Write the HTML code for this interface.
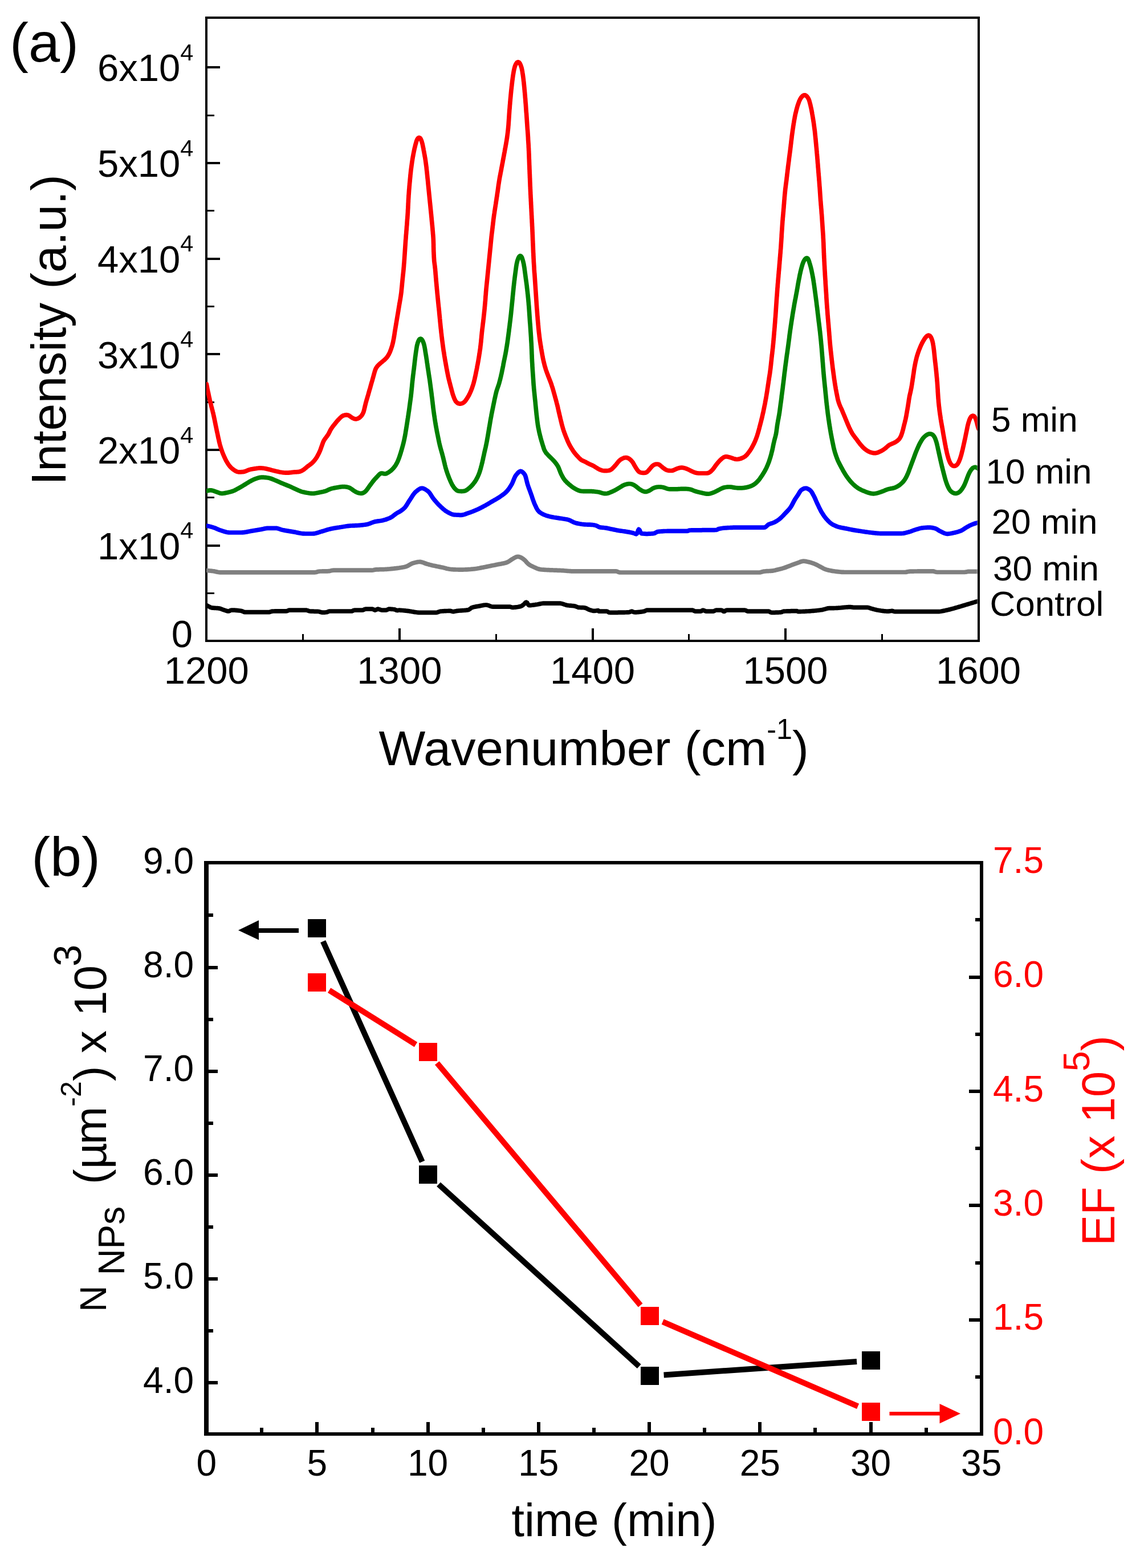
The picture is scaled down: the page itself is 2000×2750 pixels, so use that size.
<!DOCTYPE html>
<html lang="en"><head><meta charset="utf-8"><title>SERS spectra and nanoparticle density</title>
<style>
html,body{margin:0;padding:0;background:#fff;}
body{width:2000px;height:2750px;overflow:hidden;}
svg{display:block;}
text{font-family:"Liberation Sans", sans-serif;}
.red{fill:#ff0000;}
</style></head><body>
<svg width="2000" height="2750" viewBox="0 0 2000 2750" role="img" aria-label="SERS spectra and nanoparticle density versus time">
<rect x="0" y="0" width="2000" height="2750" fill="#ffffff"/>
<g id="plot-a">
<clipPath id="clipa"><rect x="362.0" y="33.3" width="1352.6" height="1089.0"/></clipPath>
<g stroke="#000" stroke-width="4" fill="none" shape-rendering="crispEdges">
<line x1="362.3" y1="956.6" x2="386.3" y2="956.6"/>
<line x1="362.3" y1="788.9" x2="386.3" y2="788.9"/>
<line x1="362.3" y1="621.2" x2="386.3" y2="621.2"/>
<line x1="362.3" y1="453.5" x2="386.3" y2="453.5"/>
<line x1="362.3" y1="285.8" x2="386.3" y2="285.8"/>
<line x1="362.3" y1="118.1" x2="386.3" y2="118.1"/>
<line x1="362.3" y1="1040.5" x2="376.3" y2="1040.5" stroke-width="3"/>
<line x1="362.3" y1="872.8" x2="376.3" y2="872.8" stroke-width="3"/>
<line x1="362.3" y1="705.0" x2="376.3" y2="705.0" stroke-width="3"/>
<line x1="362.3" y1="537.4" x2="376.3" y2="537.4" stroke-width="3"/>
<line x1="362.3" y1="369.6" x2="376.3" y2="369.6" stroke-width="3"/>
<line x1="362.3" y1="202.0" x2="376.3" y2="202.0" stroke-width="3"/>
<line x1="700.9" y1="1124.3" x2="700.9" y2="1102.3"/>
<line x1="1039.5" y1="1124.3" x2="1039.5" y2="1102.3"/>
<line x1="1378.0" y1="1124.3" x2="1378.0" y2="1102.3"/>
<line x1="531.6" y1="1124.3" x2="531.6" y2="1112.3" stroke-width="3"/>
<line x1="870.2" y1="1124.3" x2="870.2" y2="1112.3" stroke-width="3"/>
<line x1="1208.7" y1="1124.3" x2="1208.7" y2="1112.3" stroke-width="3"/>
<line x1="1547.3" y1="1124.3" x2="1547.3" y2="1112.3" stroke-width="3"/>
</g>
<rect x="362.3" y="31.3" width="1354.3" height="1093.0" fill="none" stroke="#000" stroke-width="4.0" shape-rendering="crispEdges"/>
<g clip-path="url(#clipa)" fill="none" stroke-width="7.7" stroke-linejoin="round" stroke-linecap="round">
<path stroke="#000000" d="M362.3 1061.6 L363.8 1062.3 L365.3 1063.1 L366.8 1063.9 L368.3 1064.7 L369.8 1065.4 L371.3 1065.9 L372.8 1066.1 L374.3 1066.2 L375.8 1066.3 L377.3 1066.4 L378.8 1066.5 L380.3 1066.6 L381.8 1066.7 L383.3 1066.8 L384.8 1067.1 L386.3 1067.4 L387.8 1067.9 L389.3 1068.5 L390.8 1069.1 L392.3 1069.6 L393.8 1070.1 L395.3 1070.6 L396.8 1071.1 L398.3 1071.6 L399.8 1071.9 L401.3 1072.0 L402.8 1071.4 L404.3 1070.5 L405.8 1070.1 L407.3 1070.1 L408.8 1070.1 L410.3 1070.2 L411.8 1070.2 L413.3 1070.3 L414.8 1070.4 L416.3 1070.6 L417.8 1070.7 L419.3 1070.9 L420.8 1071.0 L422.3 1071.2 L423.8 1071.5 L425.3 1072.1 L426.8 1072.8 L428.3 1073.4 L429.8 1073.7 L431.3 1073.7 L432.8 1073.7 L434.3 1073.7 L435.8 1073.7 L437.3 1073.7 L438.8 1073.7 L440.3 1073.7 L441.8 1073.7 L443.3 1073.7 L444.8 1073.7 L446.3 1073.7 L447.8 1073.7 L449.3 1073.7 L450.8 1073.7 L452.3 1073.7 L453.8 1073.7 L455.3 1073.7 L456.8 1073.7 L458.3 1073.7 L459.8 1073.7 L461.3 1073.7 L462.8 1073.7 L464.3 1073.7 L465.8 1073.7 L467.3 1073.7 L468.8 1073.7 L470.3 1073.7 L471.8 1073.7 L473.3 1073.4 L474.8 1072.9 L476.3 1072.4 L477.8 1072.1 L479.3 1072.0 L480.8 1072.0 L482.3 1071.9 L483.8 1071.9 L485.3 1071.9 L486.8 1071.9 L488.3 1071.9 L489.8 1071.9 L491.3 1071.9 L492.8 1071.9 L494.3 1071.9 L495.8 1071.9 L497.3 1071.9 L498.8 1071.8 L500.3 1071.8 L501.8 1071.8 L503.3 1071.7 L504.8 1071.1 L506.3 1070.4 L507.8 1070.1 L509.3 1070.1 L510.8 1070.1 L512.3 1070.1 L513.8 1070.1 L515.3 1070.1 L516.8 1070.1 L518.3 1070.1 L519.8 1070.1 L521.3 1070.1 L522.8 1070.1 L524.3 1070.1 L525.8 1070.1 L527.3 1070.1 L528.8 1070.1 L530.3 1070.1 L531.8 1070.1 L533.3 1070.1 L534.8 1070.1 L536.3 1070.1 L537.8 1070.2 L539.3 1070.6 L540.8 1071.1 L542.3 1071.7 L543.8 1072.0 L545.3 1072.1 L546.8 1072.1 L548.3 1072.2 L549.8 1072.2 L551.3 1072.3 L552.8 1072.3 L554.3 1072.3 L555.8 1072.4 L557.3 1072.4 L558.8 1072.5 L560.3 1072.8 L561.8 1073.3 L563.3 1073.7 L564.8 1074.1 L566.3 1074.2 L567.8 1074.2 L569.3 1074.1 L570.8 1074.0 L572.3 1073.8 L573.8 1073.6 L575.3 1072.9 L576.8 1072.3 L578.3 1072.0 L579.8 1072.0 L581.3 1072.0 L582.8 1072.0 L584.3 1072.0 L585.8 1072.0 L587.3 1072.0 L588.8 1072.0 L590.3 1072.0 L591.8 1072.0 L593.3 1072.0 L594.8 1072.0 L596.3 1072.0 L597.8 1072.0 L599.3 1072.0 L600.8 1072.0 L602.3 1072.0 L603.8 1072.0 L605.3 1072.0 L606.8 1072.0 L608.3 1072.0 L609.8 1072.0 L611.3 1072.0 L612.8 1072.0 L614.3 1072.0 L615.8 1072.0 L617.3 1072.0 L618.8 1071.3 L620.3 1070.5 L621.8 1070.1 L623.3 1070.1 L624.8 1070.1 L626.3 1070.1 L627.8 1070.1 L629.3 1070.1 L630.8 1070.1 L632.3 1070.1 L633.8 1070.1 L635.3 1070.1 L636.8 1070.0 L638.3 1069.3 L639.8 1068.5 L641.3 1068.1 L642.8 1068.1 L644.3 1068.1 L645.8 1068.1 L647.3 1068.1 L648.8 1068.1 L650.3 1068.1 L651.8 1068.1 L653.3 1068.1 L654.8 1068.6 L656.3 1069.5 L657.8 1070.1 L659.3 1069.8 L660.8 1068.9 L662.3 1068.2 L663.8 1068.2 L665.3 1068.6 L666.8 1069.2 L668.3 1069.7 L669.8 1070.1 L671.3 1070.1 L672.8 1070.1 L674.3 1070.1 L675.8 1070.1 L677.3 1070.1 L678.8 1069.7 L680.3 1068.9 L681.8 1068.2 L683.3 1068.1 L684.8 1068.2 L686.3 1068.3 L687.8 1068.4 L689.3 1068.5 L690.8 1068.7 L692.3 1068.9 L693.8 1069.5 L695.3 1070.2 L696.8 1070.6 L698.3 1070.4 L699.8 1070.2 L701.3 1070.2 L702.8 1070.3 L704.3 1070.4 L705.8 1070.5 L707.3 1070.6 L708.8 1070.8 L710.3 1070.9 L711.8 1071.1 L713.3 1071.3 L714.8 1071.4 L716.3 1071.6 L717.8 1071.8 L719.3 1072.1 L720.8 1072.3 L722.3 1072.6 L723.8 1072.8 L725.3 1073.1 L726.8 1073.4 L728.3 1073.6 L729.8 1073.8 L731.3 1074.0 L732.8 1074.2 L734.3 1074.3 L735.8 1074.3 L737.3 1074.3 L738.8 1074.3 L740.3 1074.3 L741.8 1074.3 L743.3 1074.3 L744.8 1074.3 L746.3 1074.3 L747.8 1074.3 L749.3 1074.3 L750.8 1074.3 L752.3 1074.3 L753.8 1074.3 L755.3 1074.3 L756.8 1074.3 L758.3 1074.3 L759.8 1074.3 L761.3 1074.3 L762.8 1074.3 L764.3 1074.3 L765.8 1074.3 L767.3 1074.0 L768.8 1073.4 L770.3 1072.8 L771.8 1072.3 L773.3 1072.1 L774.8 1072.0 L776.3 1071.9 L777.8 1071.8 L779.3 1071.7 L780.8 1071.6 L782.3 1071.6 L783.8 1071.5 L785.3 1071.5 L786.8 1071.4 L788.3 1071.4 L789.8 1071.4 L791.3 1071.7 L792.8 1072.2 L794.3 1072.6 L795.8 1072.6 L797.3 1072.3 L798.8 1072.0 L800.3 1071.7 L801.8 1071.4 L803.3 1071.3 L804.8 1071.1 L806.3 1071.0 L807.8 1070.9 L809.3 1070.8 L810.8 1070.7 L812.3 1070.6 L813.8 1070.5 L815.3 1070.4 L816.8 1070.3 L818.3 1070.1 L819.8 1069.9 L821.3 1069.7 L822.8 1069.1 L824.3 1068.1 L825.8 1067.0 L827.3 1065.9 L828.8 1065.3 L830.3 1064.8 L831.8 1064.5 L833.3 1064.2 L834.8 1063.9 L836.3 1063.6 L837.8 1063.4 L839.3 1063.2 L840.8 1062.9 L842.3 1062.6 L843.8 1062.3 L845.3 1062.0 L846.8 1061.7 L848.3 1061.4 L849.8 1061.2 L851.3 1061.0 L852.8 1061.0 L854.3 1061.1 L855.8 1061.5 L857.3 1061.9 L858.8 1062.5 L860.3 1063.1 L861.8 1063.6 L863.3 1064.0 L864.8 1064.1 L866.3 1064.1 L867.8 1064.1 L869.3 1064.1 L870.8 1064.1 L872.3 1064.1 L873.8 1064.1 L875.3 1064.1 L876.8 1064.1 L878.3 1064.1 L879.8 1064.1 L881.3 1064.1 L882.8 1064.1 L884.3 1064.1 L885.8 1064.1 L887.3 1064.1 L888.8 1064.1 L890.3 1064.1 L891.8 1064.1 L893.3 1064.1 L894.8 1064.2 L896.3 1064.7 L897.8 1065.2 L899.3 1065.3 L900.8 1065.3 L902.3 1065.2 L903.8 1065.1 L905.3 1064.9 L906.8 1064.7 L908.3 1064.5 L909.8 1064.2 L911.3 1063.9 L912.8 1063.6 L914.3 1063.1 L915.8 1062.3 L917.3 1061.2 L918.8 1060.1 L920.3 1058.6 L921.8 1057.0 L923.3 1056.2 L924.8 1057.1 L926.3 1059.8 L927.8 1061.7 L929.3 1061.7 L930.8 1061.6 L932.3 1061.5 L933.8 1061.3 L935.3 1061.1 L936.8 1060.9 L938.3 1060.7 L939.8 1060.4 L941.3 1060.2 L942.8 1060.0 L944.3 1059.7 L945.8 1059.4 L947.3 1059.1 L948.8 1058.8 L950.3 1058.5 L951.8 1058.3 L953.3 1058.1 L954.8 1058.1 L956.3 1058.1 L957.8 1058.1 L959.3 1058.1 L960.8 1058.1 L962.3 1058.1 L963.8 1058.1 L965.3 1058.1 L966.8 1058.1 L968.3 1058.1 L969.8 1058.1 L971.3 1058.1 L972.8 1058.1 L974.3 1058.1 L975.8 1058.1 L977.3 1058.1 L978.8 1058.1 L980.3 1058.1 L981.8 1058.1 L983.3 1058.2 L984.8 1058.5 L986.3 1058.9 L987.8 1059.3 L989.3 1059.8 L990.8 1060.4 L992.3 1060.8 L993.8 1061.3 L995.3 1061.6 L996.8 1061.8 L998.3 1062.0 L999.8 1062.1 L1001.3 1062.2 L1002.8 1062.3 L1004.3 1062.5 L1005.8 1062.6 L1007.3 1062.8 L1008.8 1063.1 L1010.3 1063.6 L1011.8 1064.2 L1013.3 1064.8 L1014.8 1065.3 L1016.3 1065.4 L1017.8 1065.5 L1019.3 1065.6 L1020.8 1065.6 L1022.3 1065.7 L1023.8 1065.7 L1025.3 1065.9 L1026.8 1066.2 L1028.3 1066.7 L1029.8 1067.5 L1031.3 1068.2 L1032.8 1069.0 L1034.3 1069.6 L1035.8 1070.0 L1037.3 1070.5 L1038.8 1070.9 L1040.3 1071.3 L1041.8 1071.4 L1043.3 1071.4 L1044.8 1071.2 L1046.3 1071.0 L1047.8 1070.8 L1049.3 1070.7 L1050.4 1072.1 L1051.9 1072.1 L1053.4 1072.1 L1054.9 1072.1 L1056.4 1072.1 L1057.9 1072.1 L1059.4 1072.1 L1060.9 1072.1 L1062.4 1072.1 L1063.9 1072.1 L1065.4 1072.3 L1066.9 1073.2 L1068.4 1074.1 L1069.9 1074.3 L1071.4 1074.3 L1072.9 1074.3 L1074.4 1074.3 L1075.9 1074.3 L1077.4 1074.3 L1078.9 1074.3 L1080.4 1074.3 L1081.9 1074.3 L1083.4 1074.3 L1084.9 1074.2 L1086.4 1074.2 L1087.9 1074.2 L1089.4 1074.2 L1090.9 1074.2 L1092.4 1074.1 L1093.9 1074.1 L1095.4 1074.1 L1096.9 1074.0 L1098.4 1074.0 L1099.9 1073.9 L1101.4 1073.9 L1102.9 1073.8 L1104.4 1073.6 L1105.9 1072.9 L1107.4 1072.3 L1108.9 1072.2 L1110.4 1072.9 L1111.9 1073.6 L1113.4 1073.8 L1114.9 1073.8 L1116.4 1073.8 L1117.9 1073.7 L1119.4 1073.6 L1120.9 1073.4 L1122.4 1073.3 L1123.9 1073.1 L1125.4 1072.9 L1126.9 1072.7 L1128.4 1072.4 L1129.9 1072.2 L1131.4 1071.6 L1132.9 1070.8 L1134.4 1070.2 L1135.9 1070.2 L1137.4 1070.2 L1138.9 1070.2 L1140.4 1070.2 L1141.9 1070.2 L1143.4 1070.2 L1144.9 1070.2 L1146.4 1070.2 L1147.9 1070.2 L1149.4 1070.2 L1150.9 1070.2 L1152.4 1070.2 L1153.9 1070.2 L1155.4 1070.2 L1156.9 1070.2 L1158.4 1070.2 L1159.9 1070.2 L1161.4 1070.2 L1162.9 1070.2 L1164.4 1070.2 L1165.9 1070.2 L1167.4 1070.2 L1168.9 1070.2 L1170.4 1070.2 L1171.9 1070.2 L1173.4 1070.2 L1174.9 1070.2 L1176.4 1070.2 L1177.9 1070.2 L1179.4 1070.2 L1180.9 1070.2 L1182.4 1070.2 L1183.9 1070.2 L1185.4 1070.2 L1186.9 1070.2 L1188.4 1070.2 L1189.9 1070.2 L1191.4 1070.2 L1192.9 1070.2 L1194.4 1070.2 L1195.9 1070.2 L1197.4 1070.2 L1198.9 1070.2 L1200.4 1070.2 L1201.9 1070.2 L1203.4 1070.2 L1204.9 1070.2 L1206.4 1070.2 L1207.9 1070.2 L1209.4 1070.2 L1210.9 1070.2 L1212.4 1070.2 L1213.9 1070.2 L1215.4 1070.2 L1216.9 1070.9 L1218.4 1071.8 L1219.9 1072.1 L1221.4 1072.1 L1222.9 1072.1 L1224.4 1072.1 L1225.9 1072.1 L1227.4 1072.1 L1228.9 1072.1 L1230.4 1071.8 L1231.9 1070.7 L1233.4 1070.2 L1234.9 1070.6 L1236.4 1071.3 L1237.9 1071.9 L1239.4 1072.1 L1240.9 1072.1 L1242.4 1072.1 L1243.9 1072.1 L1245.4 1072.1 L1246.9 1072.1 L1248.4 1072.1 L1249.9 1072.1 L1251.4 1072.1 L1252.9 1071.6 L1254.4 1070.8 L1255.9 1070.2 L1257.4 1070.2 L1258.9 1070.2 L1260.4 1070.2 L1261.9 1070.2 L1263.4 1070.2 L1264.9 1070.2 L1266.4 1070.3 L1267.9 1071.3 L1269.4 1072.4 L1270.9 1072.4 L1272.4 1071.3 L1273.9 1070.3 L1275.4 1070.2 L1276.9 1070.2 L1278.4 1070.2 L1279.9 1070.2 L1281.4 1070.2 L1282.9 1070.2 L1284.4 1070.2 L1285.9 1070.2 L1287.4 1070.2 L1288.9 1070.2 L1290.4 1070.2 L1291.9 1070.2 L1293.4 1070.2 L1294.9 1070.2 L1296.4 1070.2 L1297.9 1070.2 L1299.4 1070.2 L1300.9 1070.2 L1302.4 1070.2 L1303.9 1070.2 L1305.4 1070.2 L1306.9 1070.2 L1308.4 1070.5 L1309.9 1071.4 L1311.4 1072.1 L1312.9 1072.1 L1314.4 1072.1 L1315.9 1072.1 L1317.4 1072.1 L1318.9 1072.1 L1320.4 1072.1 L1321.9 1072.1 L1323.4 1072.1 L1324.9 1072.1 L1326.4 1072.1 L1327.9 1072.1 L1329.4 1072.1 L1330.9 1072.1 L1332.4 1072.1 L1333.9 1072.1 L1335.4 1072.1 L1336.9 1072.1 L1338.4 1072.1 L1339.9 1072.1 L1341.4 1072.1 L1342.9 1072.1 L1344.4 1072.1 L1345.9 1072.1 L1347.4 1072.1 L1348.9 1072.2 L1350.4 1073.0 L1351.9 1073.9 L1353.4 1074.3 L1354.9 1074.3 L1356.4 1074.3 L1357.9 1074.3 L1359.4 1074.3 L1360.9 1074.2 L1362.4 1074.2 L1363.9 1074.1 L1365.4 1074.1 L1366.9 1074.0 L1368.4 1073.9 L1369.9 1073.8 L1371.4 1073.5 L1372.9 1072.8 L1374.4 1072.2 L1375.9 1072.1 L1377.4 1072.0 L1378.9 1072.0 L1380.4 1071.9 L1381.9 1071.9 L1383.4 1071.8 L1384.9 1071.8 L1386.4 1071.8 L1387.9 1071.7 L1389.4 1071.7 L1390.9 1071.7 L1392.4 1071.7 L1393.9 1071.7 L1395.4 1071.7 L1396.9 1071.7 L1398.4 1071.6 L1399.9 1072.6 L1401.4 1072.6 L1402.9 1072.6 L1404.4 1072.6 L1405.9 1072.5 L1407.4 1072.5 L1408.9 1072.4 L1410.4 1072.3 L1411.9 1072.3 L1413.4 1072.2 L1414.9 1072.1 L1416.4 1072.0 L1417.9 1072.0 L1419.4 1071.9 L1420.9 1071.8 L1422.4 1071.7 L1423.9 1071.5 L1425.4 1071.4 L1426.9 1071.3 L1428.4 1071.2 L1429.9 1071.0 L1431.4 1070.9 L1432.9 1070.7 L1434.4 1070.5 L1435.9 1070.4 L1437.4 1070.2 L1438.9 1070.0 L1440.4 1069.8 L1441.9 1069.6 L1443.4 1069.3 L1444.9 1068.9 L1446.4 1068.5 L1447.9 1068.1 L1449.4 1067.6 L1450.9 1067.2 L1452.4 1066.9 L1453.9 1066.7 L1455.4 1066.6 L1456.9 1066.6 L1458.4 1066.6 L1459.9 1066.6 L1461.4 1066.6 L1462.9 1066.6 L1464.4 1066.5 L1465.9 1066.5 L1467.4 1066.4 L1468.9 1066.4 L1470.4 1066.2 L1471.9 1066.1 L1473.4 1066.0 L1474.9 1065.9 L1476.4 1065.7 L1477.9 1065.6 L1479.4 1065.4 L1480.9 1065.3 L1482.4 1065.1 L1483.9 1065.0 L1485.4 1064.9 L1486.9 1064.8 L1488.4 1064.7 L1489.9 1064.6 L1491.4 1064.6 L1492.9 1064.7 L1494.4 1064.9 L1495.9 1065.2 L1497.4 1065.3 L1498.9 1065.3 L1500.4 1065.3 L1501.9 1065.3 L1503.4 1065.3 L1504.9 1065.3 L1506.4 1065.3 L1507.9 1065.3 L1509.4 1065.3 L1510.9 1065.3 L1512.4 1065.3 L1513.9 1065.3 L1515.4 1065.3 L1516.9 1065.3 L1518.4 1065.3 L1519.9 1065.3 L1521.4 1065.3 L1522.9 1065.5 L1524.4 1065.9 L1525.9 1066.4 L1527.4 1067.0 L1528.9 1067.4 L1530.4 1067.8 L1531.9 1068.2 L1533.4 1068.6 L1534.9 1069.0 L1536.4 1069.3 L1537.9 1069.7 L1539.4 1070.0 L1540.9 1070.2 L1542.4 1070.5 L1543.9 1070.7 L1545.4 1071.0 L1546.9 1071.2 L1548.4 1071.4 L1549.9 1071.6 L1551.4 1071.8 L1552.9 1071.9 L1554.4 1072.0 L1555.9 1072.1 L1557.4 1072.1 L1558.9 1072.1 L1560.4 1071.9 L1561.9 1071.7 L1563.4 1071.5 L1564.9 1071.4 L1566.4 1071.7 L1567.9 1072.2 L1569.4 1072.6 L1570.9 1072.6 L1572.4 1072.6 L1573.9 1072.6 L1575.4 1072.6 L1576.9 1072.6 L1578.4 1072.6 L1579.9 1072.6 L1581.4 1072.6 L1582.9 1072.6 L1584.4 1072.6 L1585.9 1072.6 L1587.4 1072.6 L1588.9 1072.6 L1590.4 1072.6 L1591.9 1072.6 L1593.4 1072.6 L1594.9 1072.6 L1596.4 1072.6 L1597.9 1072.6 L1599.4 1072.6 L1600.9 1072.6 L1602.4 1072.6 L1603.9 1072.6 L1605.4 1072.6 L1606.9 1072.6 L1608.4 1072.6 L1609.9 1072.6 L1611.4 1072.6 L1612.9 1072.6 L1614.4 1072.6 L1615.9 1072.6 L1617.4 1072.6 L1618.9 1072.6 L1620.4 1072.6 L1621.9 1072.6 L1623.4 1072.6 L1624.9 1072.6 L1626.4 1072.6 L1627.9 1072.6 L1629.4 1072.6 L1630.9 1072.6 L1632.4 1072.6 L1633.9 1072.6 L1635.4 1072.6 L1636.9 1072.6 L1638.4 1072.6 L1639.9 1072.6 L1641.4 1072.6 L1642.9 1072.6 L1644.4 1072.6 L1645.9 1072.6 L1647.4 1072.6 L1648.9 1072.5 L1650.4 1072.3 L1651.9 1072.0 L1653.4 1071.7 L1654.9 1071.4 L1656.4 1071.1 L1657.9 1070.8 L1659.4 1070.4 L1660.9 1070.1 L1662.4 1069.8 L1663.9 1069.4 L1665.4 1069.1 L1666.9 1068.7 L1668.4 1068.3 L1669.9 1067.9 L1671.4 1067.5 L1672.9 1067.1 L1674.4 1066.7 L1675.9 1066.2 L1677.4 1065.8 L1678.9 1065.4 L1680.4 1064.9 L1681.9 1064.5 L1683.4 1064.0 L1684.9 1063.6 L1686.4 1063.1 L1687.9 1062.7 L1689.4 1062.2 L1690.9 1061.8 L1692.4 1061.3 L1693.9 1060.9 L1695.4 1060.4 L1696.9 1060.0 L1698.4 1059.5 L1699.9 1059.1 L1701.4 1058.6 L1702.9 1058.2 L1704.4 1057.7 L1705.9 1057.3 L1707.4 1056.8 L1708.9 1056.4 L1710.4 1055.9 L1711.9 1055.5 L1713.4 1055.0 L1714.9 1054.6 L1716.4 1054.1 L1716.6 1054.0"/>
<path stroke="#808080" d="M362.3 1000.3 L363.8 1000.5 L365.3 1000.7 L366.8 1000.9 L368.3 1001.0 L369.7 1001.2 L371.2 1001.3 L372.7 1001.5 L374.2 1001.7 L375.7 1001.9 L377.2 1002.2 L378.6 1002.6 L380.1 1002.9 L381.6 1003.2 L383.0 1003.5 L384.5 1003.7 L386.0 1003.8 L387.5 1003.8 L389.0 1003.8 L390.5 1003.9 L392.0 1003.9 L393.5 1003.9 L395.0 1003.9 L396.5 1003.9 L398.0 1003.9 L399.5 1003.9 L401.0 1003.9 L402.5 1003.9 L404.0 1003.9 L405.5 1003.9 L407.0 1003.9 L408.5 1003.9 L410.0 1003.9 L411.5 1003.9 L413.0 1003.9 L414.5 1003.9 L416.0 1003.9 L417.5 1003.9 L419.0 1003.9 L420.5 1003.9 L422.0 1003.9 L423.5 1003.9 L425.0 1003.9 L426.5 1003.9 L428.0 1003.9 L429.5 1003.9 L431.0 1003.9 L432.5 1003.9 L434.0 1003.9 L435.5 1003.9 L437.0 1003.9 L438.5 1003.9 L440.0 1003.9 L441.5 1003.9 L443.0 1003.9 L444.5 1003.9 L446.0 1003.9 L447.5 1003.9 L449.0 1003.9 L450.5 1003.9 L452.0 1003.9 L453.5 1003.9 L455.0 1003.9 L456.5 1003.9 L458.0 1003.9 L459.5 1003.9 L461.0 1003.9 L462.5 1003.9 L464.0 1003.9 L465.5 1003.9 L467.0 1003.9 L468.5 1003.9 L470.0 1003.9 L471.5 1003.9 L473.0 1003.9 L474.5 1003.9 L476.0 1003.9 L477.5 1003.9 L479.0 1003.9 L480.5 1003.9 L482.0 1003.9 L483.5 1003.9 L485.0 1003.9 L486.5 1003.9 L488.0 1003.9 L489.5 1003.9 L491.0 1003.9 L492.5 1003.9 L494.0 1003.9 L495.5 1003.9 L497.0 1003.9 L498.5 1003.9 L500.0 1003.9 L501.5 1003.9 L503.0 1003.9 L504.5 1003.9 L506.0 1003.9 L507.5 1003.9 L509.0 1003.9 L510.5 1003.9 L512.0 1003.9 L513.5 1003.9 L515.0 1003.9 L516.5 1003.9 L518.0 1003.9 L519.5 1003.9 L521.0 1003.9 L522.5 1003.9 L524.1 1003.9 L525.6 1003.9 L527.1 1003.9 L528.6 1003.9 L530.1 1003.9 L531.6 1003.9 L533.1 1003.9 L534.6 1003.9 L536.1 1003.9 L537.6 1003.9 L539.1 1003.9 L540.6 1003.9 L542.1 1003.9 L543.6 1003.9 L545.1 1003.9 L546.6 1003.9 L548.1 1003.9 L549.6 1003.9 L551.1 1003.8 L552.6 1003.8 L554.0 1003.6 L555.5 1003.3 L556.9 1002.8 L558.3 1002.4 L559.8 1002.2 L561.2 1002.0 L562.7 1002.0 L564.2 1002.0 L565.7 1001.9 L567.2 1001.9 L568.7 1001.9 L570.2 1001.9 L571.7 1001.9 L573.2 1001.8 L574.7 1001.8 L576.2 1001.7 L577.7 1001.6 L579.2 1001.3 L580.6 1000.9 L582.1 1000.5 L583.5 1000.3 L585.0 1000.2 L586.5 1000.2 L588.0 1000.2 L589.5 1000.2 L591.0 1000.2 L592.5 1000.2 L594.0 1000.2 L595.5 1000.2 L597.0 1000.2 L598.5 1000.2 L600.0 1000.2 L601.5 1000.2 L603.0 1000.2 L604.5 1000.2 L606.0 1000.2 L607.5 1000.2 L609.0 1000.2 L610.5 1000.2 L612.0 1000.2 L613.5 1000.2 L615.0 1000.2 L616.5 1000.2 L618.0 1000.2 L619.5 1000.2 L621.0 1000.2 L622.5 1000.2 L624.0 1000.2 L625.5 1000.2 L627.0 1000.2 L628.5 1000.2 L630.0 1000.2 L631.5 1000.2 L633.0 1000.2 L634.5 1000.2 L636.0 1000.2 L637.5 1000.2 L639.0 1000.2 L640.5 1000.2 L642.0 1000.2 L643.5 1000.2 L645.0 1000.2 L646.5 1000.2 L648.0 1000.2 L649.5 1000.2 L651.0 1000.2 L652.5 1000.2 L654.0 1000.0 L655.5 999.7 L656.9 999.3 L658.4 999.1 L659.9 998.9 L661.4 998.9 L662.9 998.8 L664.4 998.8 L665.9 998.7 L667.4 998.7 L668.9 998.7 L670.4 998.7 L671.9 998.6 L673.4 998.6 L674.9 998.5 L676.4 998.4 L677.9 998.4 L679.4 998.2 L680.9 998.1 L682.4 998.0 L683.8 997.9 L685.3 997.7 L686.8 997.6 L688.3 997.4 L689.8 997.3 L691.3 997.1 L692.8 996.9 L694.3 996.8 L695.8 996.6 L697.3 996.4 L698.8 996.2 L700.2 996.0 L701.7 995.7 L703.2 995.5 L704.7 995.3 L706.2 995.0 L707.6 994.8 L709.1 994.5 L710.6 994.1 L712.0 993.7 L713.4 993.3 L714.8 992.7 L716.1 992.0 L717.4 991.2 L718.7 990.5 L720.0 989.7 L721.3 989.0 L722.7 988.4 L724.1 987.8 L725.5 987.4 L727.0 987.0 L728.4 986.6 L729.9 986.2 L731.3 985.9 L732.8 985.6 L734.3 985.5 L735.8 985.4 L737.3 985.4 L738.8 985.6 L740.2 986.0 L741.6 986.4 L743.1 986.9 L744.5 987.5 L745.9 988.0 L747.3 988.5 L748.7 989.0 L750.1 989.4 L751.6 989.8 L753.0 990.2 L754.5 990.6 L755.9 990.9 L757.4 991.3 L758.8 991.7 L760.3 992.0 L761.8 992.3 L763.2 992.6 L764.7 992.9 L766.2 993.2 L767.7 993.5 L769.1 993.8 L770.6 994.1 L772.1 994.4 L773.5 994.7 L775.0 995.0 L776.5 995.3 L777.9 995.6 L779.4 996.0 L780.8 996.4 L782.3 996.8 L783.7 997.2 L785.2 997.5 L786.7 997.8 L788.1 998.1 L789.6 998.3 L791.1 998.5 L792.6 998.6 L794.1 998.7 L795.6 998.8 L797.1 998.9 L798.6 998.9 L800.1 999.0 L801.6 999.0 L803.1 999.0 L804.6 999.1 L806.1 999.1 L807.6 999.1 L809.1 999.1 L810.6 999.1 L812.1 999.1 L813.6 999.0 L815.1 999.0 L816.6 998.9 L818.1 998.9 L819.6 998.8 L821.1 998.7 L822.6 998.6 L824.1 998.5 L825.6 998.4 L827.1 998.2 L828.6 998.1 L830.1 998.0 L831.6 997.8 L833.1 997.7 L834.5 997.5 L836.0 997.2 L837.5 997.0 L839.0 996.7 L840.5 996.5 L841.9 996.2 L843.4 995.9 L844.9 995.6 L846.4 995.3 L847.8 995.1 L849.3 994.8 L850.8 994.5 L852.2 994.2 L853.7 993.9 L855.2 993.6 L856.7 993.3 L858.1 993.0 L859.6 992.7 L861.1 992.4 L862.5 992.1 L864.0 991.8 L865.5 991.5 L867.0 991.2 L868.4 990.9 L869.9 990.6 L871.4 990.3 L872.8 990.0 L874.3 989.7 L875.8 989.4 L877.3 989.2 L878.7 988.9 L880.2 988.6 L881.7 988.3 L883.2 988.1 L884.6 987.7 L886.1 987.4 L887.5 987.0 L888.9 986.5 L890.3 985.9 L891.6 985.3 L892.9 984.5 L894.2 983.6 L895.4 982.8 L896.6 981.9 L897.9 981.1 L899.2 980.3 L900.5 979.6 L901.7 978.8 L903.1 978.1 L904.4 977.4 L905.8 976.8 L907.2 976.4 L908.6 976.3 L910.1 976.4 L911.5 976.8 L912.9 977.3 L914.3 978.0 L915.6 978.7 L916.8 979.5 L918.1 980.4 L919.3 981.3 L920.4 982.3 L921.4 983.3 L922.5 984.4 L923.4 985.6 L924.4 986.7 L925.5 987.8 L926.5 988.8 L927.7 989.8 L928.9 990.6 L930.2 991.4 L931.5 992.1 L932.8 992.8 L934.2 993.4 L935.6 994.1 L936.9 994.7 L938.3 995.3 L939.7 995.9 L941.0 996.5 L942.4 997.1 L943.8 997.6 L945.2 998.1 L946.7 998.4 L948.2 998.7 L949.7 998.9 L951.1 999.0 L952.6 999.1 L954.1 999.2 L955.6 999.3 L957.1 999.4 L958.6 999.5 L960.1 999.6 L961.6 999.6 L963.1 999.7 L964.6 999.8 L966.1 999.8 L967.6 999.9 L969.1 999.9 L970.6 1000.0 L972.1 1000.1 L973.6 1000.1 L975.1 1000.2 L976.6 1000.2 L978.1 1000.3 L979.6 1000.3 L981.1 1000.4 L982.6 1000.4 L984.1 1000.5 L985.6 1000.6 L987.1 1000.6 L988.6 1000.7 L990.1 1000.9 L991.6 1001.0 L993.1 1001.1 L994.6 1001.3 L996.1 1001.4 L997.6 1001.5 L999.1 1001.6 L1000.6 1001.7 L1002.1 1001.8 L1003.6 1001.8 L1005.1 1001.8 L1006.6 1001.8 L1008.1 1001.8 L1009.6 1001.8 L1011.1 1001.8 L1012.6 1001.8 L1014.1 1001.8 L1015.6 1001.8 L1017.1 1001.8 L1018.6 1001.8 L1020.1 1001.8 L1021.6 1001.8 L1023.1 1001.8 L1024.6 1001.8 L1026.1 1001.8 L1027.6 1001.8 L1029.1 1001.8 L1030.6 1001.8 L1032.1 1001.8 L1033.6 1001.8 L1035.1 1001.8 L1036.6 1001.8 L1038.1 1001.8 L1039.6 1001.8 L1041.1 1001.8 L1042.6 1001.8 L1044.1 1001.8 L1045.6 1001.8 L1047.1 1001.8 L1048.6 1001.8 L1050.1 1001.8 L1051.6 1001.8 L1053.1 1001.8 L1054.6 1001.8 L1056.1 1001.8 L1057.6 1001.8 L1059.1 1001.8 L1060.6 1001.8 L1062.1 1001.8 L1063.6 1001.8 L1065.1 1001.8 L1066.6 1001.8 L1068.1 1001.8 L1069.6 1001.8 L1071.1 1001.8 L1072.6 1001.8 L1074.1 1001.8 L1075.6 1001.8 L1077.1 1001.8 L1078.6 1001.8 L1080.1 1001.8 L1081.6 1002.0 L1083.0 1002.4 L1084.3 1003.0 L1085.7 1003.6 L1087.1 1003.9 L1088.6 1004.0 L1090.1 1004.0 L1091.6 1004.0 L1093.1 1004.0 L1094.6 1004.0 L1096.1 1004.0 L1097.6 1004.0 L1099.1 1004.0 L1100.6 1004.0 L1102.1 1004.0 L1103.6 1004.0 L1105.1 1004.0 L1106.6 1004.0 L1108.1 1004.0 L1109.6 1004.0 L1111.1 1004.0 L1112.6 1004.0 L1114.1 1004.0 L1115.6 1004.0 L1117.1 1004.0 L1118.6 1004.0 L1120.1 1004.0 L1121.6 1004.0 L1123.1 1004.0 L1124.6 1004.0 L1126.1 1004.0 L1127.6 1004.0 L1129.1 1004.0 L1130.6 1004.0 L1132.1 1004.0 L1133.6 1004.0 L1135.1 1004.0 L1136.6 1004.0 L1138.1 1004.0 L1139.6 1004.0 L1141.1 1004.0 L1142.6 1004.0 L1144.1 1004.0 L1145.6 1004.0 L1147.1 1004.0 L1148.6 1004.0 L1150.1 1004.0 L1151.6 1004.0 L1153.1 1004.0 L1154.6 1004.0 L1156.1 1004.0 L1157.6 1004.0 L1159.1 1004.0 L1160.6 1004.0 L1162.1 1004.0 L1163.6 1004.0 L1165.1 1004.0 L1166.6 1004.0 L1168.1 1004.0 L1169.6 1004.0 L1171.1 1004.0 L1172.6 1004.0 L1174.1 1004.0 L1175.6 1004.0 L1177.1 1004.0 L1178.6 1004.0 L1180.1 1004.0 L1181.6 1004.0 L1183.1 1004.0 L1184.6 1004.0 L1186.1 1004.0 L1187.6 1004.0 L1189.1 1004.0 L1190.6 1004.0 L1192.1 1004.0 L1193.6 1004.0 L1195.1 1004.0 L1196.6 1004.0 L1198.1 1004.0 L1199.6 1004.0 L1201.1 1004.0 L1202.6 1004.0 L1204.1 1004.0 L1205.6 1004.0 L1207.1 1004.0 L1208.6 1004.0 L1210.1 1004.0 L1211.6 1004.0 L1213.1 1004.0 L1214.6 1004.0 L1216.1 1004.0 L1217.6 1004.0 L1219.1 1004.0 L1220.6 1004.0 L1222.1 1004.0 L1223.6 1004.0 L1225.1 1004.0 L1226.6 1004.0 L1228.1 1004.0 L1229.6 1004.0 L1231.1 1004.0 L1232.6 1004.0 L1234.1 1004.0 L1235.6 1004.0 L1237.1 1004.0 L1238.6 1004.0 L1240.1 1004.0 L1241.6 1004.0 L1243.1 1004.0 L1244.6 1004.0 L1246.1 1004.0 L1247.6 1004.0 L1249.1 1004.0 L1250.6 1004.0 L1252.1 1004.0 L1253.6 1004.0 L1255.1 1004.0 L1256.6 1004.0 L1258.1 1004.0 L1259.6 1004.0 L1261.1 1004.0 L1262.6 1004.0 L1264.1 1004.0 L1265.6 1004.0 L1267.1 1004.0 L1268.6 1004.0 L1270.1 1004.0 L1271.6 1004.0 L1273.2 1004.0 L1274.7 1004.0 L1276.2 1004.0 L1277.7 1004.0 L1279.2 1004.0 L1280.7 1004.0 L1282.2 1004.0 L1283.7 1004.0 L1285.2 1004.0 L1286.7 1004.0 L1288.2 1004.0 L1289.7 1004.0 L1291.2 1004.0 L1292.7 1004.0 L1294.2 1004.0 L1295.7 1004.0 L1297.2 1004.0 L1298.7 1004.0 L1300.2 1004.0 L1301.7 1004.0 L1303.2 1004.0 L1304.7 1004.0 L1306.2 1004.0 L1307.7 1004.0 L1309.2 1004.0 L1310.7 1004.0 L1312.2 1004.0 L1313.7 1004.0 L1315.2 1004.0 L1316.7 1004.0 L1318.2 1004.0 L1319.7 1004.0 L1321.2 1004.0 L1322.7 1004.0 L1324.2 1004.0 L1325.7 1004.0 L1327.2 1004.0 L1328.7 1004.0 L1330.2 1004.0 L1331.7 1004.0 L1333.2 1003.9 L1334.6 1003.7 L1336.0 1003.2 L1337.4 1002.8 L1338.9 1002.4 L1340.4 1002.1 L1341.8 1002.0 L1343.3 1001.8 L1344.8 1001.7 L1346.3 1001.7 L1347.8 1001.6 L1349.3 1001.5 L1350.8 1001.4 L1352.3 1001.3 L1353.8 1001.2 L1355.3 1001.1 L1356.8 1000.8 L1358.3 1000.5 L1359.7 1000.2 L1361.2 999.8 L1362.6 999.4 L1364.1 999.1 L1365.5 998.7 L1367.0 998.4 L1368.5 998.0 L1369.9 997.6 L1371.4 997.3 L1372.8 996.9 L1374.2 996.4 L1375.7 996.0 L1377.1 995.5 L1378.5 995.0 L1379.9 994.5 L1381.3 993.9 L1382.7 993.4 L1384.1 992.8 L1385.5 992.3 L1386.9 991.8 L1388.3 991.2 L1389.7 990.7 L1391.1 990.2 L1392.5 989.6 L1393.9 989.1 L1395.3 988.6 L1396.8 988.1 L1398.2 987.6 L1399.6 987.1 L1401.0 986.6 L1402.4 986.1 L1403.8 985.5 L1405.2 985.0 L1406.6 984.6 L1408.1 984.3 L1409.6 984.2 L1411.1 984.2 L1412.6 984.4 L1414.1 984.6 L1415.5 984.9 L1417.0 985.2 L1418.4 985.6 L1419.9 985.9 L1421.4 986.3 L1422.8 986.7 L1424.2 987.2 L1425.6 987.6 L1427.1 988.2 L1428.5 988.7 L1429.8 989.3 L1431.2 989.9 L1432.6 990.5 L1433.9 991.2 L1435.2 991.9 L1436.6 992.6 L1437.9 993.3 L1439.2 994.0 L1440.5 994.7 L1441.9 995.4 L1443.2 996.2 L1444.5 996.9 L1445.8 997.5 L1447.2 998.1 L1448.6 998.6 L1450.1 999.1 L1451.5 999.5 L1452.9 999.9 L1454.4 1000.2 L1455.9 1000.5 L1457.3 1000.8 L1458.8 1001.1 L1460.3 1001.4 L1461.8 1001.6 L1463.3 1001.8 L1464.7 1002.0 L1466.2 1002.2 L1467.7 1002.4 L1469.2 1002.6 L1470.7 1002.7 L1472.2 1002.9 L1473.7 1003.0 L1475.2 1003.2 L1476.7 1003.3 L1478.2 1003.4 L1479.7 1003.4 L1481.2 1003.5 L1482.7 1003.5 L1484.2 1003.5 L1485.7 1003.5 L1487.2 1003.5 L1488.7 1003.5 L1490.2 1003.5 L1491.7 1003.5 L1493.2 1003.5 L1494.7 1003.5 L1496.2 1003.5 L1497.7 1003.5 L1499.2 1003.5 L1500.7 1003.5 L1502.2 1003.5 L1503.7 1003.5 L1505.2 1003.5 L1506.7 1003.5 L1508.2 1003.5 L1509.7 1003.5 L1511.2 1003.5 L1512.7 1003.5 L1514.2 1003.5 L1515.7 1003.5 L1517.2 1003.5 L1518.7 1003.5 L1520.2 1003.5 L1521.7 1003.5 L1523.2 1003.5 L1524.7 1003.5 L1526.2 1003.5 L1527.7 1003.5 L1529.2 1003.5 L1530.7 1003.5 L1532.2 1003.5 L1533.7 1003.5 L1535.2 1003.5 L1536.7 1003.5 L1538.2 1003.5 L1539.7 1003.5 L1541.2 1003.5 L1542.7 1003.5 L1544.2 1003.5 L1545.7 1003.5 L1547.2 1003.5 L1548.7 1003.5 L1550.2 1003.5 L1551.7 1003.5 L1553.2 1003.5 L1554.7 1003.5 L1556.2 1003.5 L1557.7 1003.5 L1559.2 1003.5 L1560.7 1003.5 L1562.2 1003.5 L1563.7 1003.5 L1565.2 1003.5 L1566.7 1003.5 L1568.2 1003.5 L1569.7 1003.5 L1571.2 1003.5 L1572.7 1003.5 L1574.2 1003.5 L1575.7 1003.5 L1577.2 1003.5 L1578.7 1003.5 L1580.2 1003.5 L1581.7 1003.5 L1583.2 1003.5 L1584.7 1003.5 L1586.2 1003.5 L1587.7 1003.5 L1589.2 1003.4 L1590.7 1003.1 L1592.1 1002.8 L1593.6 1002.5 L1595.1 1002.3 L1596.5 1002.2 L1598.0 1002.2 L1599.5 1002.1 L1601.0 1002.1 L1602.5 1002.1 L1604.0 1002.0 L1605.5 1002.0 L1607.0 1002.0 L1608.5 1002.0 L1610.1 1001.9 L1611.6 1001.9 L1613.1 1001.9 L1614.6 1001.9 L1616.1 1001.9 L1617.6 1001.9 L1619.1 1001.9 L1620.6 1001.8 L1622.1 1001.8 L1623.6 1001.8 L1625.1 1001.8 L1626.6 1001.8 L1628.1 1001.8 L1629.6 1001.8 L1631.1 1001.8 L1632.6 1001.8 L1634.1 1001.8 L1635.6 1001.8 L1637.0 1001.9 L1638.5 1002.1 L1639.9 1002.6 L1641.3 1003.0 L1642.8 1003.3 L1644.2 1003.5 L1645.7 1003.5 L1647.2 1003.5 L1648.7 1003.5 L1650.2 1003.5 L1651.7 1003.5 L1653.2 1003.5 L1654.7 1003.5 L1656.2 1003.5 L1657.7 1003.5 L1659.2 1003.5 L1660.7 1003.5 L1662.2 1003.5 L1663.7 1003.5 L1665.2 1003.5 L1666.7 1003.5 L1668.3 1003.5 L1669.8 1003.5 L1671.3 1003.5 L1672.8 1003.5 L1674.3 1003.5 L1675.8 1003.5 L1677.3 1003.5 L1678.8 1003.5 L1680.3 1003.5 L1681.8 1003.5 L1683.3 1003.5 L1684.8 1003.5 L1686.3 1003.5 L1687.8 1003.5 L1689.3 1003.5 L1690.8 1003.5 L1692.3 1003.5 L1693.7 1003.3 L1695.2 1003.1 L1696.7 1002.7 L1698.1 1002.4 L1699.6 1002.3 L1701.1 1002.3 L1702.6 1002.3 L1704.1 1002.3 L1705.6 1002.3 L1707.1 1002.3 L1708.6 1002.3 L1710.1 1002.3 L1711.6 1002.3 L1713.1 1002.3 L1714.6 1002.3 L1716.1 1002.3 L1716.6 1002.3"/>
<path stroke="#0000ff" d="M362.3 922.2 L363.8 922.4 L365.3 922.7 L366.8 923.0 L368.3 923.4 L369.8 923.8 L371.3 924.2 L372.8 924.6 L374.3 925.1 L375.8 925.6 L377.3 926.1 L378.8 926.8 L380.3 927.5 L381.8 928.1 L383.3 928.8 L384.8 929.4 L386.3 929.9 L387.8 930.3 L389.3 930.8 L390.8 931.3 L392.3 931.8 L393.8 932.3 L395.3 932.7 L396.8 933.1 L398.3 933.5 L399.8 933.7 L401.3 933.9 L402.8 934.0 L404.3 934.0 L405.8 934.0 L407.3 934.0 L408.8 934.0 L410.3 934.0 L411.8 934.0 L413.3 934.0 L414.8 934.0 L416.3 934.0 L417.8 934.0 L419.3 934.0 L420.8 934.0 L422.3 934.0 L423.8 934.0 L425.3 933.9 L426.8 933.8 L428.3 933.6 L429.8 933.4 L431.3 933.2 L432.8 932.9 L434.3 932.6 L435.8 932.3 L437.3 932.0 L438.8 931.7 L440.3 931.4 L441.8 931.2 L443.3 930.9 L444.8 930.7 L446.3 930.4 L447.8 930.2 L449.3 929.9 L450.8 929.7 L452.3 929.4 L453.8 929.2 L455.3 928.9 L456.8 928.7 L458.3 928.4 L459.8 928.1 L461.3 927.8 L462.8 927.4 L464.3 927.1 L465.8 926.8 L467.3 926.6 L468.8 926.4 L470.3 926.3 L471.8 926.3 L473.3 926.3 L474.8 926.3 L476.3 926.3 L477.8 926.3 L479.3 926.3 L480.8 926.3 L482.3 926.3 L483.8 926.3 L485.3 926.4 L486.8 926.7 L488.3 927.1 L489.8 927.6 L491.3 928.1 L492.8 928.7 L494.3 929.1 L495.8 929.5 L497.3 929.8 L498.8 930.1 L500.3 930.4 L501.8 930.6 L503.3 930.9 L504.8 931.1 L506.3 931.4 L507.8 931.6 L509.3 931.9 L510.8 932.1 L512.3 932.4 L513.8 932.6 L515.3 932.9 L516.8 933.1 L518.3 933.4 L519.8 933.8 L521.3 934.1 L522.8 934.4 L524.3 934.7 L525.8 935.0 L527.3 935.3 L528.8 935.5 L530.3 935.7 L531.8 935.9 L533.3 935.9 L534.8 936.0 L536.3 936.0 L537.8 936.0 L539.3 936.0 L540.8 936.0 L542.3 936.0 L543.8 936.0 L545.3 936.0 L546.8 936.0 L548.3 936.0 L549.8 935.9 L551.3 935.8 L552.8 935.5 L554.3 935.2 L555.8 934.7 L557.3 934.3 L558.8 933.8 L560.3 933.3 L561.8 932.8 L563.3 932.4 L564.8 932.0 L566.3 931.5 L567.8 931.1 L569.3 930.6 L570.8 930.1 L572.3 929.7 L573.8 929.2 L575.3 928.8 L576.8 928.4 L578.3 928.0 L579.8 927.6 L581.3 927.3 L582.8 927.0 L584.3 926.7 L585.8 926.4 L587.3 926.2 L588.8 925.9 L590.3 925.7 L591.8 925.4 L593.3 925.2 L594.8 925.0 L596.3 924.7 L597.8 924.5 L599.3 924.3 L600.8 924.0 L602.3 923.8 L603.8 923.5 L605.3 923.3 L606.8 923.0 L608.3 922.8 L609.8 922.6 L611.3 922.4 L612.8 922.3 L614.3 922.1 L615.8 922.0 L617.3 922.0 L618.8 921.9 L620.3 921.8 L621.8 921.8 L623.3 921.7 L624.8 921.6 L626.3 921.6 L627.8 921.5 L629.3 921.4 L630.8 921.3 L632.3 921.1 L633.8 921.0 L635.3 920.8 L636.8 920.7 L638.3 920.5 L639.8 920.3 L641.3 920.1 L642.8 919.8 L644.3 919.6 L645.8 919.2 L647.3 918.7 L648.8 918.1 L650.3 917.6 L651.8 916.9 L653.3 916.4 L654.8 915.8 L656.3 915.3 L657.8 914.9 L659.3 914.6 L660.8 914.4 L662.3 914.1 L663.8 913.9 L665.3 913.7 L666.8 913.5 L668.3 913.3 L669.8 913.0 L671.3 912.7 L672.8 912.3 L674.3 911.9 L675.8 911.5 L677.3 911.0 L678.8 910.5 L680.3 909.9 L681.8 909.3 L683.3 908.7 L684.8 908.0 L686.3 907.2 L687.8 906.3 L689.3 905.2 L690.8 904.0 L692.3 902.8 L693.8 901.7 L695.3 900.6 L696.8 899.6 L698.3 898.8 L699.8 898.1 L701.3 897.2 L702.8 896.2 L704.3 895.2 L705.8 894.1 L707.3 892.9 L708.8 891.6 L710.3 890.1 L711.8 888.2 L713.3 886.0 L714.8 883.5 L716.3 881.0 L717.8 878.6 L719.3 876.3 L720.8 874.1 L722.3 871.7 L723.8 869.4 L725.3 867.2 L726.8 865.2 L728.3 863.5 L729.8 862.2 L731.3 860.9 L732.8 859.7 L734.3 858.6 L735.8 857.6 L737.3 856.8 L738.8 856.4 L740.3 856.3 L741.8 856.4 L743.3 856.9 L744.8 857.6 L746.3 858.4 L747.8 859.4 L749.3 860.4 L750.8 861.5 L752.3 862.8 L753.8 864.7 L755.3 866.9 L756.8 869.3 L758.3 871.6 L759.8 873.8 L761.3 875.7 L762.8 877.5 L764.3 879.3 L765.8 881.0 L767.3 882.7 L768.8 884.3 L770.3 885.9 L771.8 887.3 L773.3 888.8 L774.8 890.1 L776.3 891.5 L777.8 892.8 L779.3 894.1 L780.8 895.3 L782.3 896.4 L783.8 897.3 L785.3 898.2 L786.8 899.0 L788.3 899.8 L789.8 900.5 L791.3 901.2 L792.8 901.8 L794.3 902.3 L795.8 902.7 L797.3 902.8 L798.8 902.9 L800.3 903.0 L801.8 903.1 L803.3 903.2 L804.8 903.2 L806.3 903.3 L807.8 903.3 L809.3 903.3 L810.8 903.2 L812.3 902.9 L813.8 902.5 L815.3 902.1 L816.8 901.5 L818.3 901.0 L819.8 900.4 L821.3 899.9 L822.8 899.4 L824.3 898.9 L825.8 898.4 L827.3 897.8 L828.8 897.2 L830.3 896.6 L831.8 896.0 L833.3 895.4 L834.8 894.8 L836.3 894.1 L837.8 893.5 L839.3 892.8 L840.8 892.0 L842.3 891.3 L843.8 890.5 L845.3 889.8 L846.8 889.0 L848.3 888.2 L849.8 887.4 L851.3 886.6 L852.8 885.7 L854.3 884.9 L855.8 884.0 L857.3 883.1 L858.8 882.2 L860.3 881.3 L861.8 880.4 L863.3 879.5 L864.8 878.7 L866.3 877.8 L867.8 876.9 L869.3 876.1 L870.8 875.2 L872.3 874.3 L873.8 873.4 L875.3 872.5 L876.8 871.5 L878.3 870.4 L879.8 869.4 L881.3 868.3 L882.8 867.2 L884.3 866.1 L885.8 864.8 L887.3 863.5 L888.8 862.0 L890.3 860.4 L891.8 858.5 L893.3 856.5 L894.8 854.2 L896.3 851.8 L897.8 849.3 L899.1 846.6 L900.2 844.0 L901.2 841.5 L902.2 839.0 L903.3 836.6 L904.5 834.3 L906.0 832.4 L907.5 830.6 L909.0 828.9 L910.5 827.6 L912.0 826.7 L913.5 826.4 L915.0 826.8 L916.5 827.7 L918.0 829.1 L919.5 830.8 L921.0 832.9 L922.1 835.9 L922.8 838.4 L923.4 840.9 L924.0 843.4 L924.6 845.9 L925.3 848.4 L926.0 850.8 L926.9 853.3 L927.7 855.8 L928.7 858.3 L929.6 860.8 L930.5 863.3 L931.4 865.8 L932.3 868.3 L933.2 870.8 L934.0 873.3 L934.8 875.8 L935.7 878.3 L936.6 880.7 L937.6 883.2 L938.7 885.7 L939.9 888.1 L941.0 890.6 L942.3 893.0 L943.8 895.3 L945.3 897.0 L946.8 898.3 L948.3 899.4 L949.8 900.4 L951.3 901.2 L952.8 902.0 L954.3 902.6 L955.8 903.2 L957.3 903.8 L958.8 904.3 L960.3 904.8 L961.8 905.2 L963.3 905.6 L964.8 906.0 L966.3 906.3 L967.8 906.7 L969.3 906.9 L970.8 907.2 L972.3 907.5 L973.8 907.7 L975.3 907.9 L976.8 908.2 L978.3 908.4 L979.8 908.6 L981.3 908.9 L982.8 909.1 L984.3 909.3 L985.8 909.5 L987.3 909.8 L988.8 910.0 L990.3 910.2 L991.8 910.5 L993.3 910.7 L994.8 911.0 L996.3 911.4 L997.8 911.9 L999.3 912.4 L1000.8 913.1 L1002.3 913.9 L1003.8 914.6 L1005.3 915.4 L1006.8 916.1 L1008.3 916.7 L1009.8 917.2 L1011.3 917.6 L1012.8 917.9 L1014.3 918.2 L1015.8 918.5 L1017.3 918.8 L1018.8 919.0 L1020.3 919.3 L1021.8 919.5 L1023.3 919.6 L1024.8 919.8 L1026.3 919.9 L1027.8 920.0 L1029.3 920.0 L1030.8 920.1 L1032.3 920.1 L1033.8 920.2 L1035.3 920.2 L1036.8 920.3 L1038.3 920.4 L1039.8 920.5 L1041.3 920.7 L1042.8 921.0 L1044.3 921.4 L1045.8 921.8 L1047.3 922.4 L1048.8 923.1 L1050.3 924.2 L1051.8 924.6 L1053.3 924.9 L1054.8 925.1 L1056.3 925.3 L1057.8 925.4 L1059.3 925.5 L1060.8 925.7 L1062.3 925.9 L1063.8 926.1 L1065.3 926.4 L1066.8 926.7 L1068.3 927.0 L1069.8 927.4 L1071.3 927.7 L1072.8 928.0 L1074.3 928.3 L1075.8 928.6 L1077.3 928.9 L1078.8 929.2 L1080.3 929.5 L1081.8 929.9 L1083.3 930.2 L1084.8 930.4 L1086.3 930.7 L1087.8 930.9 L1089.3 931.1 L1090.8 931.3 L1092.3 931.5 L1093.8 931.7 L1095.3 931.9 L1096.8 932.1 L1098.3 932.4 L1099.8 932.6 L1101.3 932.9 L1102.8 933.1 L1104.3 933.4 L1105.8 933.7 L1107.3 934.0 L1108.8 934.4 L1110.3 934.7 L1111.8 935.2 L1113.3 935.8 L1114.8 936.4 L1116.3 936.8 L1117.8 935.4 L1118.7 932.7 L1119.5 930.3 L1120.6 928.4 L1122.1 929.7 L1123.2 932.4 L1124.3 934.7 L1125.8 935.7 L1127.3 935.9 L1128.8 936.0 L1130.3 936.1 L1131.8 936.2 L1133.3 936.3 L1134.8 936.3 L1136.3 936.3 L1137.8 936.2 L1139.3 936.2 L1140.8 936.1 L1142.3 936.0 L1143.8 935.9 L1145.3 935.8 L1146.8 935.6 L1148.3 935.2 L1149.8 934.5 L1151.3 933.6 L1152.8 932.8 L1154.3 932.4 L1155.8 932.3 L1157.3 932.1 L1158.8 932.0 L1160.3 931.9 L1161.8 931.8 L1163.3 931.7 L1164.8 931.6 L1166.3 931.5 L1167.8 931.5 L1169.3 931.5 L1170.8 931.4 L1172.3 931.4 L1173.8 931.4 L1175.3 931.4 L1176.8 931.4 L1178.3 931.4 L1179.8 931.4 L1181.3 931.4 L1182.8 931.4 L1184.3 931.4 L1185.8 931.4 L1187.3 931.4 L1188.8 931.4 L1190.3 931.4 L1191.8 931.4 L1193.3 931.4 L1194.8 931.4 L1196.3 931.4 L1197.8 931.4 L1199.3 931.4 L1200.8 931.4 L1202.3 931.4 L1203.8 931.4 L1205.3 931.4 L1206.8 931.1 L1208.3 930.5 L1209.8 930.0 L1211.3 930.0 L1212.8 929.9 L1214.3 929.9 L1215.8 929.9 L1217.3 929.8 L1218.8 929.8 L1220.3 929.8 L1221.8 929.8 L1223.3 929.8 L1224.8 929.8 L1226.3 929.8 L1227.8 929.8 L1229.3 929.8 L1230.8 929.8 L1232.3 929.7 L1233.8 929.7 L1235.3 929.7 L1236.8 929.7 L1238.3 929.7 L1239.8 929.7 L1241.3 929.7 L1242.8 929.7 L1244.3 929.7 L1245.8 929.7 L1247.3 929.7 L1248.8 929.7 L1250.3 929.6 L1251.8 929.6 L1253.3 929.6 L1254.8 929.5 L1256.3 929.5 L1257.8 929.1 L1259.3 928.3 L1260.8 927.6 L1262.3 927.3 L1263.8 927.0 L1265.3 926.7 L1266.8 926.5 L1268.3 926.3 L1269.8 926.1 L1271.3 926.0 L1272.8 925.9 L1274.3 925.8 L1275.8 925.7 L1277.3 925.6 L1278.8 925.5 L1280.3 925.5 L1281.8 925.4 L1283.3 925.3 L1284.8 925.3 L1286.3 925.2 L1287.8 925.2 L1289.3 925.2 L1290.8 925.1 L1292.3 925.1 L1293.8 925.1 L1295.3 925.1 L1296.8 925.1 L1298.3 925.1 L1299.8 925.1 L1301.3 925.1 L1302.8 925.1 L1304.3 925.1 L1305.8 925.1 L1307.3 925.1 L1308.8 925.1 L1310.3 925.1 L1311.8 925.1 L1313.3 925.1 L1314.8 925.1 L1316.3 925.1 L1317.8 925.1 L1319.3 925.1 L1320.8 925.1 L1322.3 925.1 L1323.8 925.1 L1325.3 925.1 L1326.8 925.1 L1328.3 925.1 L1329.8 925.1 L1331.3 925.1 L1332.8 925.1 L1334.3 925.1 L1335.8 925.1 L1337.3 925.1 L1338.8 925.1 L1340.3 925.1 L1341.8 925.0 L1343.3 924.2 L1344.8 922.9 L1346.3 921.4 L1347.8 920.1 L1349.3 919.4 L1350.8 918.8 L1352.3 918.2 L1353.8 917.8 L1355.3 917.3 L1356.8 916.7 L1358.3 916.1 L1359.8 915.3 L1361.3 914.5 L1362.8 913.6 L1364.3 912.6 L1365.8 911.6 L1367.3 910.5 L1368.8 909.3 L1370.3 907.9 L1371.8 906.4 L1373.3 904.9 L1374.8 903.3 L1376.3 901.7 L1377.8 900.1 L1379.3 898.5 L1380.8 897.0 L1382.3 895.4 L1383.8 893.7 L1385.3 892.0 L1386.8 890.0 L1388.3 887.7 L1389.7 885.1 L1391.0 882.6 L1392.3 880.1 L1393.6 877.7 L1395.0 875.3 L1396.5 873.0 L1398.0 870.8 L1399.5 868.6 L1401.0 866.2 L1402.5 863.7 L1404.0 861.4 L1405.5 859.6 L1407.0 858.6 L1408.5 857.7 L1410.0 857.0 L1411.5 856.5 L1413.0 856.3 L1414.5 856.3 L1416.0 856.7 L1417.5 857.4 L1419.0 858.3 L1420.5 859.3 L1422.0 860.5 L1423.5 862.2 L1425.0 864.6 L1426.3 867.1 L1427.7 869.6 L1429.0 872.2 L1430.2 874.8 L1431.2 877.3 L1432.3 879.8 L1433.4 882.3 L1434.6 884.7 L1435.8 887.2 L1436.9 889.7 L1438.2 892.2 L1439.4 894.7 L1440.7 897.1 L1442.2 899.5 L1443.7 901.9 L1445.2 904.2 L1446.7 906.3 L1448.2 908.3 L1449.7 910.1 L1451.2 911.7 L1452.7 913.3 L1454.2 914.8 L1455.7 916.2 L1457.2 917.4 L1458.7 918.6 L1460.2 919.5 L1461.7 920.4 L1463.2 921.1 L1464.7 921.8 L1466.2 922.5 L1467.7 923.0 L1469.2 923.6 L1470.7 924.1 L1472.2 924.5 L1473.7 924.9 L1475.2 925.2 L1476.7 925.6 L1478.2 925.8 L1479.7 926.1 L1481.2 926.4 L1482.7 926.7 L1484.2 926.9 L1485.7 927.2 L1487.2 927.5 L1488.7 927.9 L1490.2 928.2 L1491.7 928.5 L1493.2 928.8 L1494.7 929.1 L1496.2 929.4 L1497.7 929.6 L1499.2 929.9 L1500.7 930.1 L1502.2 930.4 L1503.7 930.6 L1505.2 930.8 L1506.7 931.1 L1508.2 931.3 L1509.7 931.5 L1511.2 931.8 L1512.7 932.0 L1514.2 932.2 L1515.7 932.4 L1517.2 932.7 L1518.7 932.9 L1520.2 933.1 L1521.7 933.3 L1523.2 933.5 L1524.7 933.7 L1526.2 933.9 L1527.7 934.0 L1529.2 934.2 L1530.7 934.4 L1532.2 934.6 L1533.7 934.7 L1535.2 934.9 L1536.7 935.1 L1538.2 935.2 L1539.7 935.3 L1541.2 935.4 L1542.7 935.5 L1544.2 935.6 L1545.7 935.6 L1547.2 935.6 L1548.7 935.6 L1550.2 935.6 L1551.7 935.6 L1553.2 935.6 L1554.7 935.6 L1556.2 935.6 L1557.7 935.6 L1559.2 935.6 L1560.7 935.6 L1562.2 935.6 L1563.7 935.6 L1565.2 935.6 L1566.7 935.6 L1568.2 935.6 L1569.7 935.6 L1571.2 935.6 L1572.7 935.6 L1574.2 935.6 L1575.7 935.6 L1577.2 935.6 L1578.7 935.6 L1580.2 935.6 L1581.7 935.6 L1583.2 935.5 L1584.7 935.4 L1586.2 935.1 L1587.7 934.8 L1589.2 934.4 L1590.7 934.0 L1592.2 933.6 L1593.7 933.2 L1595.2 932.8 L1596.7 932.4 L1598.2 931.9 L1599.7 931.3 L1601.2 930.7 L1602.7 930.2 L1604.2 929.7 L1605.7 929.2 L1607.2 928.7 L1608.7 928.2 L1610.2 927.8 L1611.7 927.3 L1613.2 926.9 L1614.7 926.5 L1616.2 926.2 L1617.7 925.9 L1619.2 925.8 L1620.7 925.6 L1622.2 925.5 L1623.7 925.4 L1625.2 925.3 L1626.7 925.2 L1628.2 925.2 L1629.7 925.1 L1631.2 925.1 L1632.7 925.2 L1634.2 925.4 L1635.7 925.6 L1637.2 925.9 L1638.7 926.3 L1640.2 926.6 L1641.7 927.1 L1643.2 927.9 L1644.7 928.8 L1646.2 929.8 L1647.7 930.8 L1649.2 931.6 L1650.7 932.3 L1652.2 933.0 L1653.7 933.8 L1655.2 934.5 L1656.7 935.1 L1658.2 935.6 L1659.7 936.0 L1661.2 936.3 L1662.7 936.3 L1664.2 936.2 L1665.7 936.0 L1667.2 935.8 L1668.7 935.5 L1670.2 935.2 L1671.7 934.9 L1673.2 934.5 L1674.7 934.2 L1676.2 933.9 L1677.7 933.5 L1679.2 933.1 L1680.7 932.7 L1682.2 932.2 L1683.7 931.7 L1685.2 931.1 L1686.7 930.5 L1688.2 929.7 L1689.7 928.8 L1691.2 927.8 L1692.7 926.7 L1694.2 925.7 L1695.7 924.8 L1697.2 924.0 L1698.7 923.1 L1700.2 922.3 L1701.7 921.6 L1703.2 920.8 L1704.7 920.2 L1706.2 919.6 L1707.7 919.0 L1709.2 918.5 L1710.7 918.0 L1712.2 917.5 L1713.7 917.1 L1715.2 916.7 L1716.6 916.4"/>
<path stroke="#008000" d="M362.3 861.4 L363.7 860.9 L365.1 860.4 L366.6 860.1 L368.0 859.9 L369.5 859.8 L371.0 859.9 L372.4 860.2 L373.9 860.6 L375.3 861.1 L376.7 861.6 L378.1 862.1 L379.5 862.6 L380.9 863.2 L382.3 863.7 L383.7 864.2 L385.1 864.7 L386.5 865.1 L388.0 865.3 L389.5 865.4 L391.0 865.3 L392.4 865.1 L393.9 864.9 L395.4 864.6 L396.8 864.3 L398.3 864.0 L399.8 863.7 L401.2 863.3 L402.7 863.0 L404.1 862.6 L405.6 862.2 L407.0 861.8 L408.4 861.3 L409.8 860.8 L411.2 860.2 L412.6 859.5 L413.9 858.8 L415.2 858.1 L416.5 857.4 L417.8 856.7 L419.2 856.0 L420.5 855.2 L421.8 854.5 L423.1 853.7 L424.4 853.0 L425.7 852.2 L426.9 851.4 L428.2 850.7 L429.5 849.9 L430.8 849.1 L432.0 848.3 L433.3 847.5 L434.6 846.7 L435.9 845.9 L437.1 845.1 L438.4 844.4 L439.8 843.7 L441.1 842.9 L442.4 842.3 L443.8 841.6 L445.1 841.0 L446.5 840.4 L447.9 839.9 L449.3 839.4 L450.7 838.9 L452.2 838.4 L453.6 838.0 L455.0 837.6 L456.5 837.4 L458.0 837.2 L459.5 837.1 L461.0 837.1 L462.5 837.2 L464.0 837.3 L465.5 837.4 L466.9 837.6 L468.4 837.8 L469.9 838.0 L471.4 838.3 L472.8 838.6 L474.3 839.0 L475.7 839.5 L477.1 840.0 L478.5 840.5 L479.9 841.1 L481.3 841.7 L482.7 842.3 L484.1 842.8 L485.4 843.4 L486.8 844.0 L488.2 844.6 L489.6 845.2 L490.9 845.9 L492.3 846.5 L493.7 847.1 L495.0 847.7 L496.4 848.2 L497.8 848.8 L499.2 849.4 L500.6 849.9 L502.0 850.5 L503.4 851.0 L504.8 851.6 L506.2 852.2 L507.6 852.7 L508.9 853.3 L510.3 853.9 L511.7 854.6 L513.0 855.2 L514.4 855.8 L515.7 856.5 L517.1 857.1 L518.5 857.7 L519.8 858.4 L521.2 859.0 L522.6 859.6 L523.9 860.2 L525.3 860.8 L526.7 861.4 L528.1 861.9 L529.5 862.4 L531.0 862.8 L532.4 863.1 L533.9 863.4 L535.3 863.7 L536.8 864.0 L538.3 864.3 L539.8 864.5 L541.3 864.7 L542.7 865.0 L544.2 865.2 L545.7 865.3 L547.2 865.4 L548.7 865.5 L550.2 865.4 L551.7 865.3 L553.2 865.0 L554.6 864.8 L556.1 864.5 L557.6 864.2 L559.0 863.9 L560.5 863.6 L562.0 863.3 L563.5 863.1 L564.9 862.8 L566.4 862.5 L567.9 862.1 L569.3 861.8 L570.7 861.3 L572.1 860.8 L573.5 860.3 L574.9 859.6 L576.2 859.0 L577.6 858.4 L579.0 857.8 L580.4 857.3 L581.8 856.9 L583.3 856.5 L584.7 856.2 L586.2 855.9 L587.7 855.6 L589.1 855.3 L590.6 855.1 L592.1 854.8 L593.6 854.6 L595.1 854.3 L596.5 854.1 L598.0 853.9 L599.5 853.7 L601.0 853.6 L602.5 853.6 L604.0 853.6 L605.5 853.7 L607.0 853.9 L608.5 854.1 L609.9 854.4 L611.4 854.8 L612.7 855.3 L614.1 855.9 L615.3 856.7 L616.6 857.5 L617.8 858.4 L619.0 859.3 L620.2 860.2 L621.4 861.0 L622.7 861.8 L624.0 862.6 L625.3 863.2 L626.7 863.8 L628.1 864.3 L629.5 864.7 L631.0 865.0 L632.5 865.2 L633.9 865.3 L635.4 865.1 L636.7 864.7 L638.0 864.1 L639.3 863.3 L640.4 862.4 L641.5 861.4 L642.5 860.3 L643.5 859.1 L644.4 857.9 L645.3 856.7 L646.1 855.5 L647.0 854.3 L647.8 853.0 L648.7 851.8 L649.6 850.6 L650.5 849.4 L651.4 848.2 L652.3 847.0 L653.2 845.8 L654.1 844.6 L655.0 843.4 L656.0 842.3 L656.9 841.1 L657.9 840.0 L659.0 838.9 L660.0 837.8 L661.0 836.7 L662.1 835.6 L663.1 834.5 L664.1 833.4 L665.1 832.4 L666.2 831.4 L667.3 830.6 L668.6 830.1 L669.9 830.0 L671.2 830.3 L672.6 830.6 L674.0 830.9 L675.4 831.0 L676.8 830.9 L678.1 830.4 L679.4 829.8 L680.7 829.0 L682.0 828.2 L683.2 827.4 L684.4 826.5 L685.6 825.6 L686.7 824.6 L687.8 823.6 L688.9 822.5 L689.9 821.4 L690.9 820.3 L691.8 819.1 L692.7 817.9 L693.6 816.7 L694.4 815.4 L695.1 814.1 L695.9 812.8 L696.6 811.5 L697.2 810.2 L697.9 808.8 L698.4 807.4 L699.0 806.0 L699.5 804.6 L700.1 803.2 L700.6 801.8 L701.0 800.4 L701.5 799.0 L702.0 797.5 L702.4 796.1 L702.9 794.7 L703.3 793.2 L703.7 791.8 L704.2 790.4 L704.6 788.9 L705.0 787.5 L705.4 786.1 L705.8 784.6 L706.2 783.2 L706.6 781.7 L707.0 780.3 L707.4 778.8 L707.7 777.4 L708.1 775.9 L708.4 774.4 L708.8 773.0 L709.1 771.5 L709.4 770.0 L709.7 768.6 L710.0 767.1 L710.3 765.6 L710.6 764.2 L710.8 762.7 L711.1 761.2 L711.4 759.7 L711.6 758.2 L711.8 756.8 L712.1 755.3 L712.3 753.8 L712.6 752.3 L712.8 750.8 L713.0 749.4 L713.3 747.9 L713.5 746.4 L713.7 744.9 L714.0 743.4 L714.2 741.9 L714.4 740.5 L714.7 739.0 L714.9 737.5 L715.1 736.0 L715.3 734.5 L715.6 733.1 L715.8 731.6 L716.0 730.1 L716.3 728.6 L716.5 727.1 L716.7 725.6 L716.9 724.2 L717.1 722.7 L717.4 721.2 L717.6 719.7 L717.8 718.2 L718.0 716.7 L718.2 715.2 L718.4 713.8 L718.6 712.3 L718.8 710.8 L719.0 709.3 L719.2 707.8 L719.4 706.3 L719.6 704.8 L719.8 703.4 L720.0 701.9 L720.2 700.4 L720.4 698.9 L720.6 697.4 L720.8 695.9 L721.0 694.4 L721.1 692.9 L721.3 691.4 L721.5 690.0 L721.6 688.5 L721.8 687.0 L721.9 685.5 L722.1 684.0 L722.2 682.5 L722.4 681.0 L722.5 679.5 L722.7 678.0 L722.8 676.5 L722.9 675.0 L723.1 673.5 L723.2 672.0 L723.4 670.6 L723.5 669.1 L723.7 667.6 L723.9 666.1 L724.0 664.6 L724.2 663.1 L724.4 661.6 L724.5 660.1 L724.7 658.6 L724.9 657.1 L725.1 655.6 L725.3 654.2 L725.4 652.7 L725.6 651.2 L725.8 649.7 L726.0 648.2 L726.2 646.7 L726.4 645.2 L726.5 643.7 L726.7 642.2 L726.9 640.8 L727.1 639.3 L727.2 637.8 L727.4 636.3 L727.6 634.8 L727.7 633.3 L727.9 631.8 L728.1 630.3 L728.3 628.8 L728.4 627.3 L728.6 625.9 L728.8 624.4 L729.0 622.9 L729.2 621.4 L729.4 619.9 L729.6 618.4 L729.8 616.9 L730.0 615.5 L730.3 614.0 L730.5 612.5 L730.7 611.0 L731.0 609.5 L731.2 608.1 L731.5 606.6 L731.8 605.1 L732.2 603.7 L732.6 602.2 L733.0 600.8 L733.6 599.4 L734.1 598.0 L734.8 596.7 L735.5 595.5 L736.4 594.6 L737.4 594.2 L738.4 594.2 L739.4 594.8 L740.3 595.8 L741.1 597.0 L741.8 598.3 L742.4 599.7 L742.9 601.1 L743.4 602.5 L743.8 603.9 L744.2 605.4 L744.5 606.8 L744.8 608.3 L745.1 609.8 L745.4 611.3 L745.6 612.7 L745.9 614.2 L746.1 615.7 L746.3 617.2 L746.6 618.7 L746.8 620.1 L747.0 621.6 L747.3 623.1 L747.5 624.6 L747.8 626.1 L748.0 627.5 L748.2 629.0 L748.5 630.5 L748.7 632.0 L748.9 633.5 L749.1 635.0 L749.3 636.4 L749.6 637.9 L749.8 639.4 L750.0 640.9 L750.2 642.4 L750.4 643.9 L750.6 645.4 L750.9 646.8 L751.1 648.3 L751.3 649.8 L751.5 651.3 L751.8 652.8 L752.0 654.3 L752.2 655.7 L752.4 657.2 L752.7 658.7 L752.9 660.2 L753.1 661.7 L753.3 663.1 L753.6 664.6 L753.8 666.1 L754.0 667.6 L754.2 669.1 L754.4 670.6 L754.6 672.1 L754.8 673.5 L755.0 675.0 L755.2 676.5 L755.4 678.0 L755.6 679.5 L755.8 681.0 L756.0 682.5 L756.2 683.9 L756.4 685.4 L756.6 686.9 L756.8 688.4 L757.0 689.9 L757.2 691.4 L757.3 692.9 L757.5 694.4 L757.7 695.9 L757.9 697.3 L758.1 698.8 L758.3 700.3 L758.4 701.8 L758.6 703.3 L758.8 704.8 L759.0 706.3 L759.1 707.8 L759.3 709.3 L759.5 710.8 L759.7 712.2 L759.8 713.7 L760.0 715.2 L760.2 716.7 L760.4 718.2 L760.6 719.7 L760.8 721.2 L761.0 722.7 L761.2 724.1 L761.4 725.6 L761.6 727.1 L761.8 728.6 L762.0 730.1 L762.3 731.6 L762.5 733.1 L762.7 734.5 L762.9 736.0 L763.2 737.5 L763.4 739.0 L763.6 740.5 L763.9 741.9 L764.1 743.4 L764.4 744.9 L764.6 746.4 L764.9 747.9 L765.1 749.3 L765.4 750.8 L765.7 752.3 L766.0 753.8 L766.2 755.2 L766.5 756.7 L766.8 758.2 L767.1 759.7 L767.4 761.1 L767.7 762.6 L768.0 764.1 L768.3 765.5 L768.6 767.0 L768.9 768.5 L769.2 769.9 L769.5 771.4 L769.8 772.9 L770.1 774.3 L770.4 775.8 L770.7 777.3 L771.1 778.7 L771.4 780.2 L771.8 781.7 L772.1 783.1 L772.5 784.6 L772.9 786.0 L773.3 787.5 L773.7 788.9 L774.1 790.3 L774.5 791.8 L774.9 793.2 L775.4 794.7 L775.7 796.1 L776.1 797.6 L776.5 799.0 L776.9 800.5 L777.3 801.9 L777.6 803.4 L778.0 804.8 L778.3 806.3 L778.7 807.8 L779.0 809.2 L779.4 810.7 L779.7 812.1 L780.1 813.6 L780.4 815.1 L780.8 816.5 L781.2 818.0 L781.5 819.4 L781.9 820.9 L782.4 822.3 L782.8 823.7 L783.2 825.2 L783.7 826.6 L784.2 828.0 L784.6 829.4 L785.1 830.9 L785.6 832.3 L786.2 833.7 L786.7 835.1 L787.2 836.5 L787.8 837.9 L788.3 839.3 L788.9 840.6 L789.5 842.0 L790.1 843.4 L790.7 844.8 L791.3 846.1 L792.0 847.5 L792.6 848.8 L793.3 850.2 L794.1 851.5 L794.9 852.7 L795.7 854.0 L796.6 855.2 L797.5 856.3 L798.5 857.4 L799.6 858.5 L800.7 859.5 L801.9 860.3 L803.2 860.9 L804.6 861.3 L806.0 861.5 L807.5 861.5 L809.0 861.6 L810.5 861.6 L812.0 861.5 L813.5 861.4 L814.9 861.1 L816.3 860.7 L817.6 860.1 L818.9 859.3 L820.1 858.4 L821.3 857.5 L822.4 856.6 L823.6 855.6 L824.7 854.6 L825.8 853.6 L826.9 852.5 L827.9 851.5 L828.9 850.3 L829.9 849.2 L830.8 848.0 L831.7 846.8 L832.6 845.6 L833.5 844.4 L834.3 843.1 L835.1 841.9 L835.8 840.6 L836.5 839.2 L837.2 837.9 L837.9 836.6 L838.5 835.2 L839.1 833.8 L839.7 832.5 L840.2 831.1 L840.8 829.7 L841.3 828.3 L841.8 826.8 L842.2 825.4 L842.6 824.0 L843.1 822.5 L843.5 821.1 L843.8 819.6 L844.2 818.2 L844.6 816.7 L845.0 815.3 L845.3 813.8 L845.7 812.4 L846.1 810.9 L846.4 809.4 L846.7 808.0 L847.1 806.5 L847.4 805.1 L847.7 803.6 L848.0 802.1 L848.3 800.7 L848.7 799.2 L849.0 797.7 L849.3 796.3 L849.6 794.8 L849.9 793.3 L850.3 791.9 L850.6 790.4 L850.9 788.9 L851.3 787.5 L851.6 786.0 L852.0 784.6 L852.3 783.1 L852.6 781.6 L852.9 780.2 L853.2 778.7 L853.5 777.2 L853.8 775.8 L854.1 774.3 L854.4 772.8 L854.6 771.3 L854.9 769.8 L855.1 768.4 L855.4 766.9 L855.7 765.4 L855.9 763.9 L856.2 762.5 L856.4 761.0 L856.7 759.5 L856.9 758.0 L857.2 756.5 L857.4 755.1 L857.7 753.6 L857.9 752.1 L858.2 750.6 L858.4 749.2 L858.7 747.7 L858.9 746.2 L859.2 744.7 L859.4 743.2 L859.7 741.8 L859.9 740.3 L860.2 738.8 L860.4 737.3 L860.7 735.8 L860.9 734.4 L861.2 732.9 L861.5 731.4 L861.8 729.9 L862.0 728.5 L862.3 727.0 L862.6 725.5 L862.9 724.0 L863.2 722.6 L863.5 721.1 L863.8 719.6 L864.1 718.2 L864.4 716.7 L864.7 715.2 L865.0 713.8 L865.3 712.3 L865.6 710.8 L865.9 709.3 L866.2 707.9 L866.5 706.4 L866.8 704.9 L867.1 703.5 L867.4 702.0 L867.7 700.5 L868.0 699.1 L868.4 697.6 L868.7 696.1 L869.0 694.7 L869.3 693.2 L869.7 691.7 L870.0 690.3 L870.4 688.8 L870.7 687.4 L871.1 685.9 L871.6 684.5 L872.0 683.1 L872.5 681.6 L873.0 680.2 L873.5 678.8 L874.0 677.4 L874.5 676.0 L874.9 674.6 L875.4 673.1 L875.8 671.7 L876.2 670.2 L876.6 668.8 L877.0 667.3 L877.4 665.9 L877.7 664.4 L878.1 663.0 L878.4 661.5 L878.8 660.1 L879.1 658.6 L879.4 657.1 L879.8 655.7 L880.1 654.2 L880.4 652.7 L880.7 651.3 L881.0 649.8 L881.3 648.3 L881.6 646.9 L881.9 645.4 L882.2 643.9 L882.5 642.4 L882.8 641.0 L883.0 639.5 L883.3 638.0 L883.6 636.6 L883.9 635.1 L884.2 633.6 L884.5 632.1 L884.8 630.7 L885.1 629.2 L885.4 627.7 L885.7 626.3 L886.0 624.8 L886.3 623.3 L886.6 621.9 L886.9 620.4 L887.1 618.9 L887.4 617.4 L887.7 616.0 L887.9 614.5 L888.2 613.0 L888.4 611.5 L888.7 610.0 L888.9 608.6 L889.2 607.1 L889.4 605.6 L889.6 604.1 L889.9 602.6 L890.1 601.1 L890.3 599.7 L890.5 598.2 L890.7 596.7 L890.9 595.2 L891.1 593.7 L891.3 592.2 L891.5 590.7 L891.7 589.3 L891.9 587.8 L892.1 586.3 L892.3 584.8 L892.5 583.3 L892.7 581.8 L892.9 580.3 L893.0 578.8 L893.2 577.4 L893.4 575.9 L893.6 574.4 L893.8 572.9 L894.0 571.4 L894.2 569.9 L894.3 568.4 L894.5 566.9 L894.7 565.4 L894.9 564.0 L895.1 562.5 L895.3 561.0 L895.4 559.5 L895.6 558.0 L895.8 556.5 L896.0 555.0 L896.1 553.5 L896.3 552.0 L896.5 550.5 L896.6 549.1 L896.8 547.6 L896.9 546.1 L897.1 544.6 L897.2 543.1 L897.4 541.6 L897.5 540.1 L897.7 538.6 L897.8 537.1 L898.0 535.6 L898.1 534.1 L898.3 532.6 L898.4 531.1 L898.6 529.7 L898.7 528.2 L898.9 526.7 L899.0 525.2 L899.2 523.7 L899.3 522.2 L899.4 520.7 L899.6 519.2 L899.7 517.7 L899.9 516.2 L900.0 514.7 L900.2 513.2 L900.3 511.7 L900.5 510.2 L900.6 508.8 L900.8 507.3 L900.9 505.8 L901.1 504.3 L901.2 502.8 L901.4 501.3 L901.6 499.8 L901.7 498.3 L901.9 496.8 L902.1 495.3 L902.2 493.8 L902.4 492.3 L902.6 490.9 L902.8 489.4 L902.9 487.9 L903.1 486.4 L903.3 484.9 L903.5 483.4 L903.7 481.9 L903.9 480.4 L904.1 479.0 L904.3 477.5 L904.5 476.0 L904.7 474.5 L904.9 473.0 L905.1 471.5 L905.3 470.0 L905.5 468.6 L905.7 467.1 L906.0 465.6 L906.2 464.1 L906.5 462.6 L906.8 461.2 L907.1 459.7 L907.5 458.3 L907.9 456.8 L908.4 455.4 L908.9 454.0 L909.4 452.6 L910.1 451.3 L910.8 450.1 L911.6 449.2 L912.6 448.7 L913.5 448.9 L914.3 449.6 L915.1 450.6 L915.7 451.9 L916.2 453.3 L916.6 454.7 L917.1 456.2 L917.5 457.6 L917.9 459.0 L918.2 460.5 L918.6 462.0 L918.9 463.4 L919.1 464.9 L919.4 466.4 L919.6 467.9 L919.9 469.3 L920.1 470.8 L920.3 472.3 L920.5 473.8 L920.7 475.3 L920.9 476.8 L921.1 478.3 L921.3 479.7 L921.5 481.2 L921.7 482.7 L921.9 484.2 L922.1 485.7 L922.3 487.2 L922.5 488.7 L922.7 490.2 L922.9 491.6 L923.1 493.1 L923.3 494.6 L923.5 496.1 L923.7 497.6 L923.9 499.1 L924.1 500.6 L924.3 502.1 L924.4 503.5 L924.6 505.0 L924.8 506.5 L925.0 508.0 L925.1 509.5 L925.3 511.0 L925.5 512.5 L925.6 514.0 L925.8 515.5 L926.0 517.0 L926.1 518.4 L926.3 519.9 L926.4 521.4 L926.6 522.9 L926.7 524.4 L926.9 525.9 L927.0 527.4 L927.1 528.9 L927.3 530.4 L927.4 531.9 L927.5 533.4 L927.6 534.9 L927.8 536.4 L927.9 537.9 L928.0 539.4 L928.1 540.9 L928.2 542.4 L928.3 543.8 L928.4 545.3 L928.5 546.8 L928.6 548.3 L928.7 549.8 L928.8 551.3 L928.9 552.8 L929.0 554.3 L929.1 555.8 L929.2 557.3 L929.3 558.8 L929.4 560.3 L929.5 561.8 L929.6 563.3 L929.7 564.8 L929.8 566.3 L930.0 567.8 L930.1 569.3 L930.2 570.8 L930.3 572.3 L930.4 573.8 L930.5 575.3 L930.6 576.8 L930.7 578.3 L930.8 579.8 L930.9 581.3 L931.0 582.8 L931.1 584.3 L931.2 585.8 L931.3 587.2 L931.4 588.7 L931.5 590.2 L931.6 591.7 L931.7 593.2 L931.7 594.7 L931.8 596.2 L931.9 597.7 L932.0 599.2 L932.1 600.7 L932.2 602.2 L932.3 603.7 L932.3 605.2 L932.4 606.7 L932.5 608.2 L932.5 609.7 L932.6 611.2 L932.7 612.7 L932.7 614.2 L932.8 615.7 L932.8 617.2 L932.9 618.7 L932.9 620.2 L933.0 621.7 L933.1 623.2 L933.1 624.7 L933.2 626.2 L933.2 627.7 L933.3 629.2 L933.4 630.7 L933.4 632.2 L933.5 633.7 L933.6 635.2 L933.7 636.7 L933.8 638.2 L933.9 639.7 L933.9 641.2 L934.0 642.7 L934.1 644.2 L934.2 645.7 L934.3 647.2 L934.4 648.7 L934.5 650.2 L934.6 651.7 L934.7 653.2 L934.8 654.7 L934.9 656.2 L935.0 657.6 L935.1 659.1 L935.2 660.6 L935.3 662.1 L935.4 663.6 L935.5 665.1 L935.6 666.6 L935.7 668.1 L935.8 669.6 L935.9 671.1 L936.0 672.6 L936.1 674.1 L936.2 675.6 L936.4 677.1 L936.5 678.6 L936.6 680.1 L936.7 681.6 L936.9 683.1 L937.0 684.6 L937.2 686.1 L937.3 687.6 L937.5 689.1 L937.6 690.5 L937.8 692.0 L937.9 693.5 L938.1 695.0 L938.2 696.5 L938.4 698.0 L938.5 699.5 L938.7 701.0 L938.9 702.5 L939.0 704.0 L939.2 705.5 L939.3 707.0 L939.4 708.4 L939.6 709.9 L939.7 711.4 L939.9 712.9 L940.0 714.4 L940.2 715.9 L940.3 717.4 L940.5 718.9 L940.6 720.4 L940.8 721.9 L940.9 723.4 L941.1 724.9 L941.2 726.4 L941.4 727.9 L941.6 729.3 L941.7 730.8 L941.9 732.3 L942.1 733.8 L942.3 735.3 L942.4 736.8 L942.6 738.3 L942.8 739.8 L943.0 741.3 L943.2 742.7 L943.4 744.2 L943.6 745.7 L943.9 747.2 L944.1 748.7 L944.4 750.1 L944.7 751.6 L945.0 753.1 L945.3 754.6 L945.6 756.0 L945.9 757.5 L946.2 759.0 L946.6 760.4 L946.9 761.9 L947.3 763.3 L947.7 764.8 L948.0 766.2 L948.4 767.7 L948.8 769.1 L949.2 770.6 L949.6 772.0 L950.0 773.5 L950.5 774.9 L950.9 776.3 L951.3 777.8 L951.8 779.2 L952.2 780.6 L952.7 782.1 L953.1 783.5 L953.6 784.9 L954.0 786.4 L954.5 787.8 L955.1 789.1 L955.7 790.5 L956.5 791.8 L957.3 793.1 L958.1 794.3 L959.1 795.4 L960.1 796.5 L961.1 797.6 L962.2 798.7 L963.2 799.8 L964.3 800.8 L965.3 801.9 L966.4 802.9 L967.5 804.0 L968.6 805.0 L969.6 806.1 L970.7 807.2 L971.7 808.3 L972.7 809.4 L973.6 810.5 L974.6 811.7 L975.5 812.9 L976.4 814.1 L977.2 815.3 L978.0 816.6 L978.8 817.9 L979.5 819.2 L980.1 820.6 L980.7 822.0 L981.2 823.3 L981.7 824.7 L982.3 826.1 L982.8 827.5 L983.4 828.9 L984.0 830.3 L984.6 831.7 L985.3 833.0 L986.0 834.3 L986.7 835.7 L987.4 837.0 L988.2 838.3 L989.0 839.5 L989.8 840.7 L990.8 841.9 L991.7 843.1 L992.7 844.2 L993.8 845.2 L994.8 846.3 L995.9 847.3 L997.1 848.3 L998.2 849.3 L999.3 850.3 L1000.5 851.2 L1001.6 852.2 L1002.8 853.1 L1004.0 854.0 L1005.2 854.9 L1006.5 855.7 L1007.8 856.5 L1009.1 857.2 L1010.4 858.0 L1011.7 858.7 L1013.0 859.3 L1014.4 859.9 L1015.8 860.5 L1017.2 860.9 L1018.7 861.2 L1020.1 861.4 L1021.6 861.5 L1023.1 861.6 L1024.6 861.6 L1026.1 861.6 L1027.6 861.6 L1029.1 861.6 L1030.6 861.6 L1032.1 861.6 L1033.6 861.6 L1035.1 861.6 L1036.6 861.7 L1038.1 861.7 L1039.6 861.8 L1041.1 861.9 L1042.6 862.0 L1044.1 862.2 L1045.6 862.4 L1047.1 862.5 L1048.6 862.8 L1050.0 863.0 L1051.5 863.3 L1052.9 863.7 L1054.4 864.1 L1055.8 864.6 L1057.2 865.0 L1058.7 865.3 L1060.2 865.6 L1061.6 865.7 L1063.1 865.7 L1064.6 865.5 L1066.0 865.2 L1067.5 864.8 L1068.9 864.3 L1070.3 863.7 L1071.7 863.2 L1073.0 862.6 L1074.4 862.0 L1075.8 861.3 L1077.1 860.7 L1078.5 860.0 L1079.8 859.3 L1081.1 858.6 L1082.4 857.8 L1083.7 857.1 L1085.0 856.3 L1086.3 855.5 L1087.5 854.8 L1088.8 854.0 L1090.1 853.2 L1091.4 852.4 L1092.7 851.6 L1094.0 851.0 L1095.4 850.4 L1096.8 849.9 L1098.2 849.5 L1099.6 849.1 L1101.1 848.8 L1102.6 848.6 L1104.1 848.5 L1105.5 848.5 L1107.0 848.7 L1108.4 849.0 L1109.8 849.6 L1111.2 850.2 L1112.5 850.9 L1113.8 851.7 L1115.0 852.5 L1116.2 853.4 L1117.4 854.3 L1118.5 855.3 L1119.7 856.2 L1120.8 857.2 L1122.0 858.0 L1123.3 858.9 L1124.6 859.7 L1125.9 860.4 L1127.2 861.1 L1128.6 861.6 L1130.0 862.1 L1131.4 862.4 L1132.9 862.4 L1134.3 862.3 L1135.7 861.9 L1137.1 861.4 L1138.5 860.8 L1139.8 860.1 L1141.1 859.4 L1142.3 858.6 L1143.6 857.7 L1144.8 856.9 L1146.1 856.2 L1147.5 855.6 L1148.9 855.1 L1150.3 854.7 L1151.8 854.4 L1153.3 854.2 L1154.7 854.0 L1156.2 854.0 L1157.7 854.0 L1159.2 854.1 L1160.7 854.3 L1162.2 854.5 L1163.6 854.8 L1165.1 855.2 L1166.5 855.7 L1167.9 856.2 L1169.3 856.7 L1170.7 857.1 L1172.2 857.5 L1173.6 857.7 L1175.1 857.9 L1176.6 857.9 L1178.1 857.9 L1179.6 857.9 L1181.1 857.9 L1182.6 857.9 L1184.1 857.9 L1185.6 857.9 L1187.1 857.9 L1188.6 857.8 L1190.1 857.7 L1191.6 857.6 L1193.1 857.5 L1194.6 857.4 L1196.1 857.3 L1197.6 857.3 L1199.1 857.3 L1200.6 857.3 L1202.1 857.3 L1203.6 857.4 L1205.1 857.5 L1206.6 857.6 L1208.1 857.8 L1209.5 858.0 L1211.0 858.3 L1212.4 858.7 L1213.8 859.2 L1215.2 859.7 L1216.6 860.3 L1218.0 860.8 L1219.4 861.3 L1220.8 861.8 L1222.3 862.2 L1223.7 862.6 L1225.2 863.0 L1226.6 863.3 L1228.1 863.7 L1229.6 864.0 L1231.0 864.3 L1232.5 864.7 L1233.9 865.0 L1235.4 865.3 L1236.9 865.7 L1238.3 865.9 L1239.8 866.1 L1241.3 866.2 L1242.8 866.2 L1244.3 866.0 L1245.7 865.7 L1247.2 865.3 L1248.6 864.9 L1250.0 864.4 L1251.4 863.9 L1252.8 863.3 L1254.2 862.7 L1255.5 862.1 L1256.8 861.4 L1258.2 860.7 L1259.5 860.0 L1260.8 859.3 L1262.2 858.6 L1263.5 857.9 L1264.8 857.2 L1266.2 856.6 L1267.5 856.0 L1268.9 855.5 L1270.4 855.0 L1271.8 854.7 L1273.3 854.5 L1274.8 854.3 L1276.3 854.1 L1277.8 854.0 L1279.3 854.0 L1280.7 854.0 L1282.2 854.1 L1283.7 854.3 L1285.2 854.6 L1286.7 854.9 L1288.1 855.1 L1289.6 855.4 L1291.1 855.5 L1292.6 855.7 L1294.1 855.8 L1295.6 855.9 L1297.1 855.9 L1298.6 855.9 L1300.1 855.9 L1301.6 855.9 L1303.1 855.7 L1304.6 855.6 L1306.0 855.4 L1307.5 855.1 L1309.0 854.9 L1310.5 854.6 L1311.9 854.2 L1313.4 853.9 L1314.8 853.4 L1316.2 853.0 L1317.6 852.4 L1319.0 851.9 L1320.3 851.2 L1321.6 850.5 L1322.9 849.6 L1324.1 848.8 L1325.3 847.8 L1326.4 846.9 L1327.5 845.9 L1328.6 844.8 L1329.6 843.7 L1330.6 842.6 L1331.6 841.5 L1332.5 840.3 L1333.4 839.1 L1334.2 837.8 L1335.1 836.6 L1335.9 835.4 L1336.8 834.1 L1337.6 832.9 L1338.4 831.6 L1339.2 830.3 L1340.0 829.0 L1340.7 827.8 L1341.5 826.5 L1342.2 825.1 L1342.9 823.8 L1343.6 822.5 L1344.3 821.1 L1344.9 819.8 L1345.5 818.4 L1346.1 817.1 L1346.7 815.7 L1347.3 814.3 L1347.8 812.9 L1348.4 811.5 L1348.9 810.1 L1349.4 808.7 L1349.9 807.2 L1350.3 805.8 L1350.8 804.4 L1351.2 803.0 L1351.7 801.5 L1352.1 800.1 L1352.5 798.6 L1352.9 797.2 L1353.3 795.7 L1353.6 794.3 L1354.0 792.8 L1354.4 791.4 L1354.7 789.9 L1355.1 788.5 L1355.4 787.0 L1355.7 785.5 L1356.0 784.1 L1356.3 782.6 L1356.6 781.1 L1356.9 779.6 L1357.2 778.2 L1357.5 776.7 L1357.9 775.3 L1358.2 773.8 L1358.6 772.3 L1358.9 770.9 L1359.3 769.4 L1359.7 768.0 L1360.1 766.5 L1360.5 765.1 L1360.8 763.6 L1361.2 762.2 L1361.5 760.7 L1361.7 759.2 L1362.0 757.7 L1362.2 756.3 L1362.4 754.8 L1362.6 753.3 L1362.8 751.8 L1363.0 750.3 L1363.2 748.8 L1363.4 747.3 L1363.6 745.9 L1363.8 744.4 L1364.1 742.9 L1364.3 741.4 L1364.6 739.9 L1364.8 738.5 L1365.1 737.0 L1365.4 735.5 L1365.7 734.0 L1366.0 732.6 L1366.2 731.1 L1366.5 729.6 L1366.8 728.1 L1367.0 726.7 L1367.2 725.2 L1367.5 723.7 L1367.7 722.2 L1367.9 720.7 L1368.1 719.2 L1368.3 717.8 L1368.5 716.3 L1368.7 714.8 L1368.9 713.3 L1369.1 711.8 L1369.3 710.3 L1369.5 708.8 L1369.7 707.3 L1369.9 705.9 L1370.1 704.4 L1370.3 702.9 L1370.5 701.4 L1370.7 699.9 L1370.9 698.4 L1371.1 696.9 L1371.2 695.4 L1371.4 694.0 L1371.6 692.5 L1371.8 691.0 L1372.0 689.5 L1372.2 688.0 L1372.4 686.5 L1372.6 685.0 L1372.8 683.5 L1373.0 682.1 L1373.2 680.6 L1373.4 679.1 L1373.5 677.6 L1373.7 676.1 L1373.9 674.6 L1374.1 673.1 L1374.3 671.6 L1374.5 670.1 L1374.6 668.7 L1374.8 667.2 L1375.0 665.7 L1375.2 664.2 L1375.3 662.7 L1375.5 661.2 L1375.7 659.7 L1375.9 658.2 L1376.0 656.7 L1376.2 655.3 L1376.4 653.8 L1376.6 652.3 L1376.8 650.8 L1377.0 649.3 L1377.2 647.8 L1377.4 646.3 L1377.5 644.8 L1377.7 643.3 L1377.9 641.9 L1378.1 640.4 L1378.3 638.9 L1378.5 637.4 L1378.7 635.9 L1378.9 634.4 L1379.1 632.9 L1379.3 631.4 L1379.5 630.0 L1379.7 628.5 L1379.9 627.0 L1380.1 625.5 L1380.3 624.0 L1380.5 622.5 L1380.7 621.0 L1381.0 619.6 L1381.2 618.1 L1381.4 616.6 L1381.6 615.1 L1381.8 613.6 L1382.0 612.1 L1382.2 610.7 L1382.4 609.2 L1382.6 607.7 L1382.8 606.2 L1383.0 604.7 L1383.2 603.2 L1383.4 601.7 L1383.6 600.2 L1383.8 598.8 L1384.0 597.3 L1384.2 595.8 L1384.4 594.3 L1384.6 592.8 L1384.8 591.3 L1384.9 589.8 L1385.1 588.3 L1385.3 586.9 L1385.5 585.4 L1385.7 583.9 L1385.9 582.4 L1386.1 580.9 L1386.3 579.4 L1386.5 577.9 L1386.8 576.5 L1387.0 575.0 L1387.2 573.5 L1387.4 572.0 L1387.6 570.5 L1387.9 569.0 L1388.1 567.5 L1388.3 566.1 L1388.5 564.6 L1388.8 563.1 L1389.0 561.6 L1389.2 560.1 L1389.5 558.7 L1389.7 557.2 L1389.9 555.7 L1390.2 554.2 L1390.4 552.7 L1390.6 551.2 L1390.9 549.8 L1391.1 548.3 L1391.4 546.8 L1391.6 545.3 L1391.9 543.8 L1392.1 542.4 L1392.4 540.9 L1392.6 539.4 L1392.9 537.9 L1393.1 536.5 L1393.4 535.0 L1393.6 533.5 L1393.9 532.0 L1394.2 530.5 L1394.5 529.1 L1394.7 527.6 L1395.0 526.1 L1395.3 524.7 L1395.6 523.2 L1395.9 521.7 L1396.2 520.2 L1396.4 518.8 L1396.7 517.3 L1397.0 515.8 L1397.3 514.3 L1397.5 512.9 L1397.8 511.4 L1398.1 509.9 L1398.3 508.4 L1398.6 507.0 L1398.9 505.5 L1399.1 504.0 L1399.4 502.5 L1399.6 501.0 L1399.9 499.6 L1400.1 498.1 L1400.4 496.6 L1400.7 495.1 L1400.9 493.7 L1401.2 492.2 L1401.5 490.7 L1401.8 489.2 L1402.1 487.8 L1402.4 486.3 L1402.7 484.8 L1402.9 483.4 L1403.2 481.9 L1403.5 480.4 L1403.9 478.9 L1404.2 477.5 L1404.5 476.0 L1404.9 474.6 L1405.2 473.1 L1405.6 471.7 L1406.0 470.2 L1406.4 468.8 L1406.8 467.3 L1407.2 465.9 L1407.6 464.4 L1408.1 463.0 L1408.6 461.6 L1409.1 460.2 L1409.7 458.8 L1410.4 457.5 L1411.2 456.2 L1412.0 455.0 L1412.9 453.9 L1413.9 453.0 L1414.9 452.6 L1416.0 452.6 L1416.9 453.2 L1417.7 454.2 L1418.3 455.4 L1418.9 456.8 L1419.4 458.2 L1419.8 459.6 L1420.2 461.1 L1420.7 462.5 L1421.1 463.9 L1421.5 465.4 L1421.9 466.8 L1422.3 468.3 L1422.7 469.7 L1423.0 471.2 L1423.4 472.6 L1423.7 474.1 L1424.0 475.6 L1424.3 477.0 L1424.6 478.5 L1424.9 480.0 L1425.2 481.4 L1425.5 482.9 L1425.8 484.4 L1426.0 485.9 L1426.3 487.3 L1426.6 488.8 L1426.8 490.3 L1427.0 491.8 L1427.3 493.3 L1427.5 494.7 L1427.7 496.2 L1427.9 497.7 L1428.2 499.2 L1428.4 500.7 L1428.6 502.2 L1428.8 503.7 L1429.0 505.1 L1429.2 506.6 L1429.4 508.1 L1429.6 509.6 L1429.8 511.1 L1430.0 512.6 L1430.2 514.1 L1430.4 515.5 L1430.6 517.0 L1430.8 518.5 L1431.0 520.0 L1431.2 521.5 L1431.4 523.0 L1431.6 524.5 L1431.8 526.0 L1432.0 527.4 L1432.2 528.9 L1432.4 530.4 L1432.6 531.9 L1432.7 533.4 L1432.9 534.9 L1433.1 536.4 L1433.3 537.9 L1433.5 539.3 L1433.7 540.8 L1433.8 542.3 L1434.0 543.8 L1434.2 545.3 L1434.4 546.8 L1434.5 548.3 L1434.7 549.8 L1434.9 551.3 L1435.1 552.8 L1435.3 554.2 L1435.4 555.7 L1435.6 557.2 L1435.8 558.7 L1436.0 560.2 L1436.1 561.7 L1436.3 563.2 L1436.5 564.7 L1436.7 566.2 L1436.9 567.6 L1437.1 569.1 L1437.2 570.6 L1437.4 572.1 L1437.6 573.6 L1437.8 575.1 L1438.0 576.6 L1438.1 578.1 L1438.3 579.6 L1438.5 581.0 L1438.7 582.5 L1438.8 584.0 L1439.0 585.5 L1439.1 587.0 L1439.3 588.5 L1439.5 590.0 L1439.6 591.5 L1439.8 593.0 L1439.9 594.5 L1440.1 596.0 L1440.2 597.5 L1440.4 599.0 L1440.5 600.4 L1440.6 601.9 L1440.8 603.4 L1440.9 604.9 L1441.1 606.4 L1441.2 607.9 L1441.3 609.4 L1441.5 610.9 L1441.6 612.4 L1441.7 613.9 L1441.8 615.4 L1441.9 616.9 L1442.1 618.4 L1442.2 619.9 L1442.3 621.4 L1442.4 622.9 L1442.5 624.4 L1442.6 625.9 L1442.8 627.3 L1442.9 628.8 L1443.0 630.3 L1443.1 631.8 L1443.2 633.3 L1443.3 634.8 L1443.5 636.3 L1443.6 637.8 L1443.7 639.3 L1443.8 640.8 L1443.9 642.3 L1444.0 643.8 L1444.2 645.3 L1444.3 646.8 L1444.4 648.3 L1444.5 649.8 L1444.6 651.3 L1444.8 652.8 L1444.9 654.3 L1445.0 655.8 L1445.2 657.3 L1445.3 658.7 L1445.4 660.2 L1445.6 661.7 L1445.7 663.2 L1445.9 664.7 L1446.0 666.2 L1446.2 667.7 L1446.3 669.2 L1446.5 670.7 L1446.6 672.2 L1446.8 673.7 L1446.9 675.2 L1447.1 676.7 L1447.2 678.2 L1447.4 679.6 L1447.6 681.1 L1447.7 682.6 L1447.8 684.1 L1448.0 685.6 L1448.1 687.1 L1448.3 688.6 L1448.4 690.1 L1448.6 691.6 L1448.7 693.1 L1448.9 694.6 L1449.0 696.1 L1449.2 697.6 L1449.3 699.0 L1449.5 700.5 L1449.6 702.0 L1449.8 703.5 L1449.9 705.0 L1450.1 706.5 L1450.3 708.0 L1450.4 709.5 L1450.6 711.0 L1450.8 712.5 L1451.0 714.0 L1451.1 715.4 L1451.3 716.9 L1451.5 718.4 L1451.7 719.9 L1451.9 721.4 L1452.0 722.9 L1452.2 724.4 L1452.4 725.9 L1452.6 727.4 L1452.8 728.8 L1453.0 730.3 L1453.2 731.8 L1453.4 733.3 L1453.6 734.8 L1453.8 736.3 L1454.1 737.8 L1454.3 739.2 L1454.5 740.7 L1454.7 742.2 L1454.9 743.7 L1455.2 745.2 L1455.4 746.7 L1455.6 748.1 L1455.9 749.6 L1456.1 751.1 L1456.4 752.6 L1456.6 754.1 L1456.9 755.5 L1457.1 757.0 L1457.4 758.5 L1457.6 760.0 L1457.9 761.4 L1458.2 762.9 L1458.5 764.4 L1458.7 765.9 L1459.0 767.3 L1459.3 768.8 L1459.6 770.3 L1459.9 771.8 L1460.2 773.2 L1460.5 774.7 L1460.8 776.2 L1461.1 777.6 L1461.4 779.1 L1461.7 780.6 L1462.0 782.0 L1462.3 783.5 L1462.6 785.0 L1463.0 786.4 L1463.3 787.9 L1463.7 789.3 L1464.1 790.8 L1464.5 792.2 L1464.9 793.7 L1465.4 795.1 L1465.8 796.5 L1466.3 798.0 L1466.8 799.4 L1467.3 800.8 L1467.8 802.2 L1468.3 803.6 L1468.9 805.0 L1469.4 806.4 L1470.0 807.8 L1470.6 809.1 L1471.3 810.5 L1471.9 811.8 L1472.6 813.2 L1473.3 814.5 L1474.0 815.8 L1474.7 817.2 L1475.4 818.5 L1476.1 819.8 L1476.8 821.1 L1477.6 822.4 L1478.3 823.8 L1479.0 825.1 L1479.7 826.4 L1480.5 827.7 L1481.2 829.0 L1482.0 830.3 L1482.8 831.6 L1483.6 832.8 L1484.4 834.1 L1485.2 835.3 L1486.1 836.5 L1487.0 837.8 L1487.9 839.0 L1488.8 840.2 L1489.7 841.3 L1490.6 842.5 L1491.6 843.7 L1492.6 844.8 L1493.6 845.9 L1494.6 847.0 L1495.7 848.1 L1496.7 849.1 L1497.8 850.2 L1498.9 851.2 L1500.0 852.2 L1501.2 853.1 L1502.4 854.0 L1503.6 854.9 L1504.8 855.8 L1506.1 856.6 L1507.4 857.3 L1508.7 858.0 L1510.0 858.7 L1511.4 859.4 L1512.7 860.0 L1514.1 860.6 L1515.5 861.2 L1516.9 861.7 L1518.3 862.3 L1519.7 862.8 L1521.1 863.3 L1522.5 863.8 L1523.9 864.3 L1525.4 864.7 L1526.8 865.1 L1528.3 865.4 L1529.8 865.6 L1531.2 865.8 L1532.7 865.8 L1534.2 865.7 L1535.7 865.5 L1537.2 865.2 L1538.6 864.9 L1540.1 864.5 L1541.5 864.1 L1542.9 863.6 L1544.4 863.1 L1545.8 862.7 L1547.2 862.2 L1548.6 861.6 L1550.0 861.1 L1551.4 860.5 L1552.7 859.9 L1554.1 859.3 L1555.5 858.8 L1556.9 858.3 L1558.4 857.9 L1559.8 857.5 L1561.3 857.2 L1562.8 856.9 L1564.2 856.7 L1565.7 856.4 L1567.2 856.1 L1568.6 855.6 L1570.0 855.2 L1571.4 854.6 L1572.7 854.0 L1574.1 853.3 L1575.4 852.5 L1576.6 851.7 L1577.9 850.9 L1579.1 850.0 L1580.2 849.0 L1581.3 848.0 L1582.4 847.0 L1583.5 845.9 L1584.5 844.8 L1585.4 843.7 L1586.3 842.5 L1587.2 841.3 L1588.0 840.0 L1588.8 838.7 L1589.5 837.4 L1590.2 836.1 L1590.9 834.7 L1591.5 833.4 L1592.1 832.0 L1592.7 830.6 L1593.3 829.3 L1593.8 827.9 L1594.4 826.5 L1594.9 825.1 L1595.4 823.6 L1595.9 822.2 L1596.5 820.8 L1597.0 819.4 L1597.5 818.0 L1598.0 816.6 L1598.6 815.2 L1599.1 813.8 L1599.6 812.4 L1600.1 811.0 L1600.7 809.6 L1601.2 808.2 L1601.7 806.8 L1602.2 805.4 L1602.8 804.0 L1603.3 802.6 L1603.8 801.2 L1604.3 799.8 L1604.9 798.3 L1605.4 796.9 L1605.9 795.5 L1606.4 794.1 L1607.0 792.7 L1607.5 791.3 L1608.1 790.0 L1608.7 788.6 L1609.3 787.2 L1609.9 785.8 L1610.5 784.4 L1611.1 783.1 L1611.7 781.7 L1612.4 780.4 L1613.0 779.0 L1613.7 777.7 L1614.4 776.4 L1615.2 775.1 L1615.9 773.8 L1616.7 772.5 L1617.5 771.2 L1618.3 770.0 L1619.2 768.8 L1620.2 767.6 L1621.2 766.5 L1622.3 765.5 L1623.4 764.5 L1624.6 763.6 L1625.8 762.8 L1627.1 762.0 L1628.4 761.4 L1629.8 761.0 L1631.2 760.9 L1632.6 761.0 L1634.0 761.3 L1635.3 762.0 L1636.5 762.8 L1637.5 763.8 L1638.4 765.0 L1639.2 766.2 L1639.9 767.5 L1640.6 768.9 L1641.1 770.3 L1641.6 771.7 L1642.1 773.1 L1642.5 774.5 L1643.0 776.0 L1643.4 777.4 L1643.7 778.9 L1644.1 780.3 L1644.4 781.8 L1644.8 783.2 L1645.1 784.7 L1645.4 786.2 L1645.7 787.6 L1646.0 789.1 L1646.4 790.6 L1646.7 792.0 L1647.0 793.5 L1647.3 795.0 L1647.7 796.4 L1648.0 797.9 L1648.3 799.4 L1648.6 800.8 L1649.0 802.3 L1649.3 803.7 L1649.6 805.2 L1649.9 806.7 L1650.3 808.1 L1650.6 809.6 L1650.9 811.1 L1651.3 812.5 L1651.6 814.0 L1652.0 815.4 L1652.3 816.9 L1652.7 818.4 L1653.0 819.8 L1653.4 821.3 L1653.8 822.7 L1654.1 824.2 L1654.5 825.6 L1654.9 827.1 L1655.2 828.5 L1655.6 830.0 L1656.0 831.4 L1656.4 832.9 L1656.7 834.3 L1657.1 835.8 L1657.5 837.2 L1657.9 838.7 L1658.3 840.1 L1658.7 841.6 L1659.2 843.0 L1659.6 844.4 L1660.1 845.9 L1660.6 847.3 L1661.1 848.7 L1661.6 850.1 L1662.2 851.5 L1662.8 852.9 L1663.4 854.2 L1664.1 855.6 L1664.8 856.9 L1665.5 858.2 L1666.3 859.4 L1667.3 860.6 L1668.3 861.7 L1669.4 862.6 L1670.6 863.5 L1671.9 864.2 L1673.2 864.8 L1674.6 865.2 L1676.1 865.4 L1677.5 865.4 L1678.9 865.1 L1680.3 864.6 L1681.6 864.0 L1682.8 863.1 L1683.9 862.2 L1685.0 861.1 L1686.0 860.0 L1686.9 858.8 L1687.8 857.6 L1688.6 856.4 L1689.4 855.1 L1690.2 853.8 L1690.9 852.5 L1691.6 851.2 L1692.2 849.8 L1692.8 848.5 L1693.4 847.1 L1694.0 845.7 L1694.5 844.3 L1695.0 842.9 L1695.6 841.5 L1696.1 840.1 L1696.6 838.7 L1697.1 837.3 L1697.7 835.9 L1698.2 834.5 L1698.8 833.1 L1699.4 831.7 L1700.0 830.3 L1700.7 829.0 L1701.3 827.7 L1702.1 826.4 L1702.9 825.1 L1703.8 823.9 L1704.7 822.7 L1705.7 821.7 L1706.8 820.7 L1708.0 820.0 L1709.3 819.5 L1710.6 819.4 L1712.0 819.6 L1713.3 820.1 L1714.5 820.8 L1715.8 821.7 L1716.6 822.2"/>
<path stroke="#ff0000" d="M362.3 673.7 L362.6 675.1 L362.9 676.6 L363.2 678.1 L363.5 679.5 L363.7 681.0 L364.0 682.5 L364.3 684.0 L364.6 685.4 L364.9 686.9 L365.3 688.4 L365.6 689.8 L365.9 691.3 L366.2 692.8 L366.5 694.2 L366.8 695.7 L367.1 697.2 L367.5 698.6 L367.8 700.1 L368.1 701.6 L368.5 703.0 L368.8 704.5 L369.2 705.9 L369.5 707.4 L369.9 708.8 L370.3 710.3 L370.6 711.8 L371.0 713.2 L371.4 714.7 L371.8 716.1 L372.1 717.6 L372.5 719.0 L372.9 720.5 L373.2 721.9 L373.6 723.4 L373.9 724.8 L374.3 726.3 L374.6 727.8 L374.9 729.2 L375.3 730.7 L375.6 732.2 L375.9 733.6 L376.2 735.1 L376.5 736.6 L376.8 738.0 L377.1 739.5 L377.4 741.0 L377.7 742.4 L378.0 743.9 L378.3 745.4 L378.6 746.9 L378.9 748.3 L379.2 749.8 L379.5 751.3 L379.8 752.7 L380.1 754.2 L380.4 755.7 L380.7 757.1 L381.0 758.6 L381.4 760.1 L381.7 761.5 L382.0 763.0 L382.3 764.5 L382.6 765.9 L382.9 767.4 L383.2 768.9 L383.6 770.3 L383.9 771.8 L384.2 773.3 L384.5 774.7 L384.9 776.2 L385.3 777.6 L385.6 779.1 L386.0 780.5 L386.4 782.0 L386.9 783.4 L387.3 784.9 L387.7 786.3 L388.2 787.7 L388.7 789.1 L389.2 790.5 L389.7 792.0 L390.2 793.4 L390.8 794.8 L391.3 796.2 L391.9 797.5 L392.5 798.9 L393.1 800.3 L393.7 801.7 L394.3 803.0 L395.0 804.4 L395.6 805.7 L396.3 807.1 L397.0 808.4 L397.8 809.7 L398.5 811.0 L399.3 812.3 L400.1 813.5 L400.9 814.8 L401.8 816.0 L402.7 817.2 L403.7 818.3 L404.7 819.4 L405.7 820.5 L406.8 821.5 L408.0 822.4 L409.2 823.3 L410.4 824.2 L411.7 825.0 L412.9 825.8 L414.2 826.5 L415.6 827.1 L417.0 827.5 L418.4 827.8 L419.9 827.9 L421.4 827.9 L422.9 827.8 L424.4 827.7 L425.9 827.6 L427.3 827.4 L428.8 827.1 L430.2 826.6 L431.6 826.1 L433.0 825.5 L434.3 824.9 L435.7 824.4 L437.1 823.9 L438.6 823.5 L440.0 823.1 L441.5 822.8 L443.0 822.6 L444.5 822.3 L445.9 822.1 L447.4 821.9 L448.9 821.7 L450.4 821.4 L451.9 821.2 L453.4 821.0 L454.9 820.9 L456.4 820.9 L457.8 820.9 L459.3 821.0 L460.8 821.1 L462.3 821.3 L463.8 821.5 L465.3 821.8 L466.7 822.1 L468.2 822.4 L469.7 822.7 L471.1 823.1 L472.6 823.4 L474.0 823.8 L475.5 824.2 L476.9 824.6 L478.4 825.0 L479.8 825.3 L481.3 825.7 L482.8 826.1 L484.2 826.4 L485.7 826.8 L487.1 827.1 L488.6 827.4 L490.1 827.8 L491.5 828.1 L493.0 828.3 L494.5 828.5 L496.0 828.7 L497.5 828.9 L499.0 829.0 L500.4 829.1 L501.9 829.1 L503.4 829.2 L504.9 829.1 L506.4 829.1 L507.9 828.9 L509.4 828.8 L510.9 828.6 L512.4 828.4 L513.9 828.2 L515.4 828.1 L516.9 827.9 L518.4 827.9 L519.9 827.8 L521.4 827.7 L522.8 827.6 L524.3 827.4 L525.8 827.1 L527.2 826.6 L528.6 826.1 L529.9 825.4 L531.2 824.7 L532.4 823.9 L533.7 823.0 L534.8 822.1 L536.0 821.1 L537.1 820.1 L538.3 819.2 L539.4 818.2 L540.6 817.3 L541.8 816.4 L543.0 815.6 L544.2 814.7 L545.4 813.7 L546.6 812.8 L547.7 811.8 L548.8 810.7 L549.8 809.7 L550.8 808.6 L551.8 807.4 L552.7 806.2 L553.6 805.0 L554.5 803.8 L555.3 802.6 L556.1 801.3 L556.8 800.0 L557.5 798.7 L558.2 797.3 L558.9 796.0 L559.6 794.7 L560.2 793.3 L560.8 791.9 L561.4 790.6 L562.0 789.2 L562.5 787.8 L563.0 786.4 L563.5 784.9 L564.0 783.5 L564.5 782.1 L565.0 780.7 L565.5 779.3 L566.0 777.9 L566.5 776.5 L567.1 775.1 L567.7 773.7 L568.4 772.4 L569.2 771.1 L570.0 769.9 L570.9 768.7 L571.8 767.5 L572.7 766.3 L573.6 765.1 L574.5 763.9 L575.3 762.7 L576.1 761.4 L576.8 760.1 L577.5 758.7 L578.2 757.4 L578.8 756.0 L579.5 754.7 L580.2 753.4 L581.0 752.1 L581.8 750.9 L582.7 749.6 L583.5 748.4 L584.4 747.2 L585.4 746.0 L586.3 744.9 L587.3 743.7 L588.2 742.5 L589.1 741.4 L590.1 740.2 L591.0 739.0 L592.0 737.9 L593.0 736.8 L594.0 735.7 L595.1 734.6 L596.1 733.5 L597.2 732.5 L598.3 731.5 L599.4 730.5 L600.6 729.7 L601.9 729.0 L603.3 728.5 L604.7 728.1 L606.2 727.8 L607.7 727.7 L609.1 727.8 L610.5 728.1 L611.8 728.6 L613.1 729.4 L614.3 730.2 L615.5 731.1 L616.7 732.0 L618.0 732.8 L619.3 733.5 L620.6 734.1 L622.0 734.6 L623.4 734.8 L624.8 734.9 L626.2 734.6 L627.6 734.2 L628.9 733.5 L630.2 732.8 L631.4 731.9 L632.5 730.9 L633.5 729.9 L634.5 728.7 L635.3 727.5 L636.1 726.2 L636.7 724.9 L637.4 723.5 L637.9 722.1 L638.3 720.7 L638.7 719.2 L639.1 717.8 L639.4 716.3 L639.8 714.9 L640.1 713.4 L640.4 711.9 L640.8 710.5 L641.2 709.0 L641.5 707.6 L641.9 706.1 L642.3 704.7 L642.7 703.2 L643.1 701.8 L643.6 700.3 L644.0 698.9 L644.4 697.5 L644.8 696.0 L645.2 694.6 L645.7 693.1 L646.1 691.7 L646.5 690.3 L646.9 688.8 L647.3 687.4 L647.7 685.9 L648.1 684.5 L648.5 683.1 L649.0 681.6 L649.4 680.2 L649.8 678.7 L650.2 677.3 L650.6 675.8 L651.0 674.4 L651.4 673.0 L651.8 671.5 L652.2 670.1 L652.7 668.6 L653.1 667.2 L653.5 665.7 L653.9 664.3 L654.3 662.9 L654.7 661.4 L655.1 660.0 L655.5 658.5 L655.9 657.1 L656.3 655.6 L656.7 654.2 L657.1 652.7 L657.5 651.3 L658.0 649.9 L658.5 648.5 L659.0 647.1 L659.7 645.8 L660.5 644.5 L661.3 643.3 L662.2 642.1 L663.2 641.0 L664.3 639.9 L665.4 638.9 L666.5 637.9 L667.6 636.9 L668.8 635.9 L669.9 635.0 L671.1 634.0 L672.2 633.0 L673.4 632.1 L674.5 631.1 L675.6 630.1 L676.7 629.0 L677.7 627.9 L678.7 626.8 L679.6 625.6 L680.4 624.4 L681.2 623.1 L682.0 621.8 L682.6 620.5 L683.3 619.1 L683.9 617.8 L684.5 616.4 L685.0 615.0 L685.5 613.6 L686.1 612.2 L686.5 610.8 L687.0 609.3 L687.5 607.9 L687.9 606.5 L688.3 605.0 L688.7 603.6 L689.1 602.1 L689.4 600.7 L689.7 599.2 L690.0 597.7 L690.3 596.3 L690.6 594.8 L690.9 593.3 L691.1 591.8 L691.4 590.4 L691.6 588.9 L691.8 587.4 L692.1 585.9 L692.3 584.4 L692.5 582.9 L692.7 581.5 L693.0 580.0 L693.2 578.5 L693.5 577.0 L693.7 575.5 L694.0 574.1 L694.2 572.6 L694.5 571.1 L694.7 569.6 L695.0 568.1 L695.2 566.7 L695.4 565.2 L695.7 563.7 L695.9 562.2 L696.2 560.7 L696.4 559.3 L696.7 557.8 L696.9 556.3 L697.2 554.8 L697.4 553.3 L697.7 551.9 L697.9 550.4 L698.2 548.9 L698.4 547.4 L698.7 546.0 L698.9 544.5 L699.1 543.0 L699.4 541.5 L699.6 540.0 L699.9 538.6 L700.1 537.1 L700.4 535.6 L700.6 534.1 L700.9 532.6 L701.1 531.2 L701.4 529.7 L701.6 528.2 L701.9 526.7 L702.2 525.2 L702.4 523.8 L702.6 522.3 L702.9 520.8 L703.1 519.3 L703.3 517.8 L703.5 516.4 L703.7 514.9 L703.9 513.4 L704.1 511.9 L704.2 510.4 L704.4 508.9 L704.5 507.4 L704.7 505.9 L704.8 504.4 L705.0 502.9 L705.1 501.4 L705.3 499.9 L705.4 498.5 L705.5 497.0 L705.7 495.5 L705.8 494.0 L706.0 492.5 L706.1 491.0 L706.3 489.5 L706.4 488.0 L706.6 486.5 L706.7 485.0 L706.9 483.5 L707.0 482.0 L707.2 480.5 L707.4 479.0 L707.5 477.6 L707.7 476.1 L707.8 474.6 L708.0 473.1 L708.1 471.6 L708.2 470.1 L708.4 468.6 L708.5 467.1 L708.6 465.6 L708.7 464.1 L708.8 462.6 L709.0 461.1 L709.1 459.6 L709.2 458.1 L709.3 456.6 L709.4 455.1 L709.5 453.6 L709.6 452.1 L709.7 450.6 L709.8 449.2 L709.9 447.7 L710.0 446.2 L710.1 444.7 L710.2 443.2 L710.3 441.7 L710.4 440.2 L710.5 438.7 L710.6 437.2 L710.7 435.7 L710.8 434.2 L710.9 432.7 L711.0 431.2 L711.1 429.7 L711.2 428.2 L711.3 426.7 L711.4 425.2 L711.5 423.7 L711.6 422.2 L711.7 420.7 L711.9 419.2 L712.0 417.7 L712.1 416.2 L712.2 414.7 L712.3 413.2 L712.4 411.7 L712.6 410.2 L712.7 408.8 L712.8 407.3 L712.9 405.8 L713.0 404.3 L713.2 402.8 L713.3 401.3 L713.4 399.8 L713.5 398.3 L713.6 396.8 L713.8 395.3 L713.9 393.8 L714.0 392.3 L714.1 390.8 L714.2 389.3 L714.3 387.8 L714.4 386.3 L714.5 384.8 L714.7 383.3 L714.8 381.8 L714.9 380.3 L715.0 378.8 L715.1 377.3 L715.2 375.8 L715.3 374.4 L715.4 372.9 L715.5 371.4 L715.5 369.9 L715.6 368.4 L715.7 366.9 L715.8 365.4 L715.9 363.9 L715.9 362.4 L716.0 360.9 L716.1 359.4 L716.1 357.9 L716.2 356.4 L716.3 354.9 L716.4 353.4 L716.4 351.9 L716.5 350.4 L716.6 348.9 L716.7 347.4 L716.8 345.9 L716.9 344.4 L716.9 342.9 L717.1 341.4 L717.2 339.9 L717.3 338.4 L717.4 336.9 L717.5 335.4 L717.6 333.9 L717.7 332.4 L717.9 330.9 L718.0 329.4 L718.1 327.9 L718.2 326.4 L718.4 325.0 L718.5 323.5 L718.6 322.0 L718.8 320.5 L718.9 319.0 L719.1 317.5 L719.2 316.0 L719.3 314.5 L719.5 313.0 L719.6 311.5 L719.8 310.0 L719.9 308.5 L720.0 307.0 L720.2 305.5 L720.4 304.0 L720.5 302.6 L720.7 301.1 L720.8 299.6 L721.0 298.1 L721.2 296.6 L721.4 295.1 L721.6 293.6 L721.8 292.1 L722.0 290.6 L722.2 289.2 L722.4 287.7 L722.6 286.2 L722.8 284.7 L723.0 283.2 L723.3 281.7 L723.5 280.3 L723.7 278.8 L724.0 277.3 L724.2 275.8 L724.5 274.3 L724.8 272.9 L725.0 271.4 L725.3 269.9 L725.6 268.4 L725.9 267.0 L726.2 265.5 L726.5 264.0 L726.8 262.6 L727.1 261.1 L727.5 259.6 L727.8 258.2 L728.2 256.7 L728.5 255.3 L728.9 253.8 L729.3 252.4 L729.7 250.9 L730.1 249.5 L730.5 248.0 L731.0 246.6 L731.5 245.3 L732.2 244.0 L733.0 242.8 L733.9 241.9 L734.9 241.4 L736.0 241.5 L736.9 242.0 L737.7 243.0 L738.4 244.3 L739.0 245.6 L739.5 247.0 L740.0 248.4 L740.4 249.9 L740.8 251.3 L741.2 252.8 L741.5 254.2 L741.8 255.7 L742.1 257.2 L742.4 258.6 L742.7 260.1 L743.0 261.6 L743.2 263.1 L743.5 264.5 L743.8 266.0 L744.1 267.5 L744.3 269.0 L744.6 270.4 L744.9 271.9 L745.1 273.4 L745.4 274.9 L745.7 276.3 L745.9 277.8 L746.1 279.3 L746.4 280.8 L746.6 282.3 L746.8 283.8 L747.0 285.2 L747.2 286.7 L747.4 288.2 L747.6 289.7 L747.8 291.2 L748.0 292.7 L748.2 294.2 L748.3 295.7 L748.5 297.2 L748.6 298.6 L748.8 300.1 L749.0 301.6 L749.1 303.1 L749.3 304.6 L749.4 306.1 L749.6 307.6 L749.7 309.1 L749.9 310.6 L750.0 312.1 L750.2 313.6 L750.4 315.1 L750.5 316.5 L750.7 318.0 L750.8 319.5 L750.9 321.0 L751.1 322.5 L751.2 324.0 L751.4 325.5 L751.5 327.0 L751.7 328.5 L751.8 330.0 L752.0 331.5 L752.1 333.0 L752.3 334.5 L752.4 336.0 L752.6 337.4 L752.7 338.9 L752.9 340.4 L753.0 341.9 L753.2 343.4 L753.3 344.9 L753.5 346.4 L753.6 347.9 L753.8 349.4 L753.9 350.9 L754.1 352.4 L754.2 353.9 L754.4 355.4 L754.5 356.8 L754.7 358.3 L754.8 359.8 L755.0 361.3 L755.1 362.8 L755.3 364.3 L755.4 365.8 L755.6 367.3 L755.7 368.8 L755.9 370.3 L756.0 371.8 L756.2 373.3 L756.3 374.8 L756.5 376.3 L756.6 377.7 L756.8 379.2 L756.9 380.7 L757.1 382.2 L757.2 383.7 L757.3 385.2 L757.5 386.7 L757.6 388.2 L757.8 389.7 L757.9 391.2 L758.1 392.7 L758.2 394.2 L758.4 395.7 L758.5 397.2 L758.6 398.6 L758.8 400.1 L758.9 401.6 L759.0 403.1 L759.1 404.6 L759.3 406.1 L759.4 407.6 L759.5 409.1 L759.6 410.6 L759.8 412.1 L759.9 413.6 L760.0 415.1 L760.1 416.6 L760.2 418.1 L760.3 419.6 L760.3 421.1 L760.4 422.6 L760.4 424.1 L760.5 425.6 L760.5 427.1 L760.6 428.6 L760.6 430.1 L760.6 431.6 L760.6 433.1 L760.7 434.6 L760.7 436.1 L760.7 437.6 L760.8 439.1 L760.8 440.6 L760.9 442.1 L761.0 443.6 L761.0 445.1 L761.1 446.6 L761.2 448.1 L761.2 449.6 L761.3 451.1 L761.4 452.6 L761.5 454.1 L761.6 455.6 L761.7 457.0 L761.8 458.5 L762.0 460.0 L762.2 461.5 L762.4 463.0 L762.6 464.5 L762.8 466.0 L763.0 467.5 L763.1 469.0 L763.3 470.4 L763.5 471.9 L763.6 473.4 L763.7 474.9 L763.9 476.4 L764.0 477.9 L764.1 479.4 L764.2 480.9 L764.4 482.4 L764.5 483.9 L764.6 485.4 L764.7 486.9 L764.9 488.4 L765.0 489.9 L765.1 491.4 L765.2 492.9 L765.4 494.4 L765.5 495.9 L765.6 497.3 L765.8 498.8 L765.9 500.3 L766.0 501.8 L766.2 503.3 L766.3 504.8 L766.4 506.3 L766.6 507.8 L766.7 509.3 L766.9 510.8 L767.0 512.3 L767.1 513.8 L767.3 515.3 L767.4 516.8 L767.6 518.3 L767.7 519.7 L767.9 521.2 L768.0 522.7 L768.2 524.2 L768.3 525.7 L768.5 527.2 L768.6 528.7 L768.8 530.2 L768.9 531.7 L769.1 533.2 L769.2 534.7 L769.4 536.2 L769.5 537.7 L769.7 539.1 L769.9 540.6 L770.0 542.1 L770.2 543.6 L770.3 545.1 L770.5 546.6 L770.6 548.1 L770.7 549.6 L770.9 551.1 L771.0 552.6 L771.2 554.1 L771.3 555.6 L771.5 557.1 L771.6 558.6 L771.8 560.0 L771.9 561.5 L772.0 563.0 L772.2 564.5 L772.3 566.0 L772.5 567.5 L772.6 569.0 L772.8 570.5 L772.9 572.0 L773.1 573.5 L773.2 575.0 L773.4 576.5 L773.6 578.0 L773.7 579.4 L773.9 580.9 L774.0 582.4 L774.2 583.9 L774.4 585.4 L774.6 586.9 L774.7 588.4 L774.9 589.9 L775.1 591.4 L775.3 592.9 L775.4 594.4 L775.6 595.8 L775.8 597.3 L776.0 598.8 L776.2 600.3 L776.4 601.8 L776.6 603.3 L776.8 604.8 L777.0 606.3 L777.2 607.7 L777.4 609.2 L777.6 610.7 L777.8 612.2 L778.0 613.7 L778.2 615.2 L778.5 616.6 L778.7 618.1 L778.9 619.6 L779.2 621.1 L779.4 622.6 L779.6 624.1 L779.9 625.5 L780.1 627.0 L780.4 628.5 L780.6 630.0 L780.9 631.4 L781.1 632.9 L781.4 634.4 L781.7 635.9 L781.9 637.4 L782.2 638.8 L782.4 640.3 L782.7 641.8 L783.0 643.3 L783.2 644.7 L783.5 646.2 L783.8 647.7 L784.1 649.2 L784.3 650.6 L784.6 652.1 L784.9 653.6 L785.2 655.1 L785.5 656.5 L785.8 658.0 L786.1 659.5 L786.4 660.9 L786.8 662.4 L787.1 663.9 L787.4 665.3 L787.8 666.8 L788.2 668.2 L788.5 669.7 L788.9 671.1 L789.3 672.6 L789.7 674.0 L790.0 675.5 L790.4 676.9 L790.8 678.4 L791.2 679.8 L791.6 681.3 L792.0 682.7 L792.3 684.2 L792.7 685.6 L793.1 687.1 L793.5 688.5 L793.9 690.0 L794.3 691.4 L794.8 692.8 L795.3 694.3 L795.8 695.7 L796.3 697.1 L796.9 698.5 L797.4 699.9 L798.1 701.2 L798.8 702.5 L799.5 703.8 L800.5 704.9 L801.5 705.9 L802.7 706.8 L804.0 707.5 L805.3 707.9 L806.7 708.1 L808.2 708.1 L809.6 707.8 L811.0 707.4 L812.3 706.7 L813.5 705.9 L814.7 705.0 L815.7 703.9 L816.6 702.8 L817.5 701.5 L818.3 700.3 L819.2 699.1 L820.0 697.8 L820.8 696.5 L821.5 695.2 L822.3 693.9 L823.0 692.6 L823.6 691.3 L824.3 689.9 L824.9 688.6 L825.5 687.2 L826.1 685.8 L826.7 684.4 L827.2 683.0 L827.8 681.6 L828.3 680.2 L828.7 678.8 L829.2 677.4 L829.7 675.9 L830.1 674.5 L830.6 673.1 L831.0 671.6 L831.4 670.2 L831.7 668.7 L832.1 667.3 L832.5 665.8 L832.8 664.4 L833.1 662.9 L833.4 661.4 L833.8 660.0 L834.1 658.5 L834.4 657.0 L834.7 655.6 L835.0 654.1 L835.3 652.6 L835.6 651.1 L835.9 649.7 L836.2 648.2 L836.5 646.7 L836.8 645.3 L837.0 643.8 L837.3 642.3 L837.6 640.8 L837.9 639.4 L838.2 637.9 L838.4 636.4 L838.7 634.9 L839.0 633.5 L839.2 632.0 L839.5 630.5 L839.7 629.0 L840.0 627.6 L840.2 626.1 L840.5 624.6 L840.7 623.1 L840.9 621.6 L841.2 620.1 L841.4 618.7 L841.6 617.2 L841.8 615.7 L842.0 614.2 L842.3 612.7 L842.5 611.2 L842.7 609.8 L842.8 608.3 L843.0 606.8 L843.2 605.3 L843.4 603.8 L843.5 602.3 L843.7 600.8 L843.9 599.3 L844.0 597.8 L844.1 596.3 L844.3 594.8 L844.4 593.4 L844.6 591.9 L844.7 590.4 L844.8 588.9 L845.0 587.4 L845.1 585.9 L845.3 584.4 L845.4 582.9 L845.6 581.4 L845.8 579.9 L845.9 578.4 L846.1 576.9 L846.3 575.5 L846.5 574.0 L846.7 572.5 L846.9 571.0 L847.0 569.5 L847.2 568.0 L847.4 566.5 L847.6 565.0 L847.8 563.5 L847.9 562.1 L848.1 560.6 L848.3 559.1 L848.5 557.6 L848.6 556.1 L848.8 554.6 L848.9 553.1 L849.1 551.6 L849.3 550.1 L849.4 548.6 L849.6 547.1 L849.7 545.6 L849.9 544.2 L850.0 542.7 L850.2 541.2 L850.3 539.7 L850.4 538.2 L850.6 536.7 L850.7 535.2 L850.8 533.7 L851.0 532.2 L851.1 530.7 L851.2 529.2 L851.4 527.7 L851.5 526.2 L851.6 524.7 L851.7 523.2 L851.8 521.7 L851.9 520.2 L852.0 518.7 L852.2 517.3 L852.3 515.8 L852.4 514.3 L852.5 512.8 L852.6 511.3 L852.8 509.8 L852.9 508.3 L853.0 506.8 L853.2 505.3 L853.3 503.8 L853.5 502.3 L853.6 500.8 L853.8 499.3 L853.9 497.8 L854.1 496.3 L854.2 494.8 L854.4 493.4 L854.5 491.9 L854.7 490.4 L854.8 488.9 L855.0 487.4 L855.1 485.9 L855.3 484.4 L855.4 482.9 L855.6 481.4 L855.7 479.9 L855.9 478.4 L856.0 476.9 L856.2 475.4 L856.3 474.0 L856.5 472.5 L856.6 471.0 L856.8 469.5 L856.9 468.0 L857.1 466.5 L857.2 465.0 L857.4 463.5 L857.5 462.0 L857.7 460.5 L857.8 459.0 L858.0 457.5 L858.1 456.0 L858.3 454.6 L858.4 453.1 L858.6 451.6 L858.7 450.1 L858.9 448.6 L859.0 447.1 L859.2 445.6 L859.3 444.1 L859.5 442.6 L859.6 441.1 L859.8 439.6 L859.9 438.1 L860.1 436.6 L860.2 435.1 L860.4 433.7 L860.5 432.2 L860.7 430.7 L860.8 429.2 L860.9 427.7 L861.1 426.2 L861.2 424.7 L861.4 423.2 L861.5 421.7 L861.7 420.2 L861.8 418.7 L862.0 417.2 L862.1 415.7 L862.3 414.3 L862.5 412.8 L862.6 411.3 L862.8 409.8 L863.0 408.3 L863.2 406.8 L863.4 405.3 L863.6 403.8 L863.7 402.3 L863.9 400.8 L864.1 399.4 L864.2 397.9 L864.4 396.4 L864.6 394.9 L864.8 393.4 L864.9 391.9 L865.1 390.4 L865.3 388.9 L865.5 387.4 L865.6 385.9 L865.8 384.5 L866.0 383.0 L866.2 381.5 L866.4 380.0 L866.6 378.5 L866.8 377.0 L867.0 375.5 L867.3 374.1 L867.5 372.6 L867.7 371.1 L867.9 369.6 L868.2 368.1 L868.4 366.6 L868.6 365.2 L868.8 363.7 L869.1 362.2 L869.3 360.7 L869.5 359.2 L869.8 357.8 L870.0 356.3 L870.2 354.8 L870.4 353.3 L870.7 351.8 L870.9 350.3 L871.1 348.9 L871.3 347.4 L871.5 345.9 L871.8 344.4 L872.0 342.9 L872.2 341.4 L872.4 339.9 L872.6 338.5 L872.9 337.0 L873.1 335.5 L873.3 334.0 L873.5 332.5 L873.7 331.0 L873.9 329.6 L874.1 328.1 L874.3 326.6 L874.5 325.1 L874.7 323.6 L875.0 322.1 L875.2 320.6 L875.4 319.2 L875.6 317.7 L875.9 316.2 L876.1 314.7 L876.4 313.2 L876.6 311.8 L876.9 310.3 L877.2 308.8 L877.5 307.3 L877.8 305.9 L878.0 304.4 L878.3 302.9 L878.6 301.5 L878.9 300.0 L879.2 298.5 L879.5 297.0 L879.7 295.6 L880.0 294.1 L880.3 292.6 L880.6 291.1 L880.8 289.7 L881.1 288.2 L881.4 286.7 L881.7 285.2 L882.0 283.8 L882.2 282.3 L882.5 280.8 L882.8 279.3 L883.1 277.9 L883.3 276.4 L883.6 274.9 L883.9 273.4 L884.2 272.0 L884.4 270.5 L884.7 269.0 L885.0 267.5 L885.3 266.1 L885.5 264.6 L885.8 263.1 L886.1 261.6 L886.3 260.2 L886.6 258.7 L886.9 257.2 L887.1 255.7 L887.4 254.3 L887.7 252.8 L887.9 251.3 L888.2 249.8 L888.4 248.4 L888.7 246.9 L888.9 245.4 L889.1 243.9 L889.4 242.4 L889.6 240.9 L889.8 239.5 L890.0 238.0 L890.2 236.5 L890.4 235.0 L890.6 233.5 L890.8 232.0 L890.9 230.5 L891.1 229.0 L891.3 227.5 L891.4 226.1 L891.6 224.6 L891.7 223.1 L891.8 221.6 L892.0 220.1 L892.1 218.6 L892.2 217.1 L892.3 215.6 L892.4 214.1 L892.5 212.6 L892.6 211.1 L892.7 209.6 L892.8 208.1 L892.9 206.6 L893.0 205.1 L893.1 203.6 L893.2 202.1 L893.3 200.6 L893.4 199.1 L893.5 197.6 L893.6 196.1 L893.7 194.6 L893.8 193.1 L893.9 191.7 L894.1 190.2 L894.2 188.7 L894.3 187.2 L894.4 185.7 L894.5 184.2 L894.7 182.7 L894.8 181.2 L894.9 179.7 L895.0 178.2 L895.2 176.7 L895.3 175.2 L895.4 173.7 L895.6 172.2 L895.7 170.7 L895.9 169.2 L896.0 167.7 L896.1 166.2 L896.3 164.8 L896.4 163.3 L896.6 161.8 L896.7 160.3 L896.9 158.8 L897.0 157.3 L897.2 155.8 L897.4 154.3 L897.5 152.8 L897.7 151.3 L897.9 149.8 L898.0 148.3 L898.2 146.9 L898.4 145.4 L898.5 143.9 L898.7 142.4 L898.9 140.9 L899.1 139.4 L899.3 137.9 L899.5 136.4 L899.7 134.9 L899.9 133.5 L900.1 132.0 L900.4 130.5 L900.6 129.0 L900.9 127.5 L901.1 126.1 L901.4 124.6 L901.7 123.1 L902.0 121.6 L902.3 120.2 L902.7 118.7 L903.1 117.3 L903.5 115.9 L904.1 114.5 L904.7 113.1 L905.4 111.8 L906.2 110.6 L907.1 109.6 L908.1 109.0 L909.2 108.8 L910.2 109.2 L911.2 110.1 L912.0 111.2 L912.7 112.5 L913.3 113.8 L913.8 115.2 L914.3 116.6 L914.8 118.1 L915.2 119.5 L915.5 121.0 L915.8 122.4 L916.1 123.9 L916.4 125.4 L916.6 126.9 L916.8 128.4 L917.0 129.8 L917.3 131.3 L917.5 132.8 L917.7 134.3 L917.9 135.8 L918.1 137.3 L918.3 138.8 L918.4 140.2 L918.6 141.7 L918.8 143.2 L919.0 144.7 L919.1 146.2 L919.3 147.7 L919.4 149.2 L919.6 150.7 L919.7 152.2 L919.9 153.7 L920.0 155.2 L920.1 156.7 L920.3 158.1 L920.4 159.6 L920.5 161.1 L920.7 162.6 L920.8 164.1 L920.9 165.6 L921.1 167.1 L921.2 168.6 L921.3 170.1 L921.4 171.6 L921.6 173.1 L921.7 174.6 L921.8 176.1 L921.9 177.6 L922.0 179.1 L922.1 180.6 L922.3 182.1 L922.4 183.6 L922.5 185.1 L922.6 186.6 L922.7 188.0 L922.8 189.5 L922.9 191.0 L923.0 192.5 L923.1 194.0 L923.2 195.5 L923.3 197.0 L923.5 198.5 L923.6 200.0 L923.7 201.5 L923.8 203.0 L923.9 204.5 L924.0 206.0 L924.1 207.5 L924.2 209.0 L924.3 210.5 L924.4 212.0 L924.5 213.5 L924.6 215.0 L924.7 216.5 L924.8 218.0 L924.9 219.5 L925.0 221.0 L925.1 222.5 L925.2 224.0 L925.3 225.5 L925.4 227.0 L925.6 228.4 L925.7 229.9 L925.8 231.4 L925.9 232.9 L926.0 234.4 L926.1 235.9 L926.2 237.4 L926.3 238.9 L926.4 240.4 L926.5 241.9 L926.5 243.4 L926.6 244.9 L926.7 246.4 L926.8 247.9 L926.9 249.4 L927.0 250.9 L927.1 252.4 L927.2 253.9 L927.3 255.4 L927.3 256.9 L927.4 258.4 L927.5 259.9 L927.6 261.4 L927.6 262.9 L927.7 264.4 L927.8 265.9 L927.8 267.4 L927.9 268.9 L928.0 270.4 L928.0 271.9 L928.1 273.4 L928.1 274.9 L928.2 276.4 L928.2 277.9 L928.3 279.4 L928.4 280.9 L928.4 282.4 L928.5 283.9 L928.5 285.4 L928.6 286.9 L928.6 288.4 L928.7 289.9 L928.8 291.4 L928.8 292.9 L928.9 294.4 L928.9 295.9 L929.0 297.4 L929.1 298.9 L929.1 300.4 L929.2 301.9 L929.2 303.4 L929.3 304.9 L929.4 306.4 L929.4 307.8 L929.5 309.3 L929.5 310.8 L929.6 312.3 L929.7 313.8 L929.7 315.3 L929.8 316.8 L929.8 318.3 L929.9 319.8 L930.0 321.3 L930.0 322.8 L930.1 324.3 L930.1 325.8 L930.2 327.3 L930.3 328.8 L930.3 330.3 L930.4 331.8 L930.5 333.3 L930.5 334.8 L930.6 336.3 L930.7 337.8 L930.7 339.3 L930.8 340.8 L930.9 342.3 L931.0 343.8 L931.0 345.3 L931.1 346.8 L931.2 348.3 L931.3 349.8 L931.3 351.3 L931.4 352.8 L931.5 354.3 L931.6 355.8 L931.6 357.3 L931.7 358.8 L931.8 360.3 L931.9 361.8 L931.9 363.3 L932.0 364.8 L932.1 366.3 L932.2 367.8 L932.2 369.3 L932.3 370.8 L932.4 372.3 L932.5 373.8 L932.5 375.3 L932.6 376.8 L932.7 378.3 L932.8 379.8 L932.8 381.3 L932.9 382.8 L933.0 384.3 L933.1 385.8 L933.2 387.3 L933.2 388.8 L933.3 390.3 L933.4 391.8 L933.5 393.3 L933.5 394.8 L933.6 396.2 L933.7 397.7 L933.8 399.2 L933.8 400.7 L933.9 402.2 L934.0 403.7 L934.0 405.2 L934.1 406.7 L934.2 408.2 L934.2 409.7 L934.3 411.2 L934.4 412.7 L934.4 414.2 L934.5 415.7 L934.5 417.2 L934.6 418.7 L934.6 420.2 L934.7 421.7 L934.8 423.2 L934.8 424.7 L934.9 426.2 L935.0 427.7 L935.0 429.2 L935.1 430.7 L935.2 432.2 L935.2 433.7 L935.3 435.2 L935.3 436.7 L935.4 438.2 L935.5 439.7 L935.5 441.2 L935.6 442.7 L935.7 444.2 L935.8 445.7 L935.8 447.2 L935.9 448.7 L936.0 450.2 L936.0 451.7 L936.1 453.2 L936.2 454.7 L936.3 456.2 L936.3 457.7 L936.4 459.2 L936.5 460.7 L936.6 462.2 L936.7 463.7 L936.8 465.2 L936.9 466.7 L937.0 468.2 L937.1 469.7 L937.1 471.2 L937.2 472.7 L937.3 474.2 L937.4 475.7 L937.5 477.2 L937.6 478.6 L937.8 480.1 L937.9 481.6 L938.0 483.1 L938.1 484.6 L938.2 486.1 L938.3 487.6 L938.4 489.1 L938.5 490.6 L938.6 492.1 L938.7 493.6 L938.8 495.1 L938.9 496.6 L939.0 498.1 L939.1 499.6 L939.2 501.1 L939.3 502.6 L939.4 504.1 L939.5 505.6 L939.6 507.1 L939.7 508.6 L939.8 510.1 L939.9 511.6 L940.0 513.1 L940.1 514.6 L940.2 516.1 L940.3 517.6 L940.4 519.1 L940.5 520.6 L940.6 522.0 L940.7 523.5 L940.8 525.0 L940.9 526.5 L941.0 528.0 L941.1 529.5 L941.2 531.0 L941.3 532.5 L941.4 534.0 L941.5 535.5 L941.6 537.0 L941.7 538.5 L941.8 540.0 L941.9 541.5 L942.1 543.0 L942.2 544.5 L942.3 546.0 L942.4 547.5 L942.5 549.0 L942.6 550.5 L942.7 552.0 L942.8 553.5 L943.0 555.0 L943.1 556.5 L943.2 558.0 L943.3 559.4 L943.4 560.9 L943.6 562.4 L943.7 563.9 L943.8 565.4 L944.0 566.9 L944.1 568.4 L944.2 569.9 L944.4 571.4 L944.5 572.9 L944.6 574.4 L944.8 575.9 L944.9 577.4 L945.1 578.9 L945.2 580.4 L945.4 581.9 L945.5 583.3 L945.7 584.8 L945.9 586.3 L946.1 587.8 L946.2 589.3 L946.4 590.8 L946.6 592.3 L946.8 593.8 L947.0 595.3 L947.2 596.7 L947.4 598.2 L947.6 599.7 L947.9 601.2 L948.1 602.7 L948.3 604.2 L948.6 605.6 L948.8 607.1 L949.0 608.6 L949.3 610.1 L949.5 611.6 L949.8 613.0 L950.0 614.5 L950.3 616.0 L950.5 617.5 L950.8 619.0 L951.1 620.4 L951.3 621.9 L951.6 623.4 L951.9 624.9 L952.1 626.3 L952.4 627.8 L952.7 629.3 L953.0 630.7 L953.4 632.2 L953.7 633.7 L954.0 635.1 L954.4 636.6 L954.8 638.0 L955.1 639.5 L955.5 640.9 L955.9 642.4 L956.3 643.8 L956.8 645.3 L957.2 646.7 L957.6 648.1 L958.1 649.6 L958.6 651.0 L959.1 652.4 L959.6 653.8 L960.1 655.2 L960.7 656.6 L961.2 658.0 L961.7 659.4 L962.3 660.8 L962.8 662.2 L963.4 663.6 L963.9 665.0 L964.5 666.4 L965.0 667.8 L965.6 669.2 L966.1 670.6 L966.6 672.0 L967.1 673.4 L967.6 674.8 L968.0 676.3 L968.5 677.7 L969.0 679.1 L969.4 680.5 L969.9 682.0 L970.3 683.4 L970.7 684.9 L971.1 686.3 L971.5 687.8 L971.9 689.2 L972.3 690.6 L972.7 692.1 L973.1 693.5 L973.5 695.0 L973.9 696.4 L974.3 697.9 L974.7 699.3 L975.1 700.8 L975.5 702.2 L975.9 703.7 L976.3 705.1 L976.6 706.6 L977.0 708.0 L977.4 709.5 L977.8 710.9 L978.1 712.4 L978.5 713.8 L978.8 715.3 L979.1 716.8 L979.5 718.2 L979.8 719.7 L980.1 721.1 L980.4 722.6 L980.8 724.1 L981.1 725.5 L981.5 727.0 L981.8 728.5 L982.2 729.9 L982.5 731.4 L982.9 732.8 L983.2 734.3 L983.6 735.7 L983.9 737.2 L984.3 738.7 L984.6 740.1 L985.0 741.6 L985.3 743.0 L985.7 744.5 L986.1 745.9 L986.5 747.4 L986.9 748.8 L987.3 750.3 L987.7 751.7 L988.2 753.1 L988.6 754.6 L989.1 756.0 L989.6 757.4 L990.1 758.8 L990.6 760.2 L991.1 761.6 L991.7 763.0 L992.2 764.4 L992.8 765.8 L993.3 767.2 L993.9 768.6 L994.5 770.0 L995.1 771.4 L995.6 772.8 L996.2 774.1 L996.8 775.5 L997.5 776.9 L998.1 778.2 L998.8 779.6 L999.5 780.9 L1000.2 782.2 L1001.0 783.5 L1001.7 784.8 L1002.5 786.1 L1003.3 787.3 L1004.1 788.6 L1004.9 789.9 L1005.7 791.1 L1006.6 792.4 L1007.5 793.6 L1008.4 794.8 L1009.3 795.9 L1010.3 797.0 L1011.3 798.2 L1012.3 799.3 L1013.4 800.4 L1014.4 801.5 L1015.4 802.6 L1016.4 803.6 L1017.5 804.7 L1018.6 805.7 L1019.8 806.6 L1021.1 807.3 L1022.4 808.0 L1023.8 808.6 L1025.1 809.2 L1026.5 809.8 L1027.8 810.5 L1029.1 811.3 L1030.4 812.0 L1031.7 812.7 L1033.0 813.4 L1034.4 814.0 L1035.8 814.6 L1037.2 815.2 L1038.5 815.8 L1039.9 816.5 L1041.2 817.2 L1042.5 817.9 L1043.8 818.7 L1045.0 819.5 L1046.3 820.3 L1047.6 821.1 L1048.9 821.9 L1050.2 822.6 L1051.5 823.3 L1052.8 823.9 L1054.2 824.4 L1055.7 824.9 L1057.1 825.3 L1058.6 825.5 L1060.0 825.7 L1061.5 825.7 L1063.0 825.7 L1064.5 825.6 L1066.0 825.5 L1067.5 825.3 L1068.9 825.0 L1070.3 824.5 L1071.6 823.9 L1072.8 823.1 L1073.9 822.1 L1075.0 821.1 L1076.1 820.0 L1077.1 818.9 L1078.1 817.8 L1079.1 816.7 L1080.1 815.6 L1081.1 814.4 L1082.0 813.2 L1082.9 812.1 L1083.9 810.9 L1084.8 809.8 L1085.8 808.6 L1086.9 807.6 L1088.0 806.6 L1089.2 805.8 L1090.5 805.0 L1091.8 804.3 L1093.2 803.7 L1094.5 803.1 L1096.0 802.8 L1097.4 802.6 L1098.8 802.6 L1100.3 802.9 L1101.6 803.3 L1102.9 804.0 L1104.2 804.8 L1105.3 805.7 L1106.5 806.7 L1107.5 807.8 L1108.5 808.9 L1109.4 810.0 L1110.3 811.3 L1111.1 812.5 L1111.8 813.8 L1112.5 815.2 L1113.2 816.5 L1114.0 817.8 L1114.8 819.1 L1115.5 820.3 L1116.4 821.6 L1117.2 822.8 L1118.1 824.1 L1119.0 825.2 L1119.9 826.3 L1121.0 827.3 L1122.2 828.1 L1123.5 828.6 L1124.9 829.0 L1126.4 829.2 L1127.9 829.3 L1129.4 829.4 L1130.8 829.3 L1132.3 829.1 L1133.6 828.6 L1134.8 827.9 L1135.9 827.0 L1137.0 825.9 L1138.0 824.8 L1138.9 823.7 L1139.9 822.6 L1140.9 821.4 L1141.8 820.3 L1142.8 819.1 L1143.8 818.0 L1144.8 817.0 L1146.0 816.1 L1147.2 815.3 L1148.6 814.7 L1150.0 814.3 L1151.4 814.0 L1152.9 814.0 L1154.3 814.1 L1155.6 814.5 L1156.9 815.2 L1158.1 816.0 L1159.2 817.0 L1160.3 818.0 L1161.5 818.9 L1162.6 819.9 L1163.8 820.8 L1165.0 821.7 L1166.2 822.6 L1167.5 823.4 L1168.8 824.1 L1170.1 824.6 L1171.6 825.0 L1173.0 825.3 L1174.5 825.4 L1176.0 825.5 L1177.5 825.5 L1178.9 825.4 L1180.4 825.1 L1181.8 824.6 L1183.1 824.0 L1184.5 823.4 L1185.8 822.7 L1187.2 822.1 L1188.6 821.6 L1190.0 821.1 L1191.4 820.7 L1192.9 820.4 L1194.4 820.2 L1195.8 820.1 L1197.3 820.2 L1198.8 820.4 L1200.2 820.7 L1201.7 821.1 L1203.1 821.6 L1204.5 822.1 L1205.9 822.7 L1207.3 823.3 L1208.6 823.9 L1210.0 824.6 L1211.3 825.3 L1212.6 826.0 L1214.0 826.6 L1215.3 827.2 L1216.7 827.8 L1218.1 828.3 L1219.5 828.8 L1221.0 829.3 L1222.4 829.6 L1223.9 829.8 L1225.4 830.0 L1226.9 830.0 L1228.4 830.0 L1229.9 830.0 L1231.4 830.0 L1232.9 830.0 L1234.4 830.0 L1235.9 830.0 L1237.4 830.0 L1238.8 830.0 L1240.3 829.9 L1241.8 829.7 L1243.2 829.3 L1244.5 828.6 L1245.7 827.8 L1246.9 826.9 L1248.0 825.9 L1249.0 824.9 L1250.1 823.8 L1251.0 822.6 L1251.9 821.5 L1252.8 820.2 L1253.7 819.0 L1254.5 817.8 L1255.4 816.6 L1256.3 815.4 L1257.2 814.2 L1258.2 813.0 L1259.1 811.9 L1260.1 810.7 L1261.0 809.6 L1262.1 808.5 L1263.1 807.4 L1264.2 806.4 L1265.3 805.4 L1266.4 804.4 L1267.6 803.4 L1268.8 802.6 L1270.0 801.8 L1271.4 801.3 L1272.8 800.9 L1274.2 800.8 L1275.7 800.9 L1277.1 801.2 L1278.6 801.6 L1280.0 802.0 L1281.4 802.4 L1282.9 802.9 L1284.3 803.4 L1285.7 803.9 L1287.1 804.4 L1288.5 804.8 L1290.0 805.2 L1291.4 805.4 L1292.9 805.5 L1294.4 805.4 L1295.8 805.2 L1297.3 804.9 L1298.7 804.5 L1300.1 804.0 L1301.5 803.5 L1302.9 802.9 L1304.3 802.2 L1305.5 801.5 L1306.8 800.7 L1308.0 799.7 L1309.1 798.7 L1310.1 797.7 L1311.1 796.5 L1312.0 795.4 L1312.9 794.2 L1313.8 793.0 L1314.7 791.8 L1315.6 790.5 L1316.4 789.3 L1317.2 788.0 L1318.0 786.8 L1318.8 785.5 L1319.5 784.2 L1320.2 782.9 L1320.9 781.5 L1321.6 780.2 L1322.3 778.9 L1323.0 777.5 L1323.6 776.2 L1324.2 774.8 L1324.8 773.4 L1325.4 772.0 L1325.9 770.6 L1326.5 769.2 L1327.0 767.8 L1327.5 766.4 L1328.0 765.0 L1328.5 763.6 L1328.9 762.1 L1329.3 760.7 L1329.8 759.3 L1330.2 757.8 L1330.6 756.4 L1331.0 754.9 L1331.4 753.5 L1331.8 752.0 L1332.2 750.6 L1332.5 749.1 L1332.9 747.7 L1333.3 746.2 L1333.7 744.8 L1334.1 743.3 L1334.4 741.9 L1334.8 740.4 L1335.2 739.0 L1335.5 737.5 L1335.9 736.1 L1336.3 734.6 L1336.6 733.2 L1337.0 731.7 L1337.3 730.2 L1337.6 728.8 L1338.0 727.3 L1338.3 725.8 L1338.6 724.4 L1339.0 722.9 L1339.3 721.4 L1339.6 720.0 L1339.9 718.5 L1340.2 717.0 L1340.5 715.6 L1340.8 714.1 L1341.1 712.6 L1341.4 711.2 L1341.7 709.7 L1342.0 708.2 L1342.3 706.8 L1342.5 705.3 L1342.8 703.8 L1343.1 702.3 L1343.3 700.9 L1343.6 699.4 L1343.9 697.9 L1344.1 696.4 L1344.4 694.9 L1344.6 693.5 L1344.9 692.0 L1345.1 690.5 L1345.4 689.0 L1345.6 687.5 L1345.9 686.1 L1346.1 684.6 L1346.3 683.1 L1346.5 681.6 L1346.8 680.1 L1347.0 678.6 L1347.2 677.2 L1347.4 675.7 L1347.6 674.2 L1347.9 672.7 L1348.1 671.2 L1348.3 669.7 L1348.5 668.3 L1348.8 666.8 L1349.0 665.3 L1349.2 663.8 L1349.4 662.3 L1349.7 660.9 L1349.9 659.4 L1350.1 657.9 L1350.4 656.4 L1350.6 654.9 L1350.8 653.4 L1351.0 651.9 L1351.2 650.5 L1351.4 649.0 L1351.6 647.5 L1351.8 646.0 L1352.0 644.5 L1352.1 643.0 L1352.3 641.5 L1352.5 640.0 L1352.6 638.5 L1352.8 637.1 L1352.9 635.6 L1353.1 634.1 L1353.3 632.6 L1353.4 631.1 L1353.6 629.6 L1353.7 628.1 L1353.9 626.6 L1354.1 625.1 L1354.2 623.6 L1354.4 622.1 L1354.6 620.7 L1354.8 619.2 L1354.9 617.7 L1355.1 616.2 L1355.3 614.7 L1355.4 613.2 L1355.6 611.7 L1355.8 610.2 L1355.9 608.7 L1356.1 607.2 L1356.2 605.7 L1356.4 604.3 L1356.5 602.8 L1356.7 601.3 L1356.8 599.8 L1356.9 598.3 L1357.1 596.8 L1357.2 595.3 L1357.3 593.8 L1357.5 592.3 L1357.6 590.8 L1357.7 589.3 L1357.8 587.8 L1358.0 586.3 L1358.1 584.8 L1358.2 583.3 L1358.3 581.8 L1358.5 580.3 L1358.6 578.8 L1358.7 577.4 L1358.8 575.9 L1359.0 574.4 L1359.1 572.9 L1359.2 571.4 L1359.3 569.9 L1359.4 568.4 L1359.6 566.9 L1359.7 565.4 L1359.8 563.9 L1359.9 562.4 L1360.0 560.9 L1360.1 559.4 L1360.2 557.9 L1360.4 556.4 L1360.5 554.9 L1360.6 553.4 L1360.7 551.9 L1360.8 550.4 L1360.9 548.9 L1361.0 547.4 L1361.1 545.9 L1361.2 544.4 L1361.3 543.0 L1361.4 541.5 L1361.5 540.0 L1361.6 538.5 L1361.7 537.0 L1361.8 535.5 L1361.9 534.0 L1362.0 532.5 L1362.1 531.0 L1362.2 529.5 L1362.3 528.0 L1362.4 526.5 L1362.5 525.0 L1362.6 523.5 L1362.7 522.0 L1362.8 520.5 L1363.0 519.0 L1363.1 517.5 L1363.2 516.0 L1363.3 514.5 L1363.4 513.0 L1363.5 511.5 L1363.6 510.0 L1363.7 508.5 L1363.8 507.0 L1363.9 505.5 L1364.1 504.0 L1364.2 502.6 L1364.3 501.1 L1364.4 499.6 L1364.5 498.1 L1364.7 496.6 L1364.8 495.1 L1364.9 493.6 L1365.0 492.1 L1365.2 490.6 L1365.3 489.1 L1365.4 487.6 L1365.6 486.1 L1365.7 484.6 L1365.8 483.1 L1365.9 481.6 L1366.1 480.1 L1366.2 478.6 L1366.3 477.1 L1366.4 475.6 L1366.6 474.2 L1366.7 472.7 L1366.8 471.2 L1367.0 469.7 L1367.1 468.2 L1367.2 466.7 L1367.3 465.2 L1367.4 463.7 L1367.6 462.2 L1367.7 460.7 L1367.8 459.2 L1367.9 457.7 L1368.1 456.2 L1368.2 454.7 L1368.3 453.2 L1368.4 451.7 L1368.6 450.2 L1368.7 448.7 L1368.8 447.2 L1368.9 445.8 L1369.1 444.3 L1369.2 442.8 L1369.3 441.3 L1369.4 439.8 L1369.5 438.3 L1369.7 436.8 L1369.8 435.3 L1369.9 433.8 L1370.0 432.3 L1370.1 430.8 L1370.2 429.3 L1370.3 427.8 L1370.4 426.3 L1370.5 424.8 L1370.6 423.3 L1370.7 421.8 L1370.8 420.3 L1370.9 418.8 L1371.0 417.3 L1371.1 415.8 L1371.2 414.3 L1371.2 412.8 L1371.3 411.3 L1371.4 409.8 L1371.5 408.3 L1371.6 406.8 L1371.7 405.3 L1371.8 403.9 L1371.9 402.4 L1372.0 400.9 L1372.1 399.4 L1372.2 397.9 L1372.3 396.4 L1372.4 394.9 L1372.5 393.4 L1372.6 391.9 L1372.7 390.4 L1372.8 388.9 L1372.9 387.4 L1373.1 385.9 L1373.2 384.4 L1373.3 382.9 L1373.4 381.4 L1373.6 379.9 L1373.7 378.4 L1373.8 376.9 L1374.0 375.4 L1374.1 373.9 L1374.2 372.4 L1374.4 371.0 L1374.5 369.5 L1374.6 368.0 L1374.7 366.5 L1374.9 365.0 L1375.0 363.5 L1375.1 362.0 L1375.2 360.5 L1375.3 359.0 L1375.5 357.5 L1375.6 356.0 L1375.7 354.5 L1375.8 353.0 L1375.9 351.5 L1376.1 350.0 L1376.2 348.5 L1376.3 347.0 L1376.4 345.5 L1376.6 344.0 L1376.7 342.5 L1376.8 341.1 L1377.0 339.6 L1377.1 338.1 L1377.3 336.6 L1377.4 335.1 L1377.6 333.6 L1377.7 332.1 L1377.9 330.6 L1378.1 329.1 L1378.3 327.6 L1378.5 326.1 L1378.6 324.7 L1378.8 323.2 L1379.0 321.7 L1379.2 320.2 L1379.4 318.7 L1379.6 317.2 L1379.8 315.7 L1380.0 314.2 L1380.1 312.7 L1380.3 311.3 L1380.5 309.8 L1380.7 308.3 L1380.8 306.8 L1381.0 305.3 L1381.2 303.8 L1381.4 302.3 L1381.6 300.8 L1381.7 299.3 L1381.9 297.9 L1382.1 296.4 L1382.3 294.9 L1382.4 293.4 L1382.6 291.9 L1382.8 290.4 L1383.0 288.9 L1383.2 287.4 L1383.4 285.9 L1383.6 284.5 L1383.8 283.0 L1384.0 281.5 L1384.2 280.0 L1384.3 278.5 L1384.5 277.0 L1384.7 275.5 L1384.9 274.0 L1385.1 272.6 L1385.3 271.1 L1385.5 269.6 L1385.7 268.1 L1385.9 266.6 L1386.1 265.1 L1386.3 263.6 L1386.5 262.1 L1386.6 260.7 L1386.8 259.2 L1387.0 257.7 L1387.2 256.2 L1387.3 254.7 L1387.5 253.2 L1387.7 251.7 L1387.9 250.2 L1388.0 248.7 L1388.2 247.2 L1388.4 245.8 L1388.6 244.3 L1388.8 242.8 L1389.0 241.3 L1389.1 239.8 L1389.3 238.3 L1389.5 236.8 L1389.7 235.3 L1389.9 233.9 L1390.1 232.4 L1390.3 230.9 L1390.5 229.4 L1390.7 227.9 L1390.9 226.4 L1391.2 224.9 L1391.4 223.5 L1391.6 222.0 L1391.8 220.5 L1392.1 219.0 L1392.3 217.5 L1392.5 216.0 L1392.8 214.6 L1393.0 213.1 L1393.3 211.6 L1393.5 210.1 L1393.8 208.7 L1394.1 207.2 L1394.3 205.7 L1394.6 204.2 L1394.9 202.8 L1395.2 201.3 L1395.5 199.8 L1395.9 198.4 L1396.2 196.9 L1396.6 195.4 L1396.9 194.0 L1397.3 192.5 L1397.7 191.1 L1398.1 189.6 L1398.5 188.2 L1398.9 186.8 L1399.3 185.3 L1399.8 183.9 L1400.3 182.5 L1400.8 181.1 L1401.3 179.6 L1401.8 178.2 L1402.4 176.9 L1403.0 175.5 L1403.7 174.2 L1404.4 172.9 L1405.2 171.6 L1406.1 170.4 L1407.1 169.3 L1408.1 168.3 L1409.3 167.5 L1410.5 166.9 L1411.8 166.8 L1413.0 167.1 L1414.2 167.8 L1415.3 168.7 L1416.2 169.8 L1417.1 171.0 L1417.9 172.3 L1418.6 173.6 L1419.2 175.0 L1419.7 176.4 L1420.1 177.8 L1420.5 179.2 L1420.9 180.7 L1421.3 182.2 L1421.6 183.6 L1422.0 185.1 L1422.3 186.5 L1422.6 188.0 L1423.0 189.5 L1423.3 190.9 L1423.6 192.4 L1423.9 193.9 L1424.1 195.3 L1424.4 196.8 L1424.7 198.3 L1424.9 199.8 L1425.2 201.2 L1425.5 202.7 L1425.7 204.2 L1426.0 205.7 L1426.2 207.2 L1426.4 208.6 L1426.7 210.1 L1426.9 211.6 L1427.1 213.1 L1427.4 214.6 L1427.6 216.1 L1427.8 217.5 L1428.0 219.0 L1428.2 220.5 L1428.4 222.0 L1428.6 223.5 L1428.8 225.0 L1429.0 226.5 L1429.2 227.9 L1429.4 229.4 L1429.6 230.9 L1429.7 232.4 L1429.9 233.9 L1430.0 235.4 L1430.2 236.9 L1430.3 238.4 L1430.5 239.9 L1430.6 241.4 L1430.8 242.9 L1430.9 244.4 L1431.1 245.8 L1431.2 247.3 L1431.3 248.8 L1431.5 250.3 L1431.6 251.8 L1431.8 253.3 L1431.9 254.8 L1432.0 256.3 L1432.2 257.8 L1432.3 259.3 L1432.5 260.8 L1432.6 262.3 L1432.7 263.8 L1432.9 265.3 L1433.0 266.8 L1433.1 268.3 L1433.3 269.7 L1433.4 271.2 L1433.5 272.7 L1433.7 274.2 L1433.8 275.7 L1433.9 277.2 L1434.0 278.7 L1434.2 280.2 L1434.3 281.7 L1434.4 283.2 L1434.5 284.7 L1434.6 286.2 L1434.8 287.7 L1434.9 289.2 L1435.0 290.7 L1435.1 292.2 L1435.2 293.7 L1435.4 295.2 L1435.5 296.7 L1435.6 298.2 L1435.7 299.6 L1435.8 301.1 L1435.9 302.6 L1436.1 304.1 L1436.2 305.6 L1436.3 307.1 L1436.4 308.6 L1436.6 310.1 L1436.7 311.6 L1436.8 313.1 L1436.9 314.6 L1437.0 316.1 L1437.2 317.6 L1437.3 319.1 L1437.4 320.6 L1437.5 322.1 L1437.6 323.6 L1437.7 325.1 L1437.8 326.6 L1438.0 328.1 L1438.1 329.6 L1438.2 331.0 L1438.3 332.5 L1438.4 334.0 L1438.5 335.5 L1438.6 337.0 L1438.7 338.5 L1438.8 340.0 L1438.9 341.5 L1439.0 343.0 L1439.1 344.5 L1439.2 346.0 L1439.3 347.5 L1439.4 349.0 L1439.5 350.5 L1439.6 352.0 L1439.8 353.5 L1439.9 355.0 L1440.0 356.5 L1440.1 358.0 L1440.2 359.5 L1440.4 361.0 L1440.5 362.5 L1440.6 364.0 L1440.7 365.5 L1440.9 366.9 L1441.0 368.4 L1441.1 369.9 L1441.2 371.4 L1441.3 372.9 L1441.4 374.4 L1441.6 375.9 L1441.7 377.4 L1441.8 378.9 L1441.9 380.4 L1442.0 381.9 L1442.1 383.4 L1442.2 384.9 L1442.3 386.4 L1442.4 387.9 L1442.5 389.4 L1442.6 390.9 L1442.7 392.4 L1442.8 393.9 L1442.9 395.4 L1443.0 396.9 L1443.1 398.4 L1443.2 399.9 L1443.3 401.4 L1443.4 402.9 L1443.5 404.4 L1443.6 405.9 L1443.7 407.3 L1443.8 408.8 L1443.9 410.3 L1444.0 411.8 L1444.1 413.3 L1444.2 414.8 L1444.2 416.3 L1444.3 417.8 L1444.4 419.3 L1444.5 420.8 L1444.5 422.3 L1444.6 423.8 L1444.7 425.3 L1444.8 426.8 L1444.8 428.3 L1444.9 429.8 L1444.9 431.3 L1445.0 432.8 L1445.0 434.3 L1445.1 435.8 L1445.2 437.3 L1445.2 438.8 L1445.3 440.3 L1445.3 441.8 L1445.4 443.3 L1445.5 444.8 L1445.5 446.3 L1445.6 447.8 L1445.7 449.3 L1445.7 450.8 L1445.8 452.3 L1445.9 453.8 L1446.0 455.3 L1446.0 456.8 L1446.1 458.3 L1446.2 459.8 L1446.3 461.3 L1446.3 462.8 L1446.4 464.3 L1446.5 465.8 L1446.6 467.3 L1446.7 468.8 L1446.7 470.3 L1446.8 471.8 L1446.9 473.3 L1447.0 474.8 L1447.1 476.3 L1447.2 477.8 L1447.3 479.3 L1447.3 480.8 L1447.4 482.3 L1447.5 483.8 L1447.6 485.2 L1447.7 486.7 L1447.8 488.2 L1447.9 489.7 L1448.0 491.2 L1448.1 492.7 L1448.2 494.2 L1448.2 495.7 L1448.3 497.2 L1448.4 498.7 L1448.5 500.2 L1448.6 501.7 L1448.7 503.2 L1448.8 504.7 L1448.9 506.2 L1449.0 507.7 L1449.1 509.2 L1449.2 510.7 L1449.3 512.2 L1449.4 513.7 L1449.5 515.2 L1449.6 516.7 L1449.7 518.2 L1449.7 519.7 L1449.8 521.2 L1449.9 522.7 L1450.0 524.2 L1450.1 525.7 L1450.2 527.2 L1450.3 528.7 L1450.4 530.2 L1450.5 531.7 L1450.6 533.2 L1450.7 534.6 L1450.8 536.1 L1450.9 537.6 L1451.0 539.1 L1451.1 540.6 L1451.3 542.1 L1451.4 543.6 L1451.5 545.1 L1451.6 546.6 L1451.7 548.1 L1451.8 549.6 L1451.9 551.1 L1452.0 552.6 L1452.2 554.1 L1452.3 555.6 L1452.4 557.1 L1452.5 558.6 L1452.7 560.1 L1452.8 561.6 L1452.9 563.1 L1453.0 564.6 L1453.2 566.1 L1453.3 567.5 L1453.4 569.0 L1453.6 570.5 L1453.7 572.0 L1453.8 573.5 L1453.9 575.0 L1454.1 576.5 L1454.2 578.0 L1454.3 579.5 L1454.4 581.0 L1454.6 582.5 L1454.7 584.0 L1454.8 585.5 L1454.9 587.0 L1455.0 588.5 L1455.2 590.0 L1455.3 591.5 L1455.4 593.0 L1455.5 594.5 L1455.6 596.0 L1455.8 597.4 L1455.9 598.9 L1456.0 600.4 L1456.2 601.9 L1456.3 603.4 L1456.4 604.9 L1456.6 606.4 L1456.7 607.9 L1456.9 609.4 L1457.0 610.9 L1457.2 612.4 L1457.3 613.9 L1457.5 615.4 L1457.6 616.9 L1457.8 618.3 L1458.0 619.8 L1458.1 621.3 L1458.3 622.8 L1458.5 624.3 L1458.6 625.8 L1458.8 627.3 L1459.0 628.8 L1459.1 630.3 L1459.3 631.8 L1459.5 633.3 L1459.7 634.7 L1459.8 636.2 L1460.0 637.7 L1460.2 639.2 L1460.4 640.7 L1460.6 642.2 L1460.7 643.7 L1460.9 645.2 L1461.1 646.7 L1461.3 648.1 L1461.5 649.6 L1461.7 651.1 L1461.9 652.6 L1462.1 654.1 L1462.3 655.6 L1462.5 657.1 L1462.7 658.6 L1462.9 660.0 L1463.1 661.5 L1463.3 663.0 L1463.5 664.5 L1463.7 666.0 L1464.0 667.5 L1464.2 668.9 L1464.4 670.4 L1464.6 671.9 L1464.9 673.4 L1465.1 674.9 L1465.3 676.4 L1465.6 677.8 L1465.8 679.3 L1466.1 680.8 L1466.3 682.3 L1466.6 683.7 L1466.9 685.2 L1467.2 686.7 L1467.4 688.2 L1467.7 689.6 L1468.0 691.1 L1468.3 692.6 L1468.6 694.1 L1468.9 695.5 L1469.2 697.0 L1469.5 698.5 L1469.8 699.9 L1470.2 701.4 L1470.5 702.8 L1471.0 704.3 L1471.4 705.7 L1471.9 707.1 L1472.4 708.5 L1472.9 709.9 L1473.5 711.3 L1474.1 712.7 L1474.7 714.1 L1475.3 715.4 L1476.0 716.8 L1476.6 718.2 L1477.2 719.5 L1477.8 720.9 L1478.3 722.3 L1478.9 723.7 L1479.5 725.1 L1480.1 726.5 L1480.7 727.8 L1481.2 729.2 L1481.8 730.6 L1482.4 732.0 L1483.0 733.4 L1483.5 734.8 L1484.1 736.1 L1484.7 737.5 L1485.2 738.9 L1485.8 740.3 L1486.4 741.7 L1486.9 743.1 L1487.5 744.5 L1488.1 745.9 L1488.7 747.2 L1489.3 748.6 L1489.9 750.0 L1490.6 751.3 L1491.2 752.7 L1491.9 754.0 L1492.5 755.4 L1493.2 756.7 L1493.9 758.0 L1494.7 759.3 L1495.4 760.6 L1496.3 761.9 L1497.1 763.1 L1498.0 764.3 L1498.9 765.5 L1499.8 766.7 L1500.7 767.9 L1501.6 769.1 L1502.6 770.3 L1503.5 771.5 L1504.3 772.7 L1505.2 773.9 L1506.1 775.1 L1507.0 776.3 L1507.9 777.5 L1508.9 778.7 L1509.8 779.8 L1510.8 780.9 L1511.8 782.1 L1512.8 783.2 L1513.8 784.3 L1514.9 785.3 L1516.0 786.3 L1517.1 787.3 L1518.3 788.3 L1519.5 789.1 L1520.7 790.0 L1522.0 790.8 L1523.3 791.5 L1524.6 792.2 L1526.0 792.8 L1527.4 793.3 L1528.8 793.7 L1530.3 794.1 L1531.7 794.4 L1533.2 794.6 L1534.7 794.7 L1536.1 794.6 L1537.6 794.3 L1539.0 794.0 L1540.4 793.5 L1541.8 792.9 L1543.2 792.3 L1544.5 791.6 L1545.9 791.0 L1547.2 790.3 L1548.5 789.5 L1549.8 788.7 L1551.0 787.9 L1552.2 787.0 L1553.4 786.1 L1554.5 785.1 L1555.6 784.1 L1556.8 783.1 L1557.9 782.1 L1559.1 781.2 L1560.3 780.4 L1561.6 779.7 L1563.0 779.1 L1564.3 778.5 L1565.7 777.9 L1567.1 777.3 L1568.5 776.7 L1569.8 776.0 L1571.1 775.3 L1572.4 774.5 L1573.6 773.6 L1574.8 772.7 L1575.9 771.7 L1576.9 770.7 L1577.9 769.5 L1578.7 768.3 L1579.5 767.0 L1580.2 765.7 L1580.8 764.4 L1581.3 763.0 L1581.8 761.6 L1582.3 760.1 L1582.8 758.7 L1583.2 757.3 L1583.6 755.8 L1584.0 754.4 L1584.4 752.9 L1584.7 751.5 L1585.1 750.0 L1585.4 748.5 L1585.8 747.1 L1586.1 745.6 L1586.5 744.2 L1586.9 742.7 L1587.3 741.3 L1587.6 739.8 L1588.0 738.4 L1588.3 736.9 L1588.7 735.4 L1589.0 734.0 L1589.3 732.5 L1589.6 731.0 L1589.9 729.6 L1590.2 728.1 L1590.4 726.6 L1590.7 725.1 L1590.9 723.7 L1591.2 722.2 L1591.4 720.7 L1591.7 719.2 L1592.0 717.7 L1592.2 716.3 L1592.5 714.8 L1592.7 713.3 L1593.0 711.8 L1593.2 710.3 L1593.4 708.9 L1593.6 707.4 L1593.9 705.9 L1594.1 704.4 L1594.3 702.9 L1594.5 701.4 L1594.8 700.0 L1595.0 698.5 L1595.3 697.0 L1595.5 695.5 L1595.8 694.1 L1596.2 692.6 L1596.5 691.1 L1596.8 689.7 L1597.2 688.2 L1597.5 686.8 L1597.8 685.3 L1598.1 683.8 L1598.4 682.4 L1598.7 680.9 L1599.0 679.4 L1599.2 677.9 L1599.5 676.4 L1599.7 675.0 L1600.0 673.5 L1600.2 672.0 L1600.4 670.5 L1600.7 669.0 L1600.9 667.6 L1601.1 666.1 L1601.3 664.6 L1601.6 663.1 L1601.8 661.6 L1602.0 660.1 L1602.2 658.7 L1602.4 657.2 L1602.7 655.7 L1602.9 654.2 L1603.1 652.7 L1603.3 651.2 L1603.5 649.8 L1603.7 648.3 L1604.0 646.8 L1604.2 645.3 L1604.5 643.8 L1604.8 642.4 L1605.0 640.9 L1605.3 639.4 L1605.6 637.9 L1605.9 636.5 L1606.2 635.0 L1606.5 633.5 L1606.9 632.1 L1607.2 630.6 L1607.6 629.2 L1607.9 627.7 L1608.3 626.3 L1608.7 624.8 L1609.2 623.4 L1609.6 621.9 L1610.1 620.5 L1610.5 619.1 L1611.0 617.7 L1611.5 616.3 L1612.0 614.9 L1612.6 613.4 L1613.1 612.1 L1613.7 610.7 L1614.2 609.3 L1614.8 607.9 L1615.4 606.5 L1616.0 605.1 L1616.7 603.8 L1617.3 602.4 L1618.0 601.1 L1618.7 599.8 L1619.4 598.5 L1620.2 597.2 L1621.0 595.9 L1621.8 594.6 L1622.6 593.4 L1623.5 592.2 L1624.5 591.0 L1625.5 590.0 L1626.6 589.1 L1627.7 588.4 L1628.9 588.1 L1630.1 588.3 L1631.2 588.9 L1632.1 589.9 L1633.0 591.0 L1633.7 592.3 L1634.3 593.7 L1634.8 595.1 L1635.3 596.5 L1635.7 597.9 L1636.1 599.4 L1636.4 600.8 L1636.7 602.3 L1637.0 603.8 L1637.2 605.3 L1637.5 606.7 L1637.7 608.2 L1637.9 609.7 L1638.1 611.2 L1638.3 612.7 L1638.5 614.2 L1638.7 615.7 L1638.8 617.2 L1639.0 618.6 L1639.1 620.1 L1639.3 621.6 L1639.4 623.1 L1639.6 624.6 L1639.7 626.1 L1639.9 627.6 L1640.0 629.1 L1640.2 630.6 L1640.4 632.1 L1640.5 633.6 L1640.7 635.1 L1640.9 636.5 L1641.1 638.0 L1641.2 639.5 L1641.4 641.0 L1641.6 642.5 L1641.7 644.0 L1641.9 645.5 L1642.1 647.0 L1642.2 648.5 L1642.4 650.0 L1642.5 651.5 L1642.7 653.0 L1642.8 654.4 L1643.0 655.9 L1643.1 657.4 L1643.2 658.9 L1643.4 660.4 L1643.5 661.9 L1643.7 663.4 L1643.8 664.9 L1643.9 666.4 L1644.0 667.9 L1644.2 669.4 L1644.3 670.9 L1644.4 672.4 L1644.5 673.9 L1644.6 675.4 L1644.7 676.9 L1644.8 678.4 L1644.9 679.9 L1645.0 681.4 L1645.1 682.9 L1645.2 684.3 L1645.2 685.8 L1645.3 687.3 L1645.4 688.8 L1645.5 690.3 L1645.6 691.8 L1645.7 693.3 L1645.8 694.8 L1645.9 696.3 L1646.0 697.8 L1646.1 699.3 L1646.3 700.8 L1646.4 702.3 L1646.5 703.8 L1646.6 705.3 L1646.8 706.8 L1646.9 708.3 L1647.1 709.8 L1647.2 711.3 L1647.4 712.8 L1647.6 714.2 L1647.8 715.7 L1647.9 717.2 L1648.1 718.7 L1648.3 720.2 L1648.5 721.7 L1648.7 723.2 L1648.9 724.7 L1649.1 726.1 L1649.3 727.6 L1649.5 729.1 L1649.8 730.6 L1650.0 732.1 L1650.2 733.6 L1650.4 735.1 L1650.7 736.5 L1650.9 738.0 L1651.1 739.5 L1651.4 741.0 L1651.7 742.4 L1651.9 743.9 L1652.2 745.4 L1652.5 746.9 L1652.7 748.4 L1653.0 749.8 L1653.3 751.3 L1653.5 752.8 L1653.8 754.3 L1654.0 755.7 L1654.3 757.2 L1654.5 758.7 L1654.8 760.2 L1655.0 761.7 L1655.3 763.1 L1655.5 764.6 L1655.8 766.1 L1656.1 767.6 L1656.3 769.0 L1656.6 770.5 L1656.9 772.0 L1657.1 773.5 L1657.4 774.9 L1657.7 776.4 L1657.9 777.9 L1658.2 779.4 L1658.5 780.8 L1658.8 782.3 L1659.1 783.8 L1659.3 785.3 L1659.6 786.7 L1660.0 788.2 L1660.3 789.7 L1660.6 791.1 L1660.9 792.6 L1661.2 794.1 L1661.6 795.5 L1661.9 797.0 L1662.3 798.4 L1662.7 799.9 L1663.1 801.3 L1663.5 802.8 L1663.9 804.2 L1664.4 805.6 L1664.9 807.0 L1665.4 808.4 L1666.0 809.8 L1666.6 811.2 L1667.3 812.5 L1668.1 813.7 L1669.0 814.9 L1670.1 815.9 L1671.3 816.7 L1672.5 817.2 L1673.9 817.4 L1675.3 817.2 L1676.6 816.8 L1677.8 816.0 L1678.9 815.1 L1679.8 814.0 L1680.6 812.8 L1681.4 811.5 L1682.0 810.1 L1682.7 808.8 L1683.2 807.4 L1683.8 806.0 L1684.3 804.6 L1684.8 803.2 L1685.2 801.7 L1685.7 800.3 L1686.1 798.9 L1686.5 797.4 L1686.9 796.0 L1687.3 794.5 L1687.6 793.1 L1688.0 791.6 L1688.4 790.2 L1688.7 788.7 L1689.1 787.2 L1689.4 785.8 L1689.7 784.3 L1690.1 782.8 L1690.4 781.4 L1690.7 779.9 L1691.0 778.5 L1691.4 777.0 L1691.7 775.5 L1692.0 774.1 L1692.3 772.6 L1692.7 771.1 L1693.0 769.7 L1693.3 768.2 L1693.6 766.7 L1693.9 765.3 L1694.2 763.8 L1694.5 762.3 L1694.8 760.8 L1695.1 759.4 L1695.4 757.9 L1695.7 756.4 L1696.0 755.0 L1696.3 753.5 L1696.6 752.0 L1696.9 750.6 L1697.2 749.1 L1697.5 747.6 L1697.8 746.2 L1698.2 744.7 L1698.6 743.3 L1699.0 741.8 L1699.4 740.4 L1699.9 738.9 L1700.3 737.5 L1700.9 736.1 L1701.4 734.7 L1702.1 733.4 L1702.8 732.1 L1703.6 730.9 L1704.6 730.0 L1705.8 729.4 L1707.0 729.1 L1708.1 729.4 L1709.1 730.1 L1710.0 731.1 L1710.7 732.4 L1711.4 733.7 L1711.9 735.1 L1712.4 736.5 L1712.9 737.9 L1713.3 739.4 L1713.7 740.8 L1714.1 742.3 L1714.4 743.7 L1714.8 745.2 L1715.2 746.6 L1715.5 748.1 L1715.9 749.5 L1716.3 751.0 L1716.6 751.9"/>
</g>
<text transform="translate(17,108.2) scale(1.032,1)" font-size="96">(a)</text>
<g font-size="67" text-anchor="end">
<text x="338" y="1134.8">0</text>
<text x="339.3" y="980.9">1x10<tspan font-size="41.5" dy="-36.5">4</tspan></text>
<text x="339.3" y="813.2">2x10<tspan font-size="41.5" dy="-36.5">4</tspan></text>
<text x="339.3" y="645.5">3x10<tspan font-size="41.5" dy="-36.5">4</tspan></text>
<text x="339.3" y="477.8">4x10<tspan font-size="41.5" dy="-36.5">4</tspan></text>
<text x="339.3" y="310.1">5x10<tspan font-size="41.5" dy="-36.5">4</tspan></text>
<text x="339.3" y="142.4">6x10<tspan font-size="41.5" dy="-36.5">4</tspan></text>
</g>
<g font-size="67" text-anchor="middle">
<text x="362.3" y="1198.8">1200</text>
<text x="700.9" y="1198.8">1300</text>
<text x="1039.5" y="1198.8">1400</text>
<text x="1378.0" y="1198.8">1500</text>
<text x="1716.6" y="1198.8">1600</text>
</g>
<text transform="translate(664.5,1342) scale(1.008,1)" font-size="86">Wavenumber (cm<tspan font-size="50" dy="-46">-1</tspan><tspan dy="46">)</tspan></text>
<text transform="translate(114.6,851) rotate(-90)" font-size="86">Intensity (a.u.)</text>
<g font-size="62">
<text x="1739.0" y="756.5">5 min</text>
<text x="1729.5" y="847.8">10 min</text>
<text x="1739.5" y="936.0">20 min</text>
<text x="1742.0" y="1017.5">30 min</text>
<text x="1736.5" y="1080.0">Control</text>
</g>
</g>
<g id="plot-b">
<g stroke="#000" stroke-width="6" fill="none" shape-rendering="crispEdges">
<line x1="362.2" y1="2425.2" x2="382.2" y2="2425.2"/>
<line x1="362.2" y1="2243.0" x2="382.2" y2="2243.0"/>
<line x1="362.2" y1="2060.8" x2="382.2" y2="2060.8"/>
<line x1="362.2" y1="1878.7" x2="382.2" y2="1878.7"/>
<line x1="362.2" y1="1696.5" x2="382.2" y2="1696.5"/>
<line x1="362.2" y1="2334.1" x2="374.2" y2="2334.1"/>
<line x1="362.2" y1="2151.9" x2="374.2" y2="2151.9"/>
<line x1="362.2" y1="1969.8" x2="374.2" y2="1969.8"/>
<line x1="362.2" y1="1787.6" x2="374.2" y2="1787.6"/>
<line x1="362.2" y1="1605.4" x2="374.2" y2="1605.4"/>
<line x1="1721.7" y1="2314.8" x2="1699.7" y2="2314.8"/>
<line x1="1721.7" y1="2114.4" x2="1699.7" y2="2114.4"/>
<line x1="1721.7" y1="1914.0" x2="1699.7" y2="1914.0"/>
<line x1="1721.7" y1="1713.6" x2="1699.7" y2="1713.6"/>
<line x1="1721.7" y1="2415.0" x2="1710.7" y2="2415.0"/>
<line x1="1721.7" y1="2214.6" x2="1710.7" y2="2214.6"/>
<line x1="1721.7" y1="2014.2" x2="1710.7" y2="2014.2"/>
<line x1="1721.7" y1="1813.8" x2="1710.7" y2="1813.8"/>
<line x1="1721.7" y1="1613.4" x2="1710.7" y2="1613.4"/>
<line x1="556.4" y1="2515.2" x2="556.4" y2="2494.2"/>
<line x1="750.6" y1="2515.2" x2="750.6" y2="2494.2"/>
<line x1="944.8" y1="2515.2" x2="944.8" y2="2494.2"/>
<line x1="1139.1" y1="2515.2" x2="1139.1" y2="2494.2"/>
<line x1="1333.3" y1="2515.2" x2="1333.3" y2="2494.2"/>
<line x1="1527.5" y1="2515.2" x2="1527.5" y2="2494.2"/>
<line x1="459.3" y1="2515.2" x2="459.3" y2="2504.2"/>
<line x1="653.5" y1="2515.2" x2="653.5" y2="2504.2"/>
<line x1="847.7" y1="2515.2" x2="847.7" y2="2504.2"/>
<line x1="1042.0" y1="2515.2" x2="1042.0" y2="2504.2"/>
<line x1="1236.2" y1="2515.2" x2="1236.2" y2="2504.2"/>
<line x1="1430.4" y1="2515.2" x2="1430.4" y2="2504.2"/>
<line x1="1624.6" y1="2515.2" x2="1624.6" y2="2504.2"/>
</g>
<g stroke="#000" fill="none" shape-rendering="crispEdges">
<line x1="362.2" y1="1510.2" x2="362.2" y2="2518.2" stroke-width="8"/>
<line x1="1721.7" y1="1510.2" x2="1721.7" y2="2518.2" stroke-width="6"/>
<line x1="362.2" y1="1513.2" x2="1721.7" y2="1513.2" stroke-width="6"/>
<line x1="362.2" y1="2515.2" x2="1721.7" y2="2515.2" stroke-width="6"/>
</g>
<line x1="566.7" y1="1651.0" x2="740.7" y2="2037.5" stroke="#000000" stroke-width="10"/>
<line x1="769.5" y1="2077.1" x2="1121.2" y2="2396.4" stroke="#000000" stroke-width="10"/>
<line x1="1164.6" y1="2411.5" x2="1503.1" y2="2387.9" stroke="#000000" stroke-width="10"/>
<rect x="540.4" y="1612.2" width="32" height="32" fill="#000000" shape-rendering="crispEdges"/>
<rect x="735.0" y="2044.3" width="32" height="32" fill="#000000" shape-rendering="crispEdges"/>
<rect x="1123.7" y="2397.2" width="32" height="32" fill="#000000" shape-rendering="crispEdges"/>
<rect x="1512.0" y="2370.2" width="32" height="32" fill="#000000" shape-rendering="crispEdges"/>
<line x1="577.6" y1="1736.7" x2="729.5" y2="1832.0" stroke="#ff0000" stroke-width="10"/>
<line x1="766.8" y1="1864.4" x2="1123.6" y2="2289.2" stroke="#ff0000" stroke-width="10"/>
<line x1="1162.6" y1="2318.2" x2="1505.1" y2="2466.4" stroke="#ff0000" stroke-width="10"/>
<rect x="540.4" y="1707.4" width="32" height="32" fill="#ff0000" shape-rendering="crispEdges"/>
<rect x="734.7" y="1829.3" width="32" height="32" fill="#ff0000" shape-rendering="crispEdges"/>
<rect x="1123.7" y="2292.3" width="32" height="32" fill="#ff0000" shape-rendering="crispEdges"/>
<rect x="1512.0" y="2460.3" width="32" height="32" fill="#ff0000" shape-rendering="crispEdges"/>
<rect x="450" y="1628" width="74" height="8" fill="#000"/>
<polygon points="454,1614 454,1648.5 418,1631.5" fill="#000"/>
<rect x="1560.5" y="2476" width="91.5" height="6.5" fill="#ff0000"/>
<polygon points="1648.5,2462 1648.5,2496.5 1685,2479.3" fill="#ff0000"/>
<text transform="translate(55.2,1536.3) scale(1.03,1)" font-size="96">(b)</text>
<g font-size="64" text-anchor="end">
<text x="340" y="2442.6">4.0</text>
<text x="340" y="2260.4">5.0</text>
<text x="340" y="2078.2">6.0</text>
<text x="340" y="1896.1">7.0</text>
<text x="340" y="1713.9">8.0</text>
<text x="340" y="1531.7">9.0</text>
</g>
<g font-size="64" fill="#ff0000" style="fill:#ff0000">
<text x="1742" y="2532.7">0.0</text>
<text x="1742" y="2332.3">1.5</text>
<text x="1742" y="2131.9">3.0</text>
<text x="1742" y="1931.5">4.5</text>
<text x="1742" y="1731.1">6.0</text>
<text x="1742" y="1530.7">7.5</text>
</g>
<g font-size="64" text-anchor="middle">
<text x="362.2" y="2587.5">0</text>
<text x="556.4" y="2587.5">5</text>
<text x="750.6" y="2587.5">10</text>
<text x="944.8" y="2587.5">15</text>
<text x="1139.1" y="2587.5">20</text>
<text x="1333.3" y="2587.5">25</text>
<text x="1527.5" y="2587.5">30</text>
<text x="1721.7" y="2587.5">35</text>
</g>
<text x="1077.5" y="2694" font-size="81" text-anchor="middle">time (min)</text>
<g transform="translate(186,0) rotate(-90)">
<text x="-2300.7" y="0" font-size="64">N</text>
<text x="-2236.6" y="32.3" font-size="64">NPs</text>
<text x="-2077" y="0" font-size="80">(µ<tspan dx="-3">m</tspan><tspan font-size="50" dy="-43.9">-2</tspan><tspan dy="43.9">) x </tspan><tspan dx="3">10</tspan><tspan font-size="69" dx="-2" dy="-43.9">3</tspan></text>
</g>
<text fill="#ff0000" transform="translate(1955.2,2185) rotate(-90)" font-size="81">EF (x 10<tspan font-size="64" dy="-44.2">5</tspan><tspan dy="44.2">)</tspan></text>
</g>
</svg></body></html>
